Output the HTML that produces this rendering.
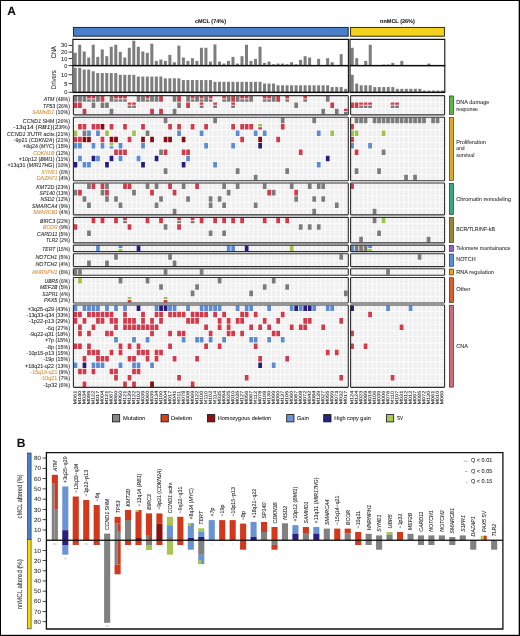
<!DOCTYPE html>
<html><head><meta charset="utf-8"><style>
html,body{margin:0;padding:0;background:#fff;width:520px;height:636px;overflow:hidden}
svg{display:block;font-family:"Liberation Sans", sans-serif;will-change:transform;text-rendering:geometricPrecision}
text{stroke:#2a2a2a;stroke-width:0.07px}
.o{fill:#d98a35;stroke:#d98a35}
</style></head><body>
<svg width="520" height="636" viewBox="0 0 520 636" shape-rendering="auto">
<rect width="520" height="636" fill="#fff"/>
<rect x="0.00" y="0.00" width="520.00" height="1.00" fill="#000" />
<rect x="0.00" y="0.00" width="1.00" height="636.00" fill="#000" />
<rect x="518.70" y="0.00" width="1.30" height="636.00" fill="#000" />
<rect x="0.00" y="634.80" width="520.00" height="1.20" fill="#000" />
<text x="7.2" y="15.3" font-size="12" font-weight="bold" fill="#111">A</text>
<text x="16.7" y="447" font-size="12" font-weight="bold" fill="#111">B</text>
<text x="195" y="23.2" font-size="5.5" font-weight="bold" fill="#111" textLength="31" lengthAdjust="spacingAndGlyphs">cMCL (74%)</text>
<text x="380.1" y="23.2" font-size="5.5" font-weight="bold" fill="#111" textLength="34.7" lengthAdjust="spacingAndGlyphs">nnMCL (26%)</text>
<rect x="73.4" y="27.4" width="274.8" height="8.8" fill="#4a7fc9" stroke="#101828" stroke-width="0.9"/>
<rect x="350.6" y="27.4" width="93.8" height="8.8" fill="#f4d11c" stroke="#201a00" stroke-width="0.9"/>
<rect x="73.70" y="52.81" width="3.00" height="12.79" fill="#7d7d7d" />
<rect x="73.70" y="67.80" width="3.00" height="24.50" fill="#7d7d7d" />
<rect x="78.21" y="44.74" width="3.00" height="20.86" fill="#7d7d7d" />
<rect x="78.21" y="67.80" width="3.00" height="24.50" fill="#7d7d7d" />
<rect x="82.72" y="51.47" width="3.00" height="14.13" fill="#7d7d7d" />
<rect x="82.72" y="69.55" width="3.00" height="22.75" fill="#7d7d7d" />
<rect x="87.22" y="57.52" width="3.00" height="8.08" fill="#7d7d7d" />
<rect x="87.22" y="69.55" width="3.00" height="22.75" fill="#7d7d7d" />
<rect x="91.73" y="44.74" width="3.00" height="20.86" fill="#7d7d7d" />
<rect x="91.73" y="71.30" width="3.00" height="21.00" fill="#7d7d7d" />
<rect x="96.24" y="56.85" width="3.00" height="8.75" fill="#7d7d7d" />
<rect x="96.24" y="73.05" width="3.00" height="19.25" fill="#7d7d7d" />
<rect x="100.75" y="49.45" width="3.00" height="16.15" fill="#7d7d7d" />
<rect x="100.75" y="73.05" width="3.00" height="19.25" fill="#7d7d7d" />
<rect x="105.26" y="56.18" width="3.00" height="9.42" fill="#7d7d7d" />
<rect x="105.26" y="73.05" width="3.00" height="19.25" fill="#7d7d7d" />
<rect x="109.76" y="46.76" width="3.00" height="18.84" fill="#7d7d7d" />
<rect x="109.76" y="73.05" width="3.00" height="19.25" fill="#7d7d7d" />
<rect x="114.27" y="44.74" width="3.00" height="20.86" fill="#7d7d7d" />
<rect x="114.27" y="73.05" width="3.00" height="19.25" fill="#7d7d7d" />
<rect x="118.78" y="51.80" width="3.00" height="13.80" fill="#7d7d7d" />
<rect x="118.78" y="74.80" width="3.00" height="17.50" fill="#7d7d7d" />
<rect x="123.29" y="57.52" width="3.00" height="8.08" fill="#7d7d7d" />
<rect x="123.29" y="74.80" width="3.00" height="17.50" fill="#7d7d7d" />
<rect x="127.80" y="47.77" width="3.00" height="17.83" fill="#7d7d7d" />
<rect x="127.80" y="74.80" width="3.00" height="17.50" fill="#7d7d7d" />
<rect x="132.30" y="40.70" width="3.00" height="24.90" fill="#7d7d7d" />
<rect x="132.30" y="74.80" width="3.00" height="17.50" fill="#7d7d7d" />
<rect x="136.81" y="46.76" width="3.00" height="18.84" fill="#7d7d7d" />
<rect x="136.81" y="76.55" width="3.00" height="15.75" fill="#7d7d7d" />
<rect x="141.32" y="51.47" width="3.00" height="14.13" fill="#7d7d7d" />
<rect x="141.32" y="76.55" width="3.00" height="15.75" fill="#7d7d7d" />
<rect x="145.83" y="52.81" width="3.00" height="12.79" fill="#7d7d7d" />
<rect x="145.83" y="76.55" width="3.00" height="15.75" fill="#7d7d7d" />
<rect x="150.34" y="43.66" width="3.00" height="21.94" fill="#7d7d7d" />
<rect x="150.34" y="76.55" width="3.00" height="15.75" fill="#7d7d7d" />
<rect x="154.84" y="60.89" width="3.00" height="4.71" fill="#7d7d7d" />
<rect x="154.84" y="76.55" width="3.00" height="15.75" fill="#7d7d7d" />
<rect x="159.35" y="59.54" width="3.00" height="6.06" fill="#7d7d7d" />
<rect x="159.35" y="76.55" width="3.00" height="15.75" fill="#7d7d7d" />
<rect x="163.86" y="60.89" width="3.00" height="4.71" fill="#7d7d7d" />
<rect x="163.86" y="78.30" width="3.00" height="14.00" fill="#7d7d7d" />
<rect x="168.37" y="54.83" width="3.00" height="10.77" fill="#7d7d7d" />
<rect x="168.37" y="78.30" width="3.00" height="14.00" fill="#7d7d7d" />
<rect x="172.88" y="62.23" width="3.00" height="3.37" fill="#7d7d7d" />
<rect x="172.88" y="78.30" width="3.00" height="14.00" fill="#7d7d7d" />
<rect x="177.38" y="45.68" width="3.00" height="19.92" fill="#7d7d7d" />
<rect x="177.38" y="78.30" width="3.00" height="14.00" fill="#7d7d7d" />
<rect x="181.89" y="57.52" width="3.00" height="8.08" fill="#7d7d7d" />
<rect x="181.89" y="80.05" width="3.00" height="12.25" fill="#7d7d7d" />
<rect x="186.40" y="60.89" width="3.00" height="4.71" fill="#7d7d7d" />
<rect x="186.40" y="80.05" width="3.00" height="12.25" fill="#7d7d7d" />
<rect x="190.91" y="58.20" width="3.00" height="7.40" fill="#7d7d7d" />
<rect x="190.91" y="80.05" width="3.00" height="12.25" fill="#7d7d7d" />
<rect x="195.42" y="60.89" width="3.00" height="4.71" fill="#7d7d7d" />
<rect x="195.42" y="80.05" width="3.00" height="12.25" fill="#7d7d7d" />
<rect x="199.92" y="47.77" width="3.00" height="17.83" fill="#7d7d7d" />
<rect x="199.92" y="80.05" width="3.00" height="12.25" fill="#7d7d7d" />
<rect x="204.43" y="47.77" width="3.00" height="17.83" fill="#7d7d7d" />
<rect x="204.43" y="80.05" width="3.00" height="12.25" fill="#7d7d7d" />
<rect x="208.94" y="61.56" width="3.00" height="4.04" fill="#7d7d7d" />
<rect x="208.94" y="80.05" width="3.00" height="12.25" fill="#7d7d7d" />
<rect x="213.45" y="44.47" width="3.00" height="21.13" fill="#7d7d7d" />
<rect x="213.45" y="81.80" width="3.00" height="10.50" fill="#7d7d7d" />
<rect x="217.96" y="61.56" width="3.00" height="4.04" fill="#7d7d7d" />
<rect x="217.96" y="81.80" width="3.00" height="10.50" fill="#7d7d7d" />
<rect x="222.46" y="63.58" width="3.00" height="2.02" fill="#7d7d7d" />
<rect x="222.46" y="81.80" width="3.00" height="10.50" fill="#7d7d7d" />
<rect x="226.97" y="60.89" width="3.00" height="4.71" fill="#7d7d7d" />
<rect x="226.97" y="81.80" width="3.00" height="10.50" fill="#7d7d7d" />
<rect x="231.48" y="56.85" width="3.00" height="8.75" fill="#7d7d7d" />
<rect x="231.48" y="81.80" width="3.00" height="10.50" fill="#7d7d7d" />
<rect x="235.99" y="63.58" width="3.00" height="2.02" fill="#7d7d7d" />
<rect x="235.99" y="81.80" width="3.00" height="10.50" fill="#7d7d7d" />
<rect x="240.50" y="56.18" width="3.00" height="9.42" fill="#7d7d7d" />
<rect x="240.50" y="81.80" width="3.00" height="10.50" fill="#7d7d7d" />
<rect x="245.00" y="44.74" width="3.00" height="20.86" fill="#7d7d7d" />
<rect x="245.00" y="81.80" width="3.00" height="10.50" fill="#7d7d7d" />
<rect x="249.51" y="60.89" width="3.00" height="4.71" fill="#7d7d7d" />
<rect x="249.51" y="81.80" width="3.00" height="10.50" fill="#7d7d7d" />
<rect x="254.02" y="58.87" width="3.00" height="6.73" fill="#7d7d7d" />
<rect x="254.02" y="81.80" width="3.00" height="10.50" fill="#7d7d7d" />
<rect x="258.53" y="46.76" width="3.00" height="18.84" fill="#7d7d7d" />
<rect x="258.53" y="81.80" width="3.00" height="10.50" fill="#7d7d7d" />
<rect x="263.04" y="62.91" width="3.00" height="2.69" fill="#7d7d7d" />
<rect x="263.04" y="83.55" width="3.00" height="8.75" fill="#7d7d7d" />
<rect x="267.54" y="61.56" width="3.00" height="4.04" fill="#7d7d7d" />
<rect x="267.54" y="83.55" width="3.00" height="8.75" fill="#7d7d7d" />
<rect x="272.05" y="64.25" width="3.00" height="1.35" fill="#7d7d7d" />
<rect x="272.05" y="83.55" width="3.00" height="8.75" fill="#7d7d7d" />
<rect x="276.56" y="63.58" width="3.00" height="2.02" fill="#7d7d7d" />
<rect x="276.56" y="85.30" width="3.00" height="7.00" fill="#7d7d7d" />
<rect x="281.07" y="63.58" width="3.00" height="2.02" fill="#7d7d7d" />
<rect x="281.07" y="85.30" width="3.00" height="7.00" fill="#7d7d7d" />
<rect x="285.58" y="64.25" width="3.00" height="1.35" fill="#7d7d7d" />
<rect x="285.58" y="85.30" width="3.00" height="7.00" fill="#7d7d7d" />
<rect x="290.08" y="62.23" width="3.00" height="3.37" fill="#7d7d7d" />
<rect x="290.08" y="85.30" width="3.00" height="7.00" fill="#7d7d7d" />
<rect x="294.59" y="64.25" width="3.00" height="1.35" fill="#7d7d7d" />
<rect x="294.59" y="85.30" width="3.00" height="7.00" fill="#7d7d7d" />
<rect x="299.10" y="59.81" width="3.00" height="5.79" fill="#7d7d7d" />
<rect x="299.10" y="85.30" width="3.00" height="7.00" fill="#7d7d7d" />
<rect x="303.61" y="56.18" width="3.00" height="9.42" fill="#7d7d7d" />
<rect x="303.61" y="85.30" width="3.00" height="7.00" fill="#7d7d7d" />
<rect x="308.12" y="57.52" width="3.00" height="8.08" fill="#7d7d7d" />
<rect x="308.12" y="85.30" width="3.00" height="7.00" fill="#7d7d7d" />
<rect x="312.62" y="85.30" width="3.00" height="7.00" fill="#7d7d7d" />
<rect x="317.13" y="58.87" width="3.00" height="6.73" fill="#7d7d7d" />
<rect x="317.13" y="85.30" width="3.00" height="7.00" fill="#7d7d7d" />
<rect x="321.64" y="85.30" width="3.00" height="7.00" fill="#7d7d7d" />
<rect x="326.15" y="58.20" width="3.00" height="7.40" fill="#7d7d7d" />
<rect x="326.15" y="85.30" width="3.00" height="7.00" fill="#7d7d7d" />
<rect x="330.66" y="62.23" width="3.00" height="3.37" fill="#7d7d7d" />
<rect x="330.66" y="87.05" width="3.00" height="5.25" fill="#7d7d7d" />
<rect x="335.16" y="87.05" width="3.00" height="5.25" fill="#7d7d7d" />
<rect x="339.67" y="54.16" width="3.00" height="11.44" fill="#7d7d7d" />
<rect x="339.67" y="87.05" width="3.00" height="5.25" fill="#7d7d7d" />
<rect x="344.18" y="88.80" width="3.00" height="3.50" fill="#7d7d7d" />
<rect x="350.70" y="47.77" width="3.00" height="17.83" fill="#7d7d7d" />
<rect x="350.70" y="74.80" width="3.00" height="17.50" fill="#7d7d7d" />
<rect x="355.21" y="58.20" width="3.00" height="7.40" fill="#7d7d7d" />
<rect x="355.21" y="83.55" width="3.00" height="8.75" fill="#7d7d7d" />
<rect x="359.72" y="85.30" width="3.00" height="7.00" fill="#7d7d7d" />
<rect x="364.23" y="60.89" width="3.00" height="4.71" fill="#7d7d7d" />
<rect x="364.23" y="85.30" width="3.00" height="7.00" fill="#7d7d7d" />
<rect x="368.74" y="44.74" width="3.00" height="20.86" fill="#7d7d7d" />
<rect x="368.74" y="85.30" width="3.00" height="7.00" fill="#7d7d7d" />
<rect x="373.25" y="87.05" width="3.00" height="5.25" fill="#7d7d7d" />
<rect x="377.76" y="87.05" width="3.00" height="5.25" fill="#7d7d7d" />
<rect x="382.27" y="64.59" width="3.00" height="1.01" fill="#7d7d7d" />
<rect x="382.27" y="87.05" width="3.00" height="5.25" fill="#7d7d7d" />
<rect x="386.78" y="64.59" width="3.00" height="1.01" fill="#7d7d7d" />
<rect x="386.78" y="87.05" width="3.00" height="5.25" fill="#7d7d7d" />
<rect x="391.29" y="62.91" width="3.00" height="2.69" fill="#7d7d7d" />
<rect x="391.29" y="87.05" width="3.00" height="5.25" fill="#7d7d7d" />
<rect x="395.80" y="88.80" width="3.00" height="3.50" fill="#7d7d7d" />
<rect x="400.31" y="60.89" width="3.00" height="4.71" fill="#7d7d7d" />
<rect x="400.31" y="88.80" width="3.00" height="3.50" fill="#7d7d7d" />
<rect x="404.82" y="88.80" width="3.00" height="3.50" fill="#7d7d7d" />
<rect x="409.33" y="65.20" width="3.00" height="0.40" fill="#7d7d7d" />
<rect x="409.33" y="88.80" width="3.00" height="3.50" fill="#7d7d7d" />
<rect x="413.84" y="88.80" width="3.00" height="3.50" fill="#7d7d7d" />
<rect x="418.35" y="88.80" width="3.00" height="3.50" fill="#7d7d7d" />
<rect x="422.86" y="90.55" width="3.00" height="1.75" fill="#7d7d7d" />
<rect x="427.37" y="63.58" width="3.00" height="2.02" fill="#7d7d7d" />
<rect x="427.37" y="90.55" width="3.00" height="1.75" fill="#7d7d7d" />
<rect x="431.88" y="65.20" width="3.00" height="0.40" fill="#7d7d7d" />
<rect x="431.88" y="90.55" width="3.00" height="1.75" fill="#7d7d7d" />
<rect x="436.39" y="90.55" width="3.00" height="1.75" fill="#7d7d7d" />
<rect x="440.90" y="90.55" width="3.00" height="1.75" fill="#7d7d7d" />
<path d="M72.9 92.3 V39.4 H348.4 V92.3" fill="none" stroke="#111" stroke-width="1.1"/>
<rect x="72.40" y="64.90" width="276.50" height="1.50" fill="#0a0a0a" />
<rect x="72.40" y="91.60" width="276.50" height="1.50" fill="#0a0a0a" />
<path d="M350.0 92.3 V39.4 H444.8 V92.3" fill="none" stroke="#111" stroke-width="1.1"/>
<rect x="349.50" y="64.90" width="95.80" height="1.50" fill="#0a0a0a" />
<rect x="349.50" y="91.60" width="95.80" height="1.50" fill="#0a0a0a" />
<rect x="68.60" y="44.95" width="3.60" height="0.90" fill="#222" />
<text x="67.3" y="47.40" font-size="5.7" fill="#222" text-anchor="end">30</text>
<rect x="68.60" y="51.65" width="3.60" height="0.90" fill="#222" />
<text x="67.3" y="54.10" font-size="5.7" fill="#222" text-anchor="end">20</text>
<rect x="68.60" y="58.15" width="3.60" height="0.90" fill="#222" />
<text x="67.3" y="60.60" font-size="5.7" fill="#222" text-anchor="end">10</text>
<rect x="68.60" y="65.15" width="3.60" height="0.90" fill="#222" />
<text x="67.3" y="67.60" font-size="5.7" fill="#222" text-anchor="end">0</text>
<rect x="68.60" y="74.35" width="3.60" height="0.90" fill="#222" />
<text x="67.3" y="76.80" font-size="5.7" fill="#222" text-anchor="end">10</text>
<rect x="68.60" y="83.25" width="3.60" height="0.90" fill="#222" />
<text x="67.3" y="85.70" font-size="5.7" fill="#222" text-anchor="end">5</text>
<rect x="68.60" y="91.85" width="3.60" height="0.90" fill="#222" />
<text x="67.3" y="94.30" font-size="5.7" fill="#222" text-anchor="end">0</text>
<text x="0" y="0" font-size="6.9" fill="#222" transform="translate(56.0 52.2) rotate(-90)" text-anchor="middle" textLength="12" lengthAdjust="spacingAndGlyphs">CNA</text>
<text x="0" y="0" font-size="6.9" fill="#222" transform="translate(55.6 79.7) rotate(-90)" text-anchor="middle" textLength="19" lengthAdjust="spacingAndGlyphs">Drivers</text>
<rect x="449.3" y="95.94" width="4.2" height="18.59" fill="#5db64b" stroke="#222" stroke-width="0.6"/>
<text x="456.2" y="104.10" font-size="5.7" fill="#333" textLength="33.20" lengthAdjust="spacingAndGlyphs">DNA damage</text>
<text x="456.2" y="110.50" font-size="5.7" fill="#333" textLength="21.80" lengthAdjust="spacingAndGlyphs">response</text>
<rect x="449.3" y="117.53" width="4.2" height="62.90" fill="#d9a92c" stroke="#222" stroke-width="0.6"/>
<text x="456.2" y="143.80" font-size="5.7" fill="#333" textLength="29.80" lengthAdjust="spacingAndGlyphs">Proliferation</text>
<text x="456.2" y="150.30" font-size="5.7" fill="#333" textLength="8.40" lengthAdjust="spacingAndGlyphs">and</text>
<text x="456.2" y="156.80" font-size="5.7" fill="#333" textLength="18.20" lengthAdjust="spacingAndGlyphs">survival</text>
<rect x="449.3" y="183.34" width="4.2" height="31.25" fill="#39a97c" stroke="#222" stroke-width="0.6"/>
<text x="456.2" y="200.60" font-size="5.7" fill="#333" textLength="54.80" lengthAdjust="spacingAndGlyphs">Chromatin remodeling</text>
<rect x="449.3" y="217.63" width="4.2" height="24.92" fill="#968838" stroke="#222" stroke-width="0.6"/>
<text x="456.2" y="231.30" font-size="5.7" fill="#333" textLength="38.80" lengthAdjust="spacingAndGlyphs">BCR/TLR/NF-kB</text>
<rect x="449.3" y="245.44" width="4.2" height="5.93" fill="#9467bf" stroke="#222" stroke-width="0.6"/>
<text x="456.2" y="249.50" font-size="5.7" fill="#333" textLength="54.40" lengthAdjust="spacingAndGlyphs">Telomere mantainance</text>
<rect x="449.3" y="254.03" width="4.2" height="12.26" fill="#5a8fd8" stroke="#222" stroke-width="0.6"/>
<text x="456.2" y="261.30" font-size="5.7" fill="#333" textLength="19.40" lengthAdjust="spacingAndGlyphs">NOTCH</text>
<rect x="449.3" y="269.03" width="4.2" height="5.93" fill="#f0a020" stroke="#222" stroke-width="0.6"/>
<text x="456.2" y="273.60" font-size="5.7" fill="#333" textLength="37.80" lengthAdjust="spacingAndGlyphs">RNA regulation</text>
<rect x="449.3" y="277.73" width="4.2" height="24.92" fill="#da5e2e" stroke="#222" stroke-width="0.6"/>
<text x="456.2" y="291.30" font-size="5.7" fill="#333" textLength="14.10" lengthAdjust="spacingAndGlyphs">Other</text>
<rect x="449.3" y="305.23" width="4.2" height="81.89" fill="#cc6e76" stroke="#222" stroke-width="0.6"/>
<text x="456.2" y="347.70" font-size="5.7" fill="#333" textLength="11.80" lengthAdjust="spacingAndGlyphs">CNA</text>
<path fill="#7b7b7b" d="M73.58 96.12h3.75v5.55h-3.75zM78.08 96.12h3.75v5.55h-3.75zM82.59 96.12h3.75v5.55h-3.75zM87.09 99.25h3.75v2.42h-3.75zM91.60 99.25h3.75v2.42h-3.75zM96.10 96.12h3.75v5.55h-3.75zM109.62 96.12h3.75v5.55h-3.75zM114.12 99.25h3.75v2.42h-3.75zM118.63 99.25h3.75v2.42h-3.75zM123.13 99.25h3.75v2.42h-3.75zM136.65 96.12h3.75v5.55h-3.75zM141.15 96.12h3.75v5.55h-3.75zM145.66 99.25h3.75v2.42h-3.75zM150.16 96.12h3.75v5.55h-3.75zM154.67 96.12h3.75v5.55h-3.75zM172.69 96.12h3.75v5.55h-3.75zM186.20 96.12h3.75v5.55h-3.75zM190.71 99.25h3.75v2.42h-3.75zM195.21 96.12h3.75v5.55h-3.75zM199.72 99.25h3.75v2.42h-3.75zM204.22 96.12h3.75v5.55h-3.75zM208.73 99.25h3.75v2.42h-3.75zM222.24 99.25h3.75v2.42h-3.75zM226.75 96.12h3.75v5.55h-3.75zM235.76 96.12h3.75v5.55h-3.75zM240.26 99.25h3.75v2.42h-3.75zM244.77 99.25h3.75v2.42h-3.75zM249.27 96.12h3.75v5.55h-3.75zM262.79 99.25h3.75v2.42h-3.75zM267.29 99.25h3.75v2.42h-3.75zM271.80 96.12h3.75v5.55h-3.75zM285.31 99.25h3.75v2.42h-3.75zM303.33 99.25h3.75v2.42h-3.75zM325.86 96.12h3.75v5.55h-3.75zM91.60 102.45h3.75v5.55h-3.75zM100.61 102.45h3.75v5.55h-3.75zM105.11 102.45h3.75v5.55h-3.75zM127.64 105.58h3.75v2.42h-3.75zM132.14 105.58h3.75v2.42h-3.75zM177.19 102.45h3.75v5.55h-3.75zM199.72 105.58h3.75v2.42h-3.75zM213.23 105.58h3.75v2.42h-3.75zM231.25 105.58h3.75v2.42h-3.75zM294.32 102.45h3.75v5.55h-3.75zM359.18 105.58h3.75v2.42h-3.75zM363.68 105.58h3.75v2.42h-3.75zM368.18 105.58h3.75v2.42h-3.75zM390.68 105.58h3.75v2.42h-3.75zM395.18 105.58h3.75v2.42h-3.75zM109.62 108.78h3.75v5.55h-3.75zM172.69 108.78h3.75v5.55h-3.75zM321.35 108.78h3.75v5.55h-3.75zM334.87 108.78h3.75v5.55h-3.75zM343.88 111.91h3.75v2.42h-3.75zM163.68 117.72h3.75v5.55h-3.75zM213.23 117.72h3.75v5.55h-3.75zM280.81 117.72h3.75v5.55h-3.75zM312.34 117.72h3.75v5.55h-3.75zM354.68 117.72h3.75v5.55h-3.75zM359.18 117.72h3.75v5.55h-3.75zM363.68 117.72h3.75v5.55h-3.75zM372.68 117.72h3.75v5.55h-3.75zM377.18 117.72h3.75v5.55h-3.75zM381.68 117.72h3.75v5.55h-3.75zM386.18 117.72h3.75v5.55h-3.75zM390.68 117.72h3.75v5.55h-3.75zM395.18 117.72h3.75v5.55h-3.75zM399.68 117.72h3.75v5.55h-3.75zM404.18 117.72h3.75v5.55h-3.75zM408.68 117.72h3.75v5.55h-3.75zM413.18 117.72h3.75v5.55h-3.75zM417.68 117.72h3.75v5.55h-3.75zM422.18 117.72h3.75v5.55h-3.75zM431.18 117.72h3.75v5.55h-3.75zM435.68 117.72h3.75v5.55h-3.75zM82.59 130.38h3.75v5.55h-3.75zM145.66 130.38h3.75v5.55h-3.75zM159.17 149.38h3.75v5.55h-3.75zM381.68 149.38h3.75v5.55h-3.75zM163.68 168.36h3.75v5.55h-3.75zM235.76 168.36h3.75v5.55h-3.75zM285.31 168.36h3.75v5.55h-3.75zM354.68 168.36h3.75v5.55h-3.75zM377.18 168.36h3.75v5.55h-3.75zM253.78 174.69h3.75v5.55h-3.75zM404.18 174.69h3.75v5.55h-3.75zM413.18 174.69h3.75v5.55h-3.75zM87.09 183.53h3.75v5.55h-3.75zM105.11 183.53h3.75v5.55h-3.75zM145.66 183.53h3.75v5.55h-3.75zM154.67 183.53h3.75v5.55h-3.75zM181.70 183.53h3.75v5.55h-3.75zM222.24 183.53h3.75v5.55h-3.75zM235.76 183.53h3.75v5.55h-3.75zM262.79 183.53h3.75v5.55h-3.75zM289.82 183.53h3.75v5.55h-3.75zM307.84 183.53h3.75v5.55h-3.75zM316.85 183.53h3.75v5.55h-3.75zM321.35 183.53h3.75v5.55h-3.75zM73.58 189.86h3.75v5.55h-3.75zM100.61 189.86h3.75v5.55h-3.75zM132.14 189.86h3.75v5.55h-3.75zM226.75 189.86h3.75v5.55h-3.75zM271.80 189.86h3.75v5.55h-3.75zM82.59 196.19h3.75v5.55h-3.75zM105.11 196.19h3.75v5.55h-3.75zM114.12 196.19h3.75v5.55h-3.75zM159.17 196.19h3.75v5.55h-3.75zM186.20 196.19h3.75v5.55h-3.75zM208.73 196.19h3.75v5.55h-3.75zM217.74 196.19h3.75v5.55h-3.75zM294.32 196.19h3.75v5.55h-3.75zM312.34 196.19h3.75v5.55h-3.75zM321.35 196.19h3.75v5.55h-3.75zM87.09 202.52h3.75v5.55h-3.75zM118.63 202.52h3.75v5.55h-3.75zM154.67 202.52h3.75v5.55h-3.75zM208.73 202.52h3.75v5.55h-3.75zM222.24 202.52h3.75v5.55h-3.75zM253.78 202.52h3.75v5.55h-3.75zM334.87 202.52h3.75v5.55h-3.75zM172.69 208.84h3.75v5.55h-3.75zM312.34 208.84h3.75v5.55h-3.75zM372.68 208.84h3.75v5.55h-3.75zM123.13 220.95h3.75v2.42h-3.75zM177.19 220.95h3.75v2.42h-3.75zM190.71 220.95h3.75v2.42h-3.75zM372.68 217.82h3.75v5.55h-3.75zM163.68 224.16h3.75v5.55h-3.75zM298.83 224.16h3.75v5.55h-3.75zM307.84 224.16h3.75v5.55h-3.75zM316.85 224.16h3.75v5.55h-3.75zM87.09 230.48h3.75v5.55h-3.75zM208.73 230.48h3.75v5.55h-3.75zM222.24 230.48h3.75v5.55h-3.75zM377.18 230.48h3.75v5.55h-3.75zM359.18 236.81h3.75v5.55h-3.75zM426.68 236.81h3.75v5.55h-3.75zM354.68 245.62h3.75v5.55h-3.75zM359.18 245.62h3.75v5.55h-3.75zM363.68 245.62h3.75v5.55h-3.75zM114.12 254.22h3.75v5.55h-3.75zM168.18 254.22h3.75v5.55h-3.75zM339.37 254.22h3.75v5.55h-3.75zM417.68 254.22h3.75v5.55h-3.75zM87.09 260.56h3.75v5.55h-3.75zM105.11 260.56h3.75v5.55h-3.75zM172.69 260.56h3.75v5.55h-3.75zM73.58 269.23h3.75v5.55h-3.75zM78.08 269.23h3.75v5.55h-3.75zM163.68 269.23h3.75v5.55h-3.75zM199.72 269.23h3.75v5.55h-3.75zM386.18 269.23h3.75v5.55h-3.75zM118.63 277.93h3.75v5.55h-3.75zM145.66 277.93h3.75v5.55h-3.75zM217.74 277.93h3.75v5.55h-3.75zM271.80 277.93h3.75v5.55h-3.75zM159.17 284.25h3.75v5.55h-3.75zM195.21 284.25h3.75v5.55h-3.75zM262.79 284.25h3.75v5.55h-3.75zM285.31 284.25h3.75v5.55h-3.75zM190.71 290.59h3.75v5.55h-3.75zM249.27 290.59h3.75v5.55h-3.75zM343.88 290.59h3.75v5.55h-3.75z"/>
<path fill="#d03a4a" d="M87.09 96.12h3.75v2.42h-3.75zM91.60 96.12h3.75v2.42h-3.75zM100.61 96.12h3.75v5.55h-3.75zM114.12 96.12h3.75v2.42h-3.75zM118.63 96.12h3.75v2.42h-3.75zM123.13 96.12h3.75v2.42h-3.75zM145.66 96.12h3.75v2.42h-3.75zM159.17 96.12h3.75v5.55h-3.75zM177.19 96.12h3.75v5.55h-3.75zM190.71 96.12h3.75v2.42h-3.75zM199.72 96.12h3.75v2.42h-3.75zM208.73 96.12h3.75v2.42h-3.75zM222.24 96.12h3.75v2.42h-3.75zM231.25 96.12h3.75v5.55h-3.75zM240.26 96.12h3.75v2.42h-3.75zM244.77 96.12h3.75v2.42h-3.75zM262.79 96.12h3.75v2.42h-3.75zM267.29 96.12h3.75v2.42h-3.75zM276.30 96.12h3.75v5.55h-3.75zM285.31 96.12h3.75v2.42h-3.75zM303.33 96.12h3.75v2.42h-3.75zM73.58 102.45h3.75v5.55h-3.75zM78.08 102.45h3.75v5.55h-3.75zM127.64 102.45h3.75v2.42h-3.75zM132.14 102.45h3.75v2.42h-3.75zM186.20 102.45h3.75v5.55h-3.75zM199.72 102.45h3.75v2.42h-3.75zM213.23 102.45h3.75v2.42h-3.75zM231.25 102.45h3.75v2.42h-3.75zM330.36 102.45h3.75v5.55h-3.75zM350.18 102.45h3.75v5.55h-3.75zM354.68 102.45h3.75v5.55h-3.75zM359.18 102.45h3.75v2.42h-3.75zM363.68 102.45h3.75v2.42h-3.75zM368.18 102.45h3.75v2.42h-3.75zM390.68 102.45h3.75v2.42h-3.75zM395.18 102.45h3.75v2.42h-3.75zM82.59 108.78h3.75v5.55h-3.75zM150.16 108.78h3.75v5.55h-3.75zM159.17 108.78h3.75v5.55h-3.75zM343.88 108.78h3.75v2.42h-3.75zM78.08 124.05h3.75v5.55h-3.75zM82.59 124.05h3.75v5.55h-3.75zM91.60 124.05h3.75v5.55h-3.75zM96.10 124.05h3.75v5.55h-3.75zM109.62 124.05h3.75v5.55h-3.75zM123.13 124.05h3.75v5.55h-3.75zM141.15 124.05h3.75v5.55h-3.75zM168.18 124.05h3.75v5.55h-3.75zM177.19 124.05h3.75v5.55h-3.75zM190.71 124.05h3.75v5.55h-3.75zM204.22 124.05h3.75v5.55h-3.75zM231.25 124.05h3.75v5.55h-3.75zM240.26 124.05h3.75v5.55h-3.75zM244.77 124.05h3.75v5.55h-3.75zM249.27 124.05h3.75v5.55h-3.75zM258.28 127.18h3.75v2.42h-3.75zM280.81 124.05h3.75v5.55h-3.75zM350.18 124.05h3.75v5.55h-3.75zM73.58 136.72h3.75v5.55h-3.75zM78.08 136.72h3.75v5.55h-3.75zM100.61 136.72h3.75v5.55h-3.75zM127.64 136.72h3.75v5.55h-3.75zM240.26 136.72h3.75v5.55h-3.75zM276.30 136.72h3.75v5.55h-3.75zM350.18 136.72h3.75v5.55h-3.75zM114.12 149.38h3.75v5.55h-3.75zM118.63 149.38h3.75v5.55h-3.75zM123.13 149.38h3.75v5.55h-3.75zM163.68 149.38h3.75v5.55h-3.75zM181.70 149.38h3.75v5.55h-3.75zM186.20 149.38h3.75v5.55h-3.75zM298.83 149.38h3.75v5.55h-3.75zM354.68 149.38h3.75v5.55h-3.75zM91.60 183.53h3.75v5.55h-3.75zM100.61 183.53h3.75v5.55h-3.75zM123.13 183.53h3.75v5.55h-3.75zM127.64 183.53h3.75v5.55h-3.75zM168.18 183.53h3.75v5.55h-3.75zM195.21 183.53h3.75v5.55h-3.75zM350.18 183.53h3.75v5.55h-3.75zM78.08 189.86h3.75v5.55h-3.75zM105.11 189.86h3.75v5.55h-3.75zM150.16 189.86h3.75v5.55h-3.75zM172.69 189.86h3.75v5.55h-3.75zM267.29 189.86h3.75v5.55h-3.75zM294.32 189.86h3.75v5.55h-3.75zM91.60 217.82h3.75v5.55h-3.75zM100.61 217.82h3.75v5.55h-3.75zM114.12 217.82h3.75v5.55h-3.75zM123.13 217.82h3.75v2.42h-3.75zM145.66 217.82h3.75v5.55h-3.75zM159.17 217.82h3.75v5.55h-3.75zM177.19 217.82h3.75v2.42h-3.75zM190.71 217.82h3.75v2.42h-3.75zM199.72 217.82h3.75v5.55h-3.75zM213.23 217.82h3.75v5.55h-3.75zM222.24 217.82h3.75v5.55h-3.75zM231.25 217.82h3.75v5.55h-3.75zM240.26 217.82h3.75v5.55h-3.75zM262.79 217.82h3.75v5.55h-3.75zM276.30 217.82h3.75v5.55h-3.75zM285.31 217.82h3.75v5.55h-3.75zM73.58 224.16h3.75v5.55h-3.75zM127.64 224.16h3.75v5.55h-3.75zM177.19 224.16h3.75v5.55h-3.75zM127.64 300.04h3.75v2.42h-3.75zM163.68 300.04h3.75v2.42h-3.75zM73.58 311.75h3.75v5.55h-3.75zM78.08 311.75h3.75v5.55h-3.75zM87.09 311.75h3.75v5.55h-3.75zM91.60 311.75h3.75v5.55h-3.75zM96.10 311.75h3.75v5.55h-3.75zM100.61 311.75h3.75v5.55h-3.75zM105.11 311.75h3.75v5.55h-3.75zM109.62 311.75h3.75v5.55h-3.75zM123.13 311.75h3.75v5.55h-3.75zM141.15 311.75h3.75v5.55h-3.75zM154.67 311.75h3.75v5.55h-3.75zM159.17 311.75h3.75v5.55h-3.75zM168.18 311.75h3.75v5.55h-3.75zM172.69 311.75h3.75v5.55h-3.75zM177.19 311.75h3.75v5.55h-3.75zM181.70 311.75h3.75v5.55h-3.75zM190.71 311.75h3.75v5.55h-3.75zM195.21 311.75h3.75v5.55h-3.75zM199.72 311.75h3.75v5.55h-3.75zM204.22 311.75h3.75v5.55h-3.75zM213.23 311.75h3.75v5.55h-3.75zM222.24 311.75h3.75v5.55h-3.75zM240.26 311.75h3.75v5.55h-3.75zM244.77 311.75h3.75v5.55h-3.75zM253.78 311.75h3.75v5.55h-3.75zM280.81 311.75h3.75v5.55h-3.75zM368.18 311.75h3.75v5.55h-3.75zM73.58 318.09h3.75v5.55h-3.75zM82.59 318.09h3.75v5.55h-3.75zM96.10 318.09h3.75v5.55h-3.75zM100.61 318.09h3.75v5.55h-3.75zM109.62 318.09h3.75v5.55h-3.75zM114.12 318.09h3.75v5.55h-3.75zM123.13 318.09h3.75v5.55h-3.75zM127.64 318.09h3.75v5.55h-3.75zM132.14 318.09h3.75v5.55h-3.75zM141.15 318.09h3.75v5.55h-3.75zM150.16 318.09h3.75v5.55h-3.75zM159.17 318.09h3.75v5.55h-3.75zM186.20 318.09h3.75v5.55h-3.75zM190.71 318.09h3.75v5.55h-3.75zM195.21 318.09h3.75v5.55h-3.75zM217.74 318.09h3.75v5.55h-3.75zM226.75 318.09h3.75v5.55h-3.75zM235.76 318.09h3.75v5.55h-3.75zM240.26 318.09h3.75v5.55h-3.75zM262.79 318.09h3.75v5.55h-3.75zM276.30 318.09h3.75v5.55h-3.75zM303.33 318.09h3.75v5.55h-3.75zM307.84 318.09h3.75v5.55h-3.75zM339.37 318.09h3.75v5.55h-3.75zM78.08 324.42h3.75v5.55h-3.75zM91.60 324.42h3.75v5.55h-3.75zM114.12 324.42h3.75v5.55h-3.75zM123.13 324.42h3.75v5.55h-3.75zM127.64 324.42h3.75v5.55h-3.75zM132.14 324.42h3.75v5.55h-3.75zM136.65 324.42h3.75v5.55h-3.75zM141.15 324.42h3.75v5.55h-3.75zM145.66 324.42h3.75v5.55h-3.75zM150.16 324.42h3.75v5.55h-3.75zM154.67 324.42h3.75v5.55h-3.75zM204.22 324.42h3.75v5.55h-3.75zM217.74 324.42h3.75v5.55h-3.75zM226.75 324.42h3.75v5.55h-3.75zM249.27 324.42h3.75v5.55h-3.75zM258.28 324.42h3.75v5.55h-3.75zM267.29 324.42h3.75v5.55h-3.75zM289.82 324.42h3.75v5.55h-3.75zM298.83 324.42h3.75v5.55h-3.75zM303.33 324.42h3.75v5.55h-3.75zM321.35 324.42h3.75v5.55h-3.75zM399.68 324.42h3.75v5.55h-3.75zM78.08 330.75h3.75v5.55h-3.75zM87.09 330.75h3.75v5.55h-3.75zM105.11 330.75h3.75v5.55h-3.75zM109.62 330.75h3.75v5.55h-3.75zM150.16 330.75h3.75v5.55h-3.75zM168.18 330.75h3.75v5.55h-3.75zM177.19 330.75h3.75v5.55h-3.75zM181.70 330.75h3.75v5.55h-3.75zM208.73 330.75h3.75v5.55h-3.75zM226.75 330.75h3.75v5.55h-3.75zM231.25 330.75h3.75v5.55h-3.75zM240.26 330.75h3.75v5.55h-3.75zM271.80 330.75h3.75v5.55h-3.75zM276.30 330.75h3.75v5.55h-3.75zM350.18 330.75h3.75v5.55h-3.75zM73.58 343.41h3.75v5.55h-3.75zM78.08 343.41h3.75v5.55h-3.75zM87.09 343.41h3.75v5.55h-3.75zM118.63 343.41h3.75v5.55h-3.75zM127.64 343.41h3.75v5.55h-3.75zM136.65 343.41h3.75v5.55h-3.75zM168.18 343.41h3.75v5.55h-3.75zM204.22 343.41h3.75v5.55h-3.75zM217.74 343.41h3.75v5.55h-3.75zM253.78 343.41h3.75v5.55h-3.75zM350.18 343.41h3.75v5.55h-3.75zM363.68 343.41h3.75v5.55h-3.75zM87.09 349.74h3.75v5.55h-3.75zM91.60 349.74h3.75v5.55h-3.75zM96.10 349.74h3.75v5.55h-3.75zM109.62 349.74h3.75v5.55h-3.75zM118.63 349.74h3.75v5.55h-3.75zM136.65 349.74h3.75v5.55h-3.75zM141.15 349.74h3.75v5.55h-3.75zM145.66 349.74h3.75v5.55h-3.75zM154.67 349.74h3.75v5.55h-3.75zM159.17 349.74h3.75v5.55h-3.75zM325.86 349.74h3.75v5.55h-3.75zM334.87 349.74h3.75v5.55h-3.75zM82.59 356.06h3.75v5.55h-3.75zM96.10 356.06h3.75v5.55h-3.75zM100.61 356.06h3.75v5.55h-3.75zM105.11 356.06h3.75v5.55h-3.75zM127.64 356.06h3.75v5.55h-3.75zM132.14 356.06h3.75v5.55h-3.75zM145.66 356.06h3.75v5.55h-3.75zM154.67 356.06h3.75v5.55h-3.75zM172.69 356.06h3.75v5.55h-3.75zM195.21 356.06h3.75v5.55h-3.75zM258.28 356.06h3.75v5.55h-3.75zM285.31 356.06h3.75v5.55h-3.75zM78.08 368.73h3.75v5.55h-3.75zM82.59 368.73h3.75v5.55h-3.75zM91.60 368.73h3.75v5.55h-3.75zM109.62 368.73h3.75v5.55h-3.75zM114.12 368.73h3.75v5.55h-3.75zM132.14 368.73h3.75v5.55h-3.75zM136.65 368.73h3.75v5.55h-3.75zM114.12 375.06h3.75v5.55h-3.75zM127.64 375.06h3.75v5.55h-3.75zM177.19 375.06h3.75v5.55h-3.75zM244.77 375.06h3.75v5.55h-3.75zM339.37 375.06h3.75v5.55h-3.75zM390.68 375.06h3.75v5.55h-3.75zM82.59 381.38h3.75v5.55h-3.75zM123.13 381.38h3.75v5.55h-3.75zM132.14 381.38h3.75v5.55h-3.75zM190.71 381.38h3.75v5.55h-3.75z"/>
<path fill="#f0f0f0" d="M105.11 96.12h3.75v5.55h-3.75zM127.64 96.12h3.75v5.55h-3.75zM132.14 96.12h3.75v5.55h-3.75zM163.68 96.12h3.75v5.55h-3.75zM168.18 96.12h3.75v5.55h-3.75zM181.70 96.12h3.75v5.55h-3.75zM213.23 96.12h3.75v5.55h-3.75zM217.74 96.12h3.75v5.55h-3.75zM253.78 96.12h3.75v5.55h-3.75zM258.28 96.12h3.75v5.55h-3.75zM280.81 96.12h3.75v5.55h-3.75zM289.82 96.12h3.75v5.55h-3.75zM294.32 96.12h3.75v5.55h-3.75zM298.83 96.12h3.75v5.55h-3.75zM307.84 96.12h3.75v5.55h-3.75zM312.34 96.12h3.75v5.55h-3.75zM316.85 96.12h3.75v5.55h-3.75zM321.35 96.12h3.75v5.55h-3.75zM330.36 96.12h3.75v5.55h-3.75zM334.87 96.12h3.75v5.55h-3.75zM339.37 96.12h3.75v5.55h-3.75zM343.88 96.12h3.75v5.55h-3.75zM350.18 96.12h3.75v5.55h-3.75zM354.68 96.12h3.75v5.55h-3.75zM359.18 96.12h3.75v5.55h-3.75zM363.68 96.12h3.75v5.55h-3.75zM368.18 96.12h3.75v5.55h-3.75zM372.68 96.12h3.75v5.55h-3.75zM377.18 96.12h3.75v5.55h-3.75zM381.68 96.12h3.75v5.55h-3.75zM386.18 96.12h3.75v5.55h-3.75zM390.68 96.12h3.75v5.55h-3.75zM395.18 96.12h3.75v5.55h-3.75zM399.68 96.12h3.75v5.55h-3.75zM404.18 96.12h3.75v5.55h-3.75zM408.68 96.12h3.75v5.55h-3.75zM413.18 96.12h3.75v5.55h-3.75zM417.68 96.12h3.75v5.55h-3.75zM422.18 96.12h3.75v5.55h-3.75zM426.68 96.12h3.75v5.55h-3.75zM431.18 96.12h3.75v5.55h-3.75zM435.68 96.12h3.75v5.55h-3.75zM440.18 96.12h3.75v5.55h-3.75zM82.59 102.45h3.75v5.55h-3.75zM87.09 102.45h3.75v5.55h-3.75zM96.10 102.45h3.75v5.55h-3.75zM109.62 102.45h3.75v5.55h-3.75zM114.12 102.45h3.75v5.55h-3.75zM118.63 102.45h3.75v5.55h-3.75zM123.13 102.45h3.75v5.55h-3.75zM136.65 102.45h3.75v5.55h-3.75zM141.15 102.45h3.75v5.55h-3.75zM145.66 102.45h3.75v5.55h-3.75zM150.16 102.45h3.75v5.55h-3.75zM154.67 102.45h3.75v5.55h-3.75zM159.17 102.45h3.75v5.55h-3.75zM163.68 102.45h3.75v5.55h-3.75zM168.18 102.45h3.75v5.55h-3.75zM172.69 102.45h3.75v5.55h-3.75zM181.70 102.45h3.75v5.55h-3.75zM190.71 102.45h3.75v5.55h-3.75zM195.21 102.45h3.75v5.55h-3.75zM204.22 102.45h3.75v5.55h-3.75zM208.73 102.45h3.75v5.55h-3.75zM217.74 102.45h3.75v5.55h-3.75zM222.24 102.45h3.75v5.55h-3.75zM226.75 102.45h3.75v5.55h-3.75zM235.76 102.45h3.75v5.55h-3.75zM240.26 102.45h3.75v5.55h-3.75zM244.77 102.45h3.75v5.55h-3.75zM249.27 102.45h3.75v5.55h-3.75zM253.78 102.45h3.75v5.55h-3.75zM258.28 102.45h3.75v5.55h-3.75zM262.79 102.45h3.75v5.55h-3.75zM267.29 102.45h3.75v5.55h-3.75zM271.80 102.45h3.75v5.55h-3.75zM276.30 102.45h3.75v5.55h-3.75zM280.81 102.45h3.75v5.55h-3.75zM285.31 102.45h3.75v5.55h-3.75zM289.82 102.45h3.75v5.55h-3.75zM298.83 102.45h3.75v5.55h-3.75zM303.33 102.45h3.75v5.55h-3.75zM307.84 102.45h3.75v5.55h-3.75zM312.34 102.45h3.75v5.55h-3.75zM316.85 102.45h3.75v5.55h-3.75zM321.35 102.45h3.75v5.55h-3.75zM325.86 102.45h3.75v5.55h-3.75zM334.87 102.45h3.75v5.55h-3.75zM339.37 102.45h3.75v5.55h-3.75zM343.88 102.45h3.75v5.55h-3.75zM372.68 102.45h3.75v5.55h-3.75zM377.18 102.45h3.75v5.55h-3.75zM381.68 102.45h3.75v5.55h-3.75zM386.18 102.45h3.75v5.55h-3.75zM399.68 102.45h3.75v5.55h-3.75zM404.18 102.45h3.75v5.55h-3.75zM408.68 102.45h3.75v5.55h-3.75zM413.18 102.45h3.75v5.55h-3.75zM417.68 102.45h3.75v5.55h-3.75zM422.18 102.45h3.75v5.55h-3.75zM426.68 102.45h3.75v5.55h-3.75zM431.18 102.45h3.75v5.55h-3.75zM435.68 102.45h3.75v5.55h-3.75zM440.18 102.45h3.75v5.55h-3.75zM73.58 108.78h3.75v5.55h-3.75zM78.08 108.78h3.75v5.55h-3.75zM87.09 108.78h3.75v5.55h-3.75zM91.60 108.78h3.75v5.55h-3.75zM96.10 108.78h3.75v5.55h-3.75zM100.61 108.78h3.75v5.55h-3.75zM105.11 108.78h3.75v5.55h-3.75zM114.12 108.78h3.75v5.55h-3.75zM118.63 108.78h3.75v5.55h-3.75zM123.13 108.78h3.75v5.55h-3.75zM127.64 108.78h3.75v5.55h-3.75zM132.14 108.78h3.75v5.55h-3.75zM136.65 108.78h3.75v5.55h-3.75zM141.15 108.78h3.75v5.55h-3.75zM145.66 108.78h3.75v5.55h-3.75zM154.67 108.78h3.75v5.55h-3.75zM163.68 108.78h3.75v5.55h-3.75zM168.18 108.78h3.75v5.55h-3.75zM177.19 108.78h3.75v5.55h-3.75zM181.70 108.78h3.75v5.55h-3.75zM186.20 108.78h3.75v5.55h-3.75zM190.71 108.78h3.75v5.55h-3.75zM195.21 108.78h3.75v5.55h-3.75zM199.72 108.78h3.75v5.55h-3.75zM204.22 108.78h3.75v5.55h-3.75zM208.73 108.78h3.75v5.55h-3.75zM213.23 108.78h3.75v5.55h-3.75zM217.74 108.78h3.75v5.55h-3.75zM222.24 108.78h3.75v5.55h-3.75zM226.75 108.78h3.75v5.55h-3.75zM231.25 108.78h3.75v5.55h-3.75zM235.76 108.78h3.75v5.55h-3.75zM240.26 108.78h3.75v5.55h-3.75zM244.77 108.78h3.75v5.55h-3.75zM249.27 108.78h3.75v5.55h-3.75zM253.78 108.78h3.75v5.55h-3.75zM258.28 108.78h3.75v5.55h-3.75zM262.79 108.78h3.75v5.55h-3.75zM267.29 108.78h3.75v5.55h-3.75zM271.80 108.78h3.75v5.55h-3.75zM276.30 108.78h3.75v5.55h-3.75zM280.81 108.78h3.75v5.55h-3.75zM285.31 108.78h3.75v5.55h-3.75zM289.82 108.78h3.75v5.55h-3.75zM294.32 108.78h3.75v5.55h-3.75zM298.83 108.78h3.75v5.55h-3.75zM303.33 108.78h3.75v5.55h-3.75zM307.84 108.78h3.75v5.55h-3.75zM312.34 108.78h3.75v5.55h-3.75zM316.85 108.78h3.75v5.55h-3.75zM325.86 108.78h3.75v5.55h-3.75zM330.36 108.78h3.75v5.55h-3.75zM339.37 108.78h3.75v5.55h-3.75zM350.18 108.78h3.75v5.55h-3.75zM354.68 108.78h3.75v5.55h-3.75zM359.18 108.78h3.75v5.55h-3.75zM363.68 108.78h3.75v5.55h-3.75zM368.18 108.78h3.75v5.55h-3.75zM372.68 108.78h3.75v5.55h-3.75zM377.18 108.78h3.75v5.55h-3.75zM381.68 108.78h3.75v5.55h-3.75zM386.18 108.78h3.75v5.55h-3.75zM390.68 108.78h3.75v5.55h-3.75zM395.18 108.78h3.75v5.55h-3.75zM399.68 108.78h3.75v5.55h-3.75zM404.18 108.78h3.75v5.55h-3.75zM408.68 108.78h3.75v5.55h-3.75zM413.18 108.78h3.75v5.55h-3.75zM417.68 108.78h3.75v5.55h-3.75zM422.18 108.78h3.75v5.55h-3.75zM426.68 108.78h3.75v5.55h-3.75zM431.18 108.78h3.75v5.55h-3.75zM435.68 108.78h3.75v5.55h-3.75zM440.18 108.78h3.75v5.55h-3.75zM73.58 117.72h3.75v5.55h-3.75zM78.08 117.72h3.75v5.55h-3.75zM82.59 117.72h3.75v5.55h-3.75zM87.09 117.72h3.75v5.55h-3.75zM91.60 117.72h3.75v5.55h-3.75zM96.10 117.72h3.75v5.55h-3.75zM100.61 117.72h3.75v5.55h-3.75zM105.11 117.72h3.75v5.55h-3.75zM109.62 117.72h3.75v5.55h-3.75zM114.12 117.72h3.75v5.55h-3.75zM118.63 117.72h3.75v5.55h-3.75zM123.13 117.72h3.75v5.55h-3.75zM127.64 117.72h3.75v5.55h-3.75zM132.14 117.72h3.75v5.55h-3.75zM136.65 117.72h3.75v5.55h-3.75zM141.15 117.72h3.75v5.55h-3.75zM145.66 117.72h3.75v5.55h-3.75zM150.16 117.72h3.75v5.55h-3.75zM154.67 117.72h3.75v5.55h-3.75zM159.17 117.72h3.75v5.55h-3.75zM168.18 117.72h3.75v5.55h-3.75zM172.69 117.72h3.75v5.55h-3.75zM177.19 117.72h3.75v5.55h-3.75zM181.70 117.72h3.75v5.55h-3.75zM186.20 117.72h3.75v5.55h-3.75zM190.71 117.72h3.75v5.55h-3.75zM195.21 117.72h3.75v5.55h-3.75zM199.72 117.72h3.75v5.55h-3.75zM204.22 117.72h3.75v5.55h-3.75zM208.73 117.72h3.75v5.55h-3.75zM217.74 117.72h3.75v5.55h-3.75zM222.24 117.72h3.75v5.55h-3.75zM226.75 117.72h3.75v5.55h-3.75zM231.25 117.72h3.75v5.55h-3.75zM235.76 117.72h3.75v5.55h-3.75zM240.26 117.72h3.75v5.55h-3.75zM244.77 117.72h3.75v5.55h-3.75zM249.27 117.72h3.75v5.55h-3.75zM253.78 117.72h3.75v5.55h-3.75zM258.28 117.72h3.75v5.55h-3.75zM262.79 117.72h3.75v5.55h-3.75zM267.29 117.72h3.75v5.55h-3.75zM271.80 117.72h3.75v5.55h-3.75zM276.30 117.72h3.75v5.55h-3.75zM285.31 117.72h3.75v5.55h-3.75zM289.82 117.72h3.75v5.55h-3.75zM294.32 117.72h3.75v5.55h-3.75zM298.83 117.72h3.75v5.55h-3.75zM303.33 117.72h3.75v5.55h-3.75zM307.84 117.72h3.75v5.55h-3.75zM316.85 117.72h3.75v5.55h-3.75zM321.35 117.72h3.75v5.55h-3.75zM325.86 117.72h3.75v5.55h-3.75zM330.36 117.72h3.75v5.55h-3.75zM334.87 117.72h3.75v5.55h-3.75zM339.37 117.72h3.75v5.55h-3.75zM343.88 117.72h3.75v5.55h-3.75zM350.18 117.72h3.75v5.55h-3.75zM368.18 117.72h3.75v5.55h-3.75zM426.68 117.72h3.75v5.55h-3.75zM440.18 117.72h3.75v5.55h-3.75zM73.58 124.05h3.75v5.55h-3.75zM87.09 124.05h3.75v5.55h-3.75zM105.11 124.05h3.75v5.55h-3.75zM114.12 124.05h3.75v5.55h-3.75zM118.63 124.05h3.75v5.55h-3.75zM127.64 124.05h3.75v5.55h-3.75zM132.14 124.05h3.75v5.55h-3.75zM136.65 124.05h3.75v5.55h-3.75zM145.66 124.05h3.75v5.55h-3.75zM150.16 124.05h3.75v5.55h-3.75zM154.67 124.05h3.75v5.55h-3.75zM159.17 124.05h3.75v5.55h-3.75zM163.68 124.05h3.75v5.55h-3.75zM172.69 124.05h3.75v5.55h-3.75zM181.70 124.05h3.75v5.55h-3.75zM186.20 124.05h3.75v5.55h-3.75zM195.21 124.05h3.75v5.55h-3.75zM199.72 124.05h3.75v5.55h-3.75zM208.73 124.05h3.75v5.55h-3.75zM213.23 124.05h3.75v5.55h-3.75zM217.74 124.05h3.75v5.55h-3.75zM222.24 124.05h3.75v5.55h-3.75zM226.75 124.05h3.75v5.55h-3.75zM235.76 124.05h3.75v5.55h-3.75zM253.78 124.05h3.75v5.55h-3.75zM262.79 124.05h3.75v5.55h-3.75zM267.29 124.05h3.75v5.55h-3.75zM271.80 124.05h3.75v5.55h-3.75zM276.30 124.05h3.75v5.55h-3.75zM285.31 124.05h3.75v5.55h-3.75zM289.82 124.05h3.75v5.55h-3.75zM294.32 124.05h3.75v5.55h-3.75zM298.83 124.05h3.75v5.55h-3.75zM303.33 124.05h3.75v5.55h-3.75zM307.84 124.05h3.75v5.55h-3.75zM312.34 124.05h3.75v5.55h-3.75zM316.85 124.05h3.75v5.55h-3.75zM321.35 124.05h3.75v5.55h-3.75zM325.86 124.05h3.75v5.55h-3.75zM330.36 124.05h3.75v5.55h-3.75zM334.87 124.05h3.75v5.55h-3.75zM339.37 124.05h3.75v5.55h-3.75zM343.88 124.05h3.75v5.55h-3.75zM354.68 124.05h3.75v5.55h-3.75zM359.18 124.05h3.75v5.55h-3.75zM363.68 124.05h3.75v5.55h-3.75zM368.18 124.05h3.75v5.55h-3.75zM372.68 124.05h3.75v5.55h-3.75zM377.18 124.05h3.75v5.55h-3.75zM381.68 124.05h3.75v5.55h-3.75zM386.18 124.05h3.75v5.55h-3.75zM390.68 124.05h3.75v5.55h-3.75zM395.18 124.05h3.75v5.55h-3.75zM399.68 124.05h3.75v5.55h-3.75zM404.18 124.05h3.75v5.55h-3.75zM408.68 124.05h3.75v5.55h-3.75zM413.18 124.05h3.75v5.55h-3.75zM417.68 124.05h3.75v5.55h-3.75zM422.18 124.05h3.75v5.55h-3.75zM426.68 124.05h3.75v5.55h-3.75zM431.18 124.05h3.75v5.55h-3.75zM435.68 124.05h3.75v5.55h-3.75zM440.18 124.05h3.75v5.55h-3.75zM78.08 130.38h3.75v5.55h-3.75zM91.60 130.38h3.75v5.55h-3.75zM100.61 130.38h3.75v5.55h-3.75zM109.62 130.38h3.75v5.55h-3.75zM114.12 130.38h3.75v5.55h-3.75zM118.63 130.38h3.75v5.55h-3.75zM123.13 130.38h3.75v5.55h-3.75zM127.64 130.38h3.75v5.55h-3.75zM136.65 130.38h3.75v5.55h-3.75zM141.15 130.38h3.75v5.55h-3.75zM150.16 130.38h3.75v5.55h-3.75zM154.67 130.38h3.75v5.55h-3.75zM159.17 130.38h3.75v5.55h-3.75zM163.68 130.38h3.75v5.55h-3.75zM168.18 130.38h3.75v5.55h-3.75zM172.69 130.38h3.75v5.55h-3.75zM181.70 130.38h3.75v5.55h-3.75zM186.20 130.38h3.75v5.55h-3.75zM190.71 130.38h3.75v5.55h-3.75zM195.21 130.38h3.75v5.55h-3.75zM204.22 130.38h3.75v5.55h-3.75zM208.73 130.38h3.75v5.55h-3.75zM213.23 130.38h3.75v5.55h-3.75zM217.74 130.38h3.75v5.55h-3.75zM222.24 130.38h3.75v5.55h-3.75zM226.75 130.38h3.75v5.55h-3.75zM231.25 130.38h3.75v5.55h-3.75zM240.26 130.38h3.75v5.55h-3.75zM244.77 130.38h3.75v5.55h-3.75zM249.27 130.38h3.75v5.55h-3.75zM258.28 130.38h3.75v5.55h-3.75zM267.29 130.38h3.75v5.55h-3.75zM271.80 130.38h3.75v5.55h-3.75zM276.30 130.38h3.75v5.55h-3.75zM280.81 130.38h3.75v5.55h-3.75zM285.31 130.38h3.75v5.55h-3.75zM289.82 130.38h3.75v5.55h-3.75zM294.32 130.38h3.75v5.55h-3.75zM298.83 130.38h3.75v5.55h-3.75zM303.33 130.38h3.75v5.55h-3.75zM307.84 130.38h3.75v5.55h-3.75zM312.34 130.38h3.75v5.55h-3.75zM321.35 130.38h3.75v5.55h-3.75zM325.86 130.38h3.75v5.55h-3.75zM334.87 130.38h3.75v5.55h-3.75zM339.37 130.38h3.75v5.55h-3.75zM343.88 130.38h3.75v5.55h-3.75zM359.18 130.38h3.75v5.55h-3.75zM363.68 130.38h3.75v5.55h-3.75zM368.18 130.38h3.75v5.55h-3.75zM372.68 130.38h3.75v5.55h-3.75zM377.18 130.38h3.75v5.55h-3.75zM386.18 130.38h3.75v5.55h-3.75zM390.68 130.38h3.75v5.55h-3.75zM395.18 130.38h3.75v5.55h-3.75zM399.68 130.38h3.75v5.55h-3.75zM404.18 130.38h3.75v5.55h-3.75zM408.68 130.38h3.75v5.55h-3.75zM413.18 130.38h3.75v5.55h-3.75zM417.68 130.38h3.75v5.55h-3.75zM422.18 130.38h3.75v5.55h-3.75zM426.68 130.38h3.75v5.55h-3.75zM431.18 130.38h3.75v5.55h-3.75zM435.68 130.38h3.75v5.55h-3.75zM440.18 130.38h3.75v5.55h-3.75zM91.60 136.72h3.75v5.55h-3.75zM96.10 136.72h3.75v5.55h-3.75zM105.11 136.72h3.75v5.55h-3.75zM118.63 136.72h3.75v5.55h-3.75zM123.13 136.72h3.75v5.55h-3.75zM132.14 136.72h3.75v5.55h-3.75zM136.65 136.72h3.75v5.55h-3.75zM145.66 136.72h3.75v5.55h-3.75zM154.67 136.72h3.75v5.55h-3.75zM159.17 136.72h3.75v5.55h-3.75zM172.69 136.72h3.75v5.55h-3.75zM177.19 136.72h3.75v5.55h-3.75zM186.20 136.72h3.75v5.55h-3.75zM190.71 136.72h3.75v5.55h-3.75zM195.21 136.72h3.75v5.55h-3.75zM199.72 136.72h3.75v5.55h-3.75zM204.22 136.72h3.75v5.55h-3.75zM208.73 136.72h3.75v5.55h-3.75zM213.23 136.72h3.75v5.55h-3.75zM217.74 136.72h3.75v5.55h-3.75zM222.24 136.72h3.75v5.55h-3.75zM226.75 136.72h3.75v5.55h-3.75zM231.25 136.72h3.75v5.55h-3.75zM235.76 136.72h3.75v5.55h-3.75zM244.77 136.72h3.75v5.55h-3.75zM249.27 136.72h3.75v5.55h-3.75zM253.78 136.72h3.75v5.55h-3.75zM262.79 136.72h3.75v5.55h-3.75zM267.29 136.72h3.75v5.55h-3.75zM271.80 136.72h3.75v5.55h-3.75zM280.81 136.72h3.75v5.55h-3.75zM285.31 136.72h3.75v5.55h-3.75zM289.82 136.72h3.75v5.55h-3.75zM294.32 136.72h3.75v5.55h-3.75zM298.83 136.72h3.75v5.55h-3.75zM303.33 136.72h3.75v5.55h-3.75zM307.84 136.72h3.75v5.55h-3.75zM312.34 136.72h3.75v5.55h-3.75zM316.85 136.72h3.75v5.55h-3.75zM321.35 136.72h3.75v5.55h-3.75zM325.86 136.72h3.75v5.55h-3.75zM330.36 136.72h3.75v5.55h-3.75zM334.87 136.72h3.75v5.55h-3.75zM339.37 136.72h3.75v5.55h-3.75zM343.88 136.72h3.75v5.55h-3.75zM354.68 136.72h3.75v5.55h-3.75zM359.18 136.72h3.75v5.55h-3.75zM363.68 136.72h3.75v5.55h-3.75zM368.18 136.72h3.75v5.55h-3.75zM372.68 136.72h3.75v5.55h-3.75zM377.18 136.72h3.75v5.55h-3.75zM381.68 136.72h3.75v5.55h-3.75zM386.18 136.72h3.75v5.55h-3.75zM390.68 136.72h3.75v5.55h-3.75zM395.18 136.72h3.75v5.55h-3.75zM399.68 136.72h3.75v5.55h-3.75zM404.18 136.72h3.75v5.55h-3.75zM408.68 136.72h3.75v5.55h-3.75zM413.18 136.72h3.75v5.55h-3.75zM417.68 136.72h3.75v5.55h-3.75zM422.18 136.72h3.75v5.55h-3.75zM426.68 136.72h3.75v5.55h-3.75zM431.18 136.72h3.75v5.55h-3.75zM435.68 136.72h3.75v5.55h-3.75zM440.18 136.72h3.75v5.55h-3.75zM82.59 143.04h3.75v5.55h-3.75zM87.09 143.04h3.75v5.55h-3.75zM96.10 143.04h3.75v5.55h-3.75zM105.11 143.04h3.75v5.55h-3.75zM114.12 143.04h3.75v5.55h-3.75zM123.13 143.04h3.75v5.55h-3.75zM127.64 143.04h3.75v5.55h-3.75zM132.14 143.04h3.75v5.55h-3.75zM136.65 143.04h3.75v5.55h-3.75zM145.66 143.04h3.75v5.55h-3.75zM150.16 143.04h3.75v5.55h-3.75zM154.67 143.04h3.75v5.55h-3.75zM159.17 143.04h3.75v5.55h-3.75zM163.68 143.04h3.75v5.55h-3.75zM168.18 143.04h3.75v5.55h-3.75zM172.69 143.04h3.75v5.55h-3.75zM177.19 143.04h3.75v5.55h-3.75zM181.70 143.04h3.75v5.55h-3.75zM186.20 143.04h3.75v5.55h-3.75zM190.71 143.04h3.75v5.55h-3.75zM195.21 143.04h3.75v5.55h-3.75zM199.72 143.04h3.75v5.55h-3.75zM208.73 143.04h3.75v5.55h-3.75zM213.23 143.04h3.75v5.55h-3.75zM217.74 143.04h3.75v5.55h-3.75zM222.24 143.04h3.75v5.55h-3.75zM226.75 143.04h3.75v5.55h-3.75zM235.76 143.04h3.75v5.55h-3.75zM240.26 143.04h3.75v5.55h-3.75zM244.77 143.04h3.75v5.55h-3.75zM249.27 143.04h3.75v5.55h-3.75zM253.78 143.04h3.75v5.55h-3.75zM262.79 143.04h3.75v5.55h-3.75zM267.29 143.04h3.75v5.55h-3.75zM271.80 143.04h3.75v5.55h-3.75zM276.30 143.04h3.75v5.55h-3.75zM280.81 143.04h3.75v5.55h-3.75zM285.31 143.04h3.75v5.55h-3.75zM289.82 143.04h3.75v5.55h-3.75zM294.32 143.04h3.75v5.55h-3.75zM298.83 143.04h3.75v5.55h-3.75zM303.33 143.04h3.75v5.55h-3.75zM307.84 143.04h3.75v5.55h-3.75zM312.34 143.04h3.75v5.55h-3.75zM316.85 143.04h3.75v5.55h-3.75zM321.35 143.04h3.75v5.55h-3.75zM325.86 143.04h3.75v5.55h-3.75zM330.36 143.04h3.75v5.55h-3.75zM334.87 143.04h3.75v5.55h-3.75zM339.37 143.04h3.75v5.55h-3.75zM343.88 143.04h3.75v5.55h-3.75zM354.68 143.04h3.75v5.55h-3.75zM359.18 143.04h3.75v5.55h-3.75zM363.68 143.04h3.75v5.55h-3.75zM372.68 143.04h3.75v5.55h-3.75zM377.18 143.04h3.75v5.55h-3.75zM381.68 143.04h3.75v5.55h-3.75zM386.18 143.04h3.75v5.55h-3.75zM390.68 143.04h3.75v5.55h-3.75zM395.18 143.04h3.75v5.55h-3.75zM399.68 143.04h3.75v5.55h-3.75zM404.18 143.04h3.75v5.55h-3.75zM408.68 143.04h3.75v5.55h-3.75zM413.18 143.04h3.75v5.55h-3.75zM417.68 143.04h3.75v5.55h-3.75zM422.18 143.04h3.75v5.55h-3.75zM426.68 143.04h3.75v5.55h-3.75zM431.18 143.04h3.75v5.55h-3.75zM435.68 143.04h3.75v5.55h-3.75zM440.18 143.04h3.75v5.55h-3.75zM73.58 149.38h3.75v5.55h-3.75zM78.08 149.38h3.75v5.55h-3.75zM82.59 149.38h3.75v5.55h-3.75zM87.09 149.38h3.75v5.55h-3.75zM91.60 149.38h3.75v5.55h-3.75zM96.10 149.38h3.75v5.55h-3.75zM100.61 149.38h3.75v5.55h-3.75zM105.11 149.38h3.75v5.55h-3.75zM109.62 149.38h3.75v5.55h-3.75zM127.64 149.38h3.75v5.55h-3.75zM132.14 149.38h3.75v5.55h-3.75zM136.65 149.38h3.75v5.55h-3.75zM141.15 149.38h3.75v5.55h-3.75zM145.66 149.38h3.75v5.55h-3.75zM150.16 149.38h3.75v5.55h-3.75zM154.67 149.38h3.75v5.55h-3.75zM168.18 149.38h3.75v5.55h-3.75zM172.69 149.38h3.75v5.55h-3.75zM177.19 149.38h3.75v5.55h-3.75zM190.71 149.38h3.75v5.55h-3.75zM195.21 149.38h3.75v5.55h-3.75zM199.72 149.38h3.75v5.55h-3.75zM204.22 149.38h3.75v5.55h-3.75zM208.73 149.38h3.75v5.55h-3.75zM213.23 149.38h3.75v5.55h-3.75zM217.74 149.38h3.75v5.55h-3.75zM222.24 149.38h3.75v5.55h-3.75zM226.75 149.38h3.75v5.55h-3.75zM231.25 149.38h3.75v5.55h-3.75zM235.76 149.38h3.75v5.55h-3.75zM240.26 149.38h3.75v5.55h-3.75zM244.77 149.38h3.75v5.55h-3.75zM249.27 149.38h3.75v5.55h-3.75zM253.78 149.38h3.75v5.55h-3.75zM258.28 149.38h3.75v5.55h-3.75zM262.79 149.38h3.75v5.55h-3.75zM267.29 149.38h3.75v5.55h-3.75zM271.80 149.38h3.75v5.55h-3.75zM276.30 149.38h3.75v5.55h-3.75zM280.81 149.38h3.75v5.55h-3.75zM285.31 149.38h3.75v5.55h-3.75zM289.82 149.38h3.75v5.55h-3.75zM294.32 149.38h3.75v5.55h-3.75zM303.33 149.38h3.75v5.55h-3.75zM307.84 149.38h3.75v5.55h-3.75zM312.34 149.38h3.75v5.55h-3.75zM316.85 149.38h3.75v5.55h-3.75zM321.35 149.38h3.75v5.55h-3.75zM325.86 149.38h3.75v5.55h-3.75zM330.36 149.38h3.75v5.55h-3.75zM334.87 149.38h3.75v5.55h-3.75zM339.37 149.38h3.75v5.55h-3.75zM343.88 149.38h3.75v5.55h-3.75zM350.18 149.38h3.75v5.55h-3.75zM359.18 149.38h3.75v5.55h-3.75zM363.68 149.38h3.75v5.55h-3.75zM368.18 149.38h3.75v5.55h-3.75zM372.68 149.38h3.75v5.55h-3.75zM377.18 149.38h3.75v5.55h-3.75zM386.18 149.38h3.75v5.55h-3.75zM390.68 149.38h3.75v5.55h-3.75zM395.18 149.38h3.75v5.55h-3.75zM399.68 149.38h3.75v5.55h-3.75zM404.18 149.38h3.75v5.55h-3.75zM408.68 149.38h3.75v5.55h-3.75zM413.18 149.38h3.75v5.55h-3.75zM417.68 149.38h3.75v5.55h-3.75zM422.18 149.38h3.75v5.55h-3.75zM426.68 149.38h3.75v5.55h-3.75zM431.18 149.38h3.75v5.55h-3.75zM435.68 149.38h3.75v5.55h-3.75zM440.18 149.38h3.75v5.55h-3.75zM73.58 155.71h3.75v5.55h-3.75zM82.59 155.71h3.75v5.55h-3.75zM87.09 155.71h3.75v5.55h-3.75zM100.61 155.71h3.75v5.55h-3.75zM105.11 155.71h3.75v5.55h-3.75zM114.12 155.71h3.75v5.55h-3.75zM123.13 155.71h3.75v5.55h-3.75zM127.64 155.71h3.75v5.55h-3.75zM132.14 155.71h3.75v5.55h-3.75zM141.15 155.71h3.75v5.55h-3.75zM145.66 155.71h3.75v5.55h-3.75zM150.16 155.71h3.75v5.55h-3.75zM159.17 155.71h3.75v5.55h-3.75zM163.68 155.71h3.75v5.55h-3.75zM168.18 155.71h3.75v5.55h-3.75zM172.69 155.71h3.75v5.55h-3.75zM177.19 155.71h3.75v5.55h-3.75zM181.70 155.71h3.75v5.55h-3.75zM190.71 155.71h3.75v5.55h-3.75zM195.21 155.71h3.75v5.55h-3.75zM199.72 155.71h3.75v5.55h-3.75zM204.22 155.71h3.75v5.55h-3.75zM208.73 155.71h3.75v5.55h-3.75zM213.23 155.71h3.75v5.55h-3.75zM217.74 155.71h3.75v5.55h-3.75zM222.24 155.71h3.75v5.55h-3.75zM226.75 155.71h3.75v5.55h-3.75zM231.25 155.71h3.75v5.55h-3.75zM235.76 155.71h3.75v5.55h-3.75zM240.26 155.71h3.75v5.55h-3.75zM244.77 155.71h3.75v5.55h-3.75zM249.27 155.71h3.75v5.55h-3.75zM253.78 155.71h3.75v5.55h-3.75zM258.28 155.71h3.75v5.55h-3.75zM262.79 155.71h3.75v5.55h-3.75zM267.29 155.71h3.75v5.55h-3.75zM271.80 155.71h3.75v5.55h-3.75zM276.30 155.71h3.75v5.55h-3.75zM280.81 155.71h3.75v5.55h-3.75zM285.31 155.71h3.75v5.55h-3.75zM289.82 155.71h3.75v5.55h-3.75zM294.32 155.71h3.75v5.55h-3.75zM298.83 155.71h3.75v5.55h-3.75zM303.33 155.71h3.75v5.55h-3.75zM307.84 155.71h3.75v5.55h-3.75zM312.34 155.71h3.75v5.55h-3.75zM316.85 155.71h3.75v5.55h-3.75zM321.35 155.71h3.75v5.55h-3.75zM330.36 155.71h3.75v5.55h-3.75zM334.87 155.71h3.75v5.55h-3.75zM339.37 155.71h3.75v5.55h-3.75zM343.88 155.71h3.75v5.55h-3.75zM350.18 155.71h3.75v5.55h-3.75zM354.68 155.71h3.75v5.55h-3.75zM359.18 155.71h3.75v5.55h-3.75zM363.68 155.71h3.75v5.55h-3.75zM368.18 155.71h3.75v5.55h-3.75zM372.68 155.71h3.75v5.55h-3.75zM377.18 155.71h3.75v5.55h-3.75zM381.68 155.71h3.75v5.55h-3.75zM386.18 155.71h3.75v5.55h-3.75zM390.68 155.71h3.75v5.55h-3.75zM395.18 155.71h3.75v5.55h-3.75zM399.68 155.71h3.75v5.55h-3.75zM404.18 155.71h3.75v5.55h-3.75zM408.68 155.71h3.75v5.55h-3.75zM413.18 155.71h3.75v5.55h-3.75zM417.68 155.71h3.75v5.55h-3.75zM422.18 155.71h3.75v5.55h-3.75zM426.68 155.71h3.75v5.55h-3.75zM431.18 155.71h3.75v5.55h-3.75zM435.68 155.71h3.75v5.55h-3.75zM440.18 155.71h3.75v5.55h-3.75zM78.08 162.03h3.75v5.55h-3.75zM91.60 162.03h3.75v5.55h-3.75zM96.10 162.03h3.75v5.55h-3.75zM100.61 162.03h3.75v5.55h-3.75zM109.62 162.03h3.75v5.55h-3.75zM114.12 162.03h3.75v5.55h-3.75zM118.63 162.03h3.75v5.55h-3.75zM123.13 162.03h3.75v5.55h-3.75zM127.64 162.03h3.75v5.55h-3.75zM132.14 162.03h3.75v5.55h-3.75zM136.65 162.03h3.75v5.55h-3.75zM145.66 162.03h3.75v5.55h-3.75zM150.16 162.03h3.75v5.55h-3.75zM154.67 162.03h3.75v5.55h-3.75zM159.17 162.03h3.75v5.55h-3.75zM163.68 162.03h3.75v5.55h-3.75zM168.18 162.03h3.75v5.55h-3.75zM172.69 162.03h3.75v5.55h-3.75zM177.19 162.03h3.75v5.55h-3.75zM186.20 162.03h3.75v5.55h-3.75zM190.71 162.03h3.75v5.55h-3.75zM195.21 162.03h3.75v5.55h-3.75zM199.72 162.03h3.75v5.55h-3.75zM204.22 162.03h3.75v5.55h-3.75zM208.73 162.03h3.75v5.55h-3.75zM217.74 162.03h3.75v5.55h-3.75zM222.24 162.03h3.75v5.55h-3.75zM226.75 162.03h3.75v5.55h-3.75zM231.25 162.03h3.75v5.55h-3.75zM235.76 162.03h3.75v5.55h-3.75zM240.26 162.03h3.75v5.55h-3.75zM244.77 162.03h3.75v5.55h-3.75zM249.27 162.03h3.75v5.55h-3.75zM253.78 162.03h3.75v5.55h-3.75zM258.28 162.03h3.75v5.55h-3.75zM262.79 162.03h3.75v5.55h-3.75zM267.29 162.03h3.75v5.55h-3.75zM271.80 162.03h3.75v5.55h-3.75zM276.30 162.03h3.75v5.55h-3.75zM280.81 162.03h3.75v5.55h-3.75zM285.31 162.03h3.75v5.55h-3.75zM289.82 162.03h3.75v5.55h-3.75zM294.32 162.03h3.75v5.55h-3.75zM298.83 162.03h3.75v5.55h-3.75zM303.33 162.03h3.75v5.55h-3.75zM307.84 162.03h3.75v5.55h-3.75zM312.34 162.03h3.75v5.55h-3.75zM321.35 162.03h3.75v5.55h-3.75zM325.86 162.03h3.75v5.55h-3.75zM330.36 162.03h3.75v5.55h-3.75zM334.87 162.03h3.75v5.55h-3.75zM339.37 162.03h3.75v5.55h-3.75zM343.88 162.03h3.75v5.55h-3.75zM350.18 162.03h3.75v5.55h-3.75zM354.68 162.03h3.75v5.55h-3.75zM359.18 162.03h3.75v5.55h-3.75zM363.68 162.03h3.75v5.55h-3.75zM368.18 162.03h3.75v5.55h-3.75zM372.68 162.03h3.75v5.55h-3.75zM377.18 162.03h3.75v5.55h-3.75zM381.68 162.03h3.75v5.55h-3.75zM386.18 162.03h3.75v5.55h-3.75zM390.68 162.03h3.75v5.55h-3.75zM395.18 162.03h3.75v5.55h-3.75zM399.68 162.03h3.75v5.55h-3.75zM404.18 162.03h3.75v5.55h-3.75zM408.68 162.03h3.75v5.55h-3.75zM413.18 162.03h3.75v5.55h-3.75zM417.68 162.03h3.75v5.55h-3.75zM422.18 162.03h3.75v5.55h-3.75zM426.68 162.03h3.75v5.55h-3.75zM431.18 162.03h3.75v5.55h-3.75zM435.68 162.03h3.75v5.55h-3.75zM440.18 162.03h3.75v5.55h-3.75zM73.58 168.36h3.75v5.55h-3.75zM78.08 168.36h3.75v5.55h-3.75zM82.59 168.36h3.75v5.55h-3.75zM87.09 168.36h3.75v5.55h-3.75zM91.60 168.36h3.75v5.55h-3.75zM96.10 168.36h3.75v5.55h-3.75zM100.61 168.36h3.75v5.55h-3.75zM105.11 168.36h3.75v5.55h-3.75zM109.62 168.36h3.75v5.55h-3.75zM114.12 168.36h3.75v5.55h-3.75zM118.63 168.36h3.75v5.55h-3.75zM123.13 168.36h3.75v5.55h-3.75zM127.64 168.36h3.75v5.55h-3.75zM132.14 168.36h3.75v5.55h-3.75zM136.65 168.36h3.75v5.55h-3.75zM141.15 168.36h3.75v5.55h-3.75zM145.66 168.36h3.75v5.55h-3.75zM150.16 168.36h3.75v5.55h-3.75zM154.67 168.36h3.75v5.55h-3.75zM159.17 168.36h3.75v5.55h-3.75zM168.18 168.36h3.75v5.55h-3.75zM172.69 168.36h3.75v5.55h-3.75zM177.19 168.36h3.75v5.55h-3.75zM181.70 168.36h3.75v5.55h-3.75zM186.20 168.36h3.75v5.55h-3.75zM190.71 168.36h3.75v5.55h-3.75zM195.21 168.36h3.75v5.55h-3.75zM199.72 168.36h3.75v5.55h-3.75zM204.22 168.36h3.75v5.55h-3.75zM208.73 168.36h3.75v5.55h-3.75zM213.23 168.36h3.75v5.55h-3.75zM217.74 168.36h3.75v5.55h-3.75zM222.24 168.36h3.75v5.55h-3.75zM226.75 168.36h3.75v5.55h-3.75zM231.25 168.36h3.75v5.55h-3.75zM240.26 168.36h3.75v5.55h-3.75zM244.77 168.36h3.75v5.55h-3.75zM249.27 168.36h3.75v5.55h-3.75zM253.78 168.36h3.75v5.55h-3.75zM258.28 168.36h3.75v5.55h-3.75zM262.79 168.36h3.75v5.55h-3.75zM267.29 168.36h3.75v5.55h-3.75zM271.80 168.36h3.75v5.55h-3.75zM276.30 168.36h3.75v5.55h-3.75zM280.81 168.36h3.75v5.55h-3.75zM289.82 168.36h3.75v5.55h-3.75zM294.32 168.36h3.75v5.55h-3.75zM298.83 168.36h3.75v5.55h-3.75zM303.33 168.36h3.75v5.55h-3.75zM307.84 168.36h3.75v5.55h-3.75zM312.34 168.36h3.75v5.55h-3.75zM316.85 168.36h3.75v5.55h-3.75zM321.35 168.36h3.75v5.55h-3.75zM325.86 168.36h3.75v5.55h-3.75zM330.36 168.36h3.75v5.55h-3.75zM334.87 168.36h3.75v5.55h-3.75zM339.37 168.36h3.75v5.55h-3.75zM343.88 168.36h3.75v5.55h-3.75zM350.18 168.36h3.75v5.55h-3.75zM359.18 168.36h3.75v5.55h-3.75zM363.68 168.36h3.75v5.55h-3.75zM368.18 168.36h3.75v5.55h-3.75zM372.68 168.36h3.75v5.55h-3.75zM381.68 168.36h3.75v5.55h-3.75zM386.18 168.36h3.75v5.55h-3.75zM390.68 168.36h3.75v5.55h-3.75zM395.18 168.36h3.75v5.55h-3.75zM399.68 168.36h3.75v5.55h-3.75zM404.18 168.36h3.75v5.55h-3.75zM408.68 168.36h3.75v5.55h-3.75zM413.18 168.36h3.75v5.55h-3.75zM417.68 168.36h3.75v5.55h-3.75zM422.18 168.36h3.75v5.55h-3.75zM426.68 168.36h3.75v5.55h-3.75zM431.18 168.36h3.75v5.55h-3.75zM435.68 168.36h3.75v5.55h-3.75zM440.18 168.36h3.75v5.55h-3.75zM73.58 174.69h3.75v5.55h-3.75zM78.08 174.69h3.75v5.55h-3.75zM82.59 174.69h3.75v5.55h-3.75zM87.09 174.69h3.75v5.55h-3.75zM91.60 174.69h3.75v5.55h-3.75zM96.10 174.69h3.75v5.55h-3.75zM100.61 174.69h3.75v5.55h-3.75zM105.11 174.69h3.75v5.55h-3.75zM109.62 174.69h3.75v5.55h-3.75zM114.12 174.69h3.75v5.55h-3.75zM118.63 174.69h3.75v5.55h-3.75zM123.13 174.69h3.75v5.55h-3.75zM127.64 174.69h3.75v5.55h-3.75zM132.14 174.69h3.75v5.55h-3.75zM136.65 174.69h3.75v5.55h-3.75zM141.15 174.69h3.75v5.55h-3.75zM145.66 174.69h3.75v5.55h-3.75zM150.16 174.69h3.75v5.55h-3.75zM154.67 174.69h3.75v5.55h-3.75zM159.17 174.69h3.75v5.55h-3.75zM163.68 174.69h3.75v5.55h-3.75zM168.18 174.69h3.75v5.55h-3.75zM172.69 174.69h3.75v5.55h-3.75zM177.19 174.69h3.75v5.55h-3.75zM181.70 174.69h3.75v5.55h-3.75zM186.20 174.69h3.75v5.55h-3.75zM190.71 174.69h3.75v5.55h-3.75zM195.21 174.69h3.75v5.55h-3.75zM199.72 174.69h3.75v5.55h-3.75zM204.22 174.69h3.75v5.55h-3.75zM208.73 174.69h3.75v5.55h-3.75zM213.23 174.69h3.75v5.55h-3.75zM217.74 174.69h3.75v5.55h-3.75zM222.24 174.69h3.75v5.55h-3.75zM226.75 174.69h3.75v5.55h-3.75zM231.25 174.69h3.75v5.55h-3.75zM235.76 174.69h3.75v5.55h-3.75zM240.26 174.69h3.75v5.55h-3.75zM244.77 174.69h3.75v5.55h-3.75zM249.27 174.69h3.75v5.55h-3.75zM258.28 174.69h3.75v5.55h-3.75zM262.79 174.69h3.75v5.55h-3.75zM267.29 174.69h3.75v5.55h-3.75zM271.80 174.69h3.75v5.55h-3.75zM276.30 174.69h3.75v5.55h-3.75zM280.81 174.69h3.75v5.55h-3.75zM285.31 174.69h3.75v5.55h-3.75zM289.82 174.69h3.75v5.55h-3.75zM294.32 174.69h3.75v5.55h-3.75zM298.83 174.69h3.75v5.55h-3.75zM303.33 174.69h3.75v5.55h-3.75zM307.84 174.69h3.75v5.55h-3.75zM312.34 174.69h3.75v5.55h-3.75zM316.85 174.69h3.75v5.55h-3.75zM321.35 174.69h3.75v5.55h-3.75zM325.86 174.69h3.75v5.55h-3.75zM330.36 174.69h3.75v5.55h-3.75zM334.87 174.69h3.75v5.55h-3.75zM339.37 174.69h3.75v5.55h-3.75zM343.88 174.69h3.75v5.55h-3.75zM350.18 174.69h3.75v5.55h-3.75zM354.68 174.69h3.75v5.55h-3.75zM359.18 174.69h3.75v5.55h-3.75zM363.68 174.69h3.75v5.55h-3.75zM368.18 174.69h3.75v5.55h-3.75zM372.68 174.69h3.75v5.55h-3.75zM377.18 174.69h3.75v5.55h-3.75zM381.68 174.69h3.75v5.55h-3.75zM386.18 174.69h3.75v5.55h-3.75zM390.68 174.69h3.75v5.55h-3.75zM395.18 174.69h3.75v5.55h-3.75zM399.68 174.69h3.75v5.55h-3.75zM408.68 174.69h3.75v5.55h-3.75zM417.68 174.69h3.75v5.55h-3.75zM422.18 174.69h3.75v5.55h-3.75zM426.68 174.69h3.75v5.55h-3.75zM431.18 174.69h3.75v5.55h-3.75zM435.68 174.69h3.75v5.55h-3.75zM440.18 174.69h3.75v5.55h-3.75zM73.58 183.53h3.75v5.55h-3.75zM78.08 183.53h3.75v5.55h-3.75zM82.59 183.53h3.75v5.55h-3.75zM96.10 183.53h3.75v5.55h-3.75zM109.62 183.53h3.75v5.55h-3.75zM114.12 183.53h3.75v5.55h-3.75zM118.63 183.53h3.75v5.55h-3.75zM132.14 183.53h3.75v5.55h-3.75zM136.65 183.53h3.75v5.55h-3.75zM141.15 183.53h3.75v5.55h-3.75zM150.16 183.53h3.75v5.55h-3.75zM159.17 183.53h3.75v5.55h-3.75zM163.68 183.53h3.75v5.55h-3.75zM172.69 183.53h3.75v5.55h-3.75zM177.19 183.53h3.75v5.55h-3.75zM186.20 183.53h3.75v5.55h-3.75zM190.71 183.53h3.75v5.55h-3.75zM199.72 183.53h3.75v5.55h-3.75zM204.22 183.53h3.75v5.55h-3.75zM208.73 183.53h3.75v5.55h-3.75zM213.23 183.53h3.75v5.55h-3.75zM217.74 183.53h3.75v5.55h-3.75zM226.75 183.53h3.75v5.55h-3.75zM231.25 183.53h3.75v5.55h-3.75zM240.26 183.53h3.75v5.55h-3.75zM244.77 183.53h3.75v5.55h-3.75zM249.27 183.53h3.75v5.55h-3.75zM253.78 183.53h3.75v5.55h-3.75zM258.28 183.53h3.75v5.55h-3.75zM267.29 183.53h3.75v5.55h-3.75zM271.80 183.53h3.75v5.55h-3.75zM276.30 183.53h3.75v5.55h-3.75zM280.81 183.53h3.75v5.55h-3.75zM285.31 183.53h3.75v5.55h-3.75zM294.32 183.53h3.75v5.55h-3.75zM298.83 183.53h3.75v5.55h-3.75zM303.33 183.53h3.75v5.55h-3.75zM312.34 183.53h3.75v5.55h-3.75zM325.86 183.53h3.75v5.55h-3.75zM330.36 183.53h3.75v5.55h-3.75zM334.87 183.53h3.75v5.55h-3.75zM339.37 183.53h3.75v5.55h-3.75zM343.88 183.53h3.75v5.55h-3.75zM354.68 183.53h3.75v5.55h-3.75zM359.18 183.53h3.75v5.55h-3.75zM363.68 183.53h3.75v5.55h-3.75zM368.18 183.53h3.75v5.55h-3.75zM372.68 183.53h3.75v5.55h-3.75zM377.18 183.53h3.75v5.55h-3.75zM381.68 183.53h3.75v5.55h-3.75zM386.18 183.53h3.75v5.55h-3.75zM390.68 183.53h3.75v5.55h-3.75zM395.18 183.53h3.75v5.55h-3.75zM399.68 183.53h3.75v5.55h-3.75zM404.18 183.53h3.75v5.55h-3.75zM408.68 183.53h3.75v5.55h-3.75zM413.18 183.53h3.75v5.55h-3.75zM417.68 183.53h3.75v5.55h-3.75zM422.18 183.53h3.75v5.55h-3.75zM426.68 183.53h3.75v5.55h-3.75zM431.18 183.53h3.75v5.55h-3.75zM435.68 183.53h3.75v5.55h-3.75zM440.18 183.53h3.75v5.55h-3.75zM82.59 189.86h3.75v5.55h-3.75zM87.09 189.86h3.75v5.55h-3.75zM91.60 189.86h3.75v5.55h-3.75zM96.10 189.86h3.75v5.55h-3.75zM109.62 189.86h3.75v5.55h-3.75zM114.12 189.86h3.75v5.55h-3.75zM118.63 189.86h3.75v5.55h-3.75zM123.13 189.86h3.75v5.55h-3.75zM127.64 189.86h3.75v5.55h-3.75zM136.65 189.86h3.75v5.55h-3.75zM141.15 189.86h3.75v5.55h-3.75zM145.66 189.86h3.75v5.55h-3.75zM154.67 189.86h3.75v5.55h-3.75zM159.17 189.86h3.75v5.55h-3.75zM163.68 189.86h3.75v5.55h-3.75zM168.18 189.86h3.75v5.55h-3.75zM177.19 189.86h3.75v5.55h-3.75zM181.70 189.86h3.75v5.55h-3.75zM186.20 189.86h3.75v5.55h-3.75zM190.71 189.86h3.75v5.55h-3.75zM195.21 189.86h3.75v5.55h-3.75zM199.72 189.86h3.75v5.55h-3.75zM204.22 189.86h3.75v5.55h-3.75zM208.73 189.86h3.75v5.55h-3.75zM213.23 189.86h3.75v5.55h-3.75zM217.74 189.86h3.75v5.55h-3.75zM222.24 189.86h3.75v5.55h-3.75zM231.25 189.86h3.75v5.55h-3.75zM235.76 189.86h3.75v5.55h-3.75zM240.26 189.86h3.75v5.55h-3.75zM244.77 189.86h3.75v5.55h-3.75zM249.27 189.86h3.75v5.55h-3.75zM253.78 189.86h3.75v5.55h-3.75zM258.28 189.86h3.75v5.55h-3.75zM262.79 189.86h3.75v5.55h-3.75zM276.30 189.86h3.75v5.55h-3.75zM280.81 189.86h3.75v5.55h-3.75zM285.31 189.86h3.75v5.55h-3.75zM289.82 189.86h3.75v5.55h-3.75zM298.83 189.86h3.75v5.55h-3.75zM303.33 189.86h3.75v5.55h-3.75zM307.84 189.86h3.75v5.55h-3.75zM312.34 189.86h3.75v5.55h-3.75zM316.85 189.86h3.75v5.55h-3.75zM321.35 189.86h3.75v5.55h-3.75zM325.86 189.86h3.75v5.55h-3.75zM330.36 189.86h3.75v5.55h-3.75zM334.87 189.86h3.75v5.55h-3.75zM339.37 189.86h3.75v5.55h-3.75zM343.88 189.86h3.75v5.55h-3.75zM350.18 189.86h3.75v5.55h-3.75zM354.68 189.86h3.75v5.55h-3.75zM359.18 189.86h3.75v5.55h-3.75zM363.68 189.86h3.75v5.55h-3.75zM368.18 189.86h3.75v5.55h-3.75zM372.68 189.86h3.75v5.55h-3.75zM377.18 189.86h3.75v5.55h-3.75zM381.68 189.86h3.75v5.55h-3.75zM386.18 189.86h3.75v5.55h-3.75zM390.68 189.86h3.75v5.55h-3.75zM395.18 189.86h3.75v5.55h-3.75zM399.68 189.86h3.75v5.55h-3.75zM404.18 189.86h3.75v5.55h-3.75zM408.68 189.86h3.75v5.55h-3.75zM413.18 189.86h3.75v5.55h-3.75zM417.68 189.86h3.75v5.55h-3.75zM422.18 189.86h3.75v5.55h-3.75zM426.68 189.86h3.75v5.55h-3.75zM431.18 189.86h3.75v5.55h-3.75zM435.68 189.86h3.75v5.55h-3.75zM440.18 189.86h3.75v5.55h-3.75zM73.58 196.19h3.75v5.55h-3.75zM78.08 196.19h3.75v5.55h-3.75zM87.09 196.19h3.75v5.55h-3.75zM91.60 196.19h3.75v5.55h-3.75zM96.10 196.19h3.75v5.55h-3.75zM100.61 196.19h3.75v5.55h-3.75zM109.62 196.19h3.75v5.55h-3.75zM118.63 196.19h3.75v5.55h-3.75zM123.13 196.19h3.75v5.55h-3.75zM127.64 196.19h3.75v5.55h-3.75zM132.14 196.19h3.75v5.55h-3.75zM136.65 196.19h3.75v5.55h-3.75zM141.15 196.19h3.75v5.55h-3.75zM145.66 196.19h3.75v5.55h-3.75zM150.16 196.19h3.75v5.55h-3.75zM154.67 196.19h3.75v5.55h-3.75zM163.68 196.19h3.75v5.55h-3.75zM168.18 196.19h3.75v5.55h-3.75zM172.69 196.19h3.75v5.55h-3.75zM177.19 196.19h3.75v5.55h-3.75zM181.70 196.19h3.75v5.55h-3.75zM190.71 196.19h3.75v5.55h-3.75zM195.21 196.19h3.75v5.55h-3.75zM199.72 196.19h3.75v5.55h-3.75zM204.22 196.19h3.75v5.55h-3.75zM213.23 196.19h3.75v5.55h-3.75zM222.24 196.19h3.75v5.55h-3.75zM226.75 196.19h3.75v5.55h-3.75zM231.25 196.19h3.75v5.55h-3.75zM235.76 196.19h3.75v5.55h-3.75zM240.26 196.19h3.75v5.55h-3.75zM244.77 196.19h3.75v5.55h-3.75zM249.27 196.19h3.75v5.55h-3.75zM253.78 196.19h3.75v5.55h-3.75zM258.28 196.19h3.75v5.55h-3.75zM262.79 196.19h3.75v5.55h-3.75zM267.29 196.19h3.75v5.55h-3.75zM271.80 196.19h3.75v5.55h-3.75zM276.30 196.19h3.75v5.55h-3.75zM280.81 196.19h3.75v5.55h-3.75zM285.31 196.19h3.75v5.55h-3.75zM289.82 196.19h3.75v5.55h-3.75zM298.83 196.19h3.75v5.55h-3.75zM303.33 196.19h3.75v5.55h-3.75zM307.84 196.19h3.75v5.55h-3.75zM316.85 196.19h3.75v5.55h-3.75zM325.86 196.19h3.75v5.55h-3.75zM330.36 196.19h3.75v5.55h-3.75zM334.87 196.19h3.75v5.55h-3.75zM339.37 196.19h3.75v5.55h-3.75zM343.88 196.19h3.75v5.55h-3.75zM350.18 196.19h3.75v5.55h-3.75zM354.68 196.19h3.75v5.55h-3.75zM359.18 196.19h3.75v5.55h-3.75zM363.68 196.19h3.75v5.55h-3.75zM368.18 196.19h3.75v5.55h-3.75zM372.68 196.19h3.75v5.55h-3.75zM377.18 196.19h3.75v5.55h-3.75zM381.68 196.19h3.75v5.55h-3.75zM386.18 196.19h3.75v5.55h-3.75zM390.68 196.19h3.75v5.55h-3.75zM395.18 196.19h3.75v5.55h-3.75zM399.68 196.19h3.75v5.55h-3.75zM404.18 196.19h3.75v5.55h-3.75zM408.68 196.19h3.75v5.55h-3.75zM413.18 196.19h3.75v5.55h-3.75zM417.68 196.19h3.75v5.55h-3.75zM422.18 196.19h3.75v5.55h-3.75zM426.68 196.19h3.75v5.55h-3.75zM431.18 196.19h3.75v5.55h-3.75zM435.68 196.19h3.75v5.55h-3.75zM440.18 196.19h3.75v5.55h-3.75zM73.58 202.52h3.75v5.55h-3.75zM78.08 202.52h3.75v5.55h-3.75zM82.59 202.52h3.75v5.55h-3.75zM91.60 202.52h3.75v5.55h-3.75zM96.10 202.52h3.75v5.55h-3.75zM100.61 202.52h3.75v5.55h-3.75zM105.11 202.52h3.75v5.55h-3.75zM109.62 202.52h3.75v5.55h-3.75zM114.12 202.52h3.75v5.55h-3.75zM123.13 202.52h3.75v5.55h-3.75zM127.64 202.52h3.75v5.55h-3.75zM132.14 202.52h3.75v5.55h-3.75zM136.65 202.52h3.75v5.55h-3.75zM141.15 202.52h3.75v5.55h-3.75zM145.66 202.52h3.75v5.55h-3.75zM150.16 202.52h3.75v5.55h-3.75zM159.17 202.52h3.75v5.55h-3.75zM163.68 202.52h3.75v5.55h-3.75zM168.18 202.52h3.75v5.55h-3.75zM172.69 202.52h3.75v5.55h-3.75zM177.19 202.52h3.75v5.55h-3.75zM181.70 202.52h3.75v5.55h-3.75zM186.20 202.52h3.75v5.55h-3.75zM190.71 202.52h3.75v5.55h-3.75zM195.21 202.52h3.75v5.55h-3.75zM199.72 202.52h3.75v5.55h-3.75zM204.22 202.52h3.75v5.55h-3.75zM213.23 202.52h3.75v5.55h-3.75zM217.74 202.52h3.75v5.55h-3.75zM226.75 202.52h3.75v5.55h-3.75zM231.25 202.52h3.75v5.55h-3.75zM235.76 202.52h3.75v5.55h-3.75zM240.26 202.52h3.75v5.55h-3.75zM244.77 202.52h3.75v5.55h-3.75zM249.27 202.52h3.75v5.55h-3.75zM258.28 202.52h3.75v5.55h-3.75zM262.79 202.52h3.75v5.55h-3.75zM267.29 202.52h3.75v5.55h-3.75zM271.80 202.52h3.75v5.55h-3.75zM276.30 202.52h3.75v5.55h-3.75zM280.81 202.52h3.75v5.55h-3.75zM285.31 202.52h3.75v5.55h-3.75zM289.82 202.52h3.75v5.55h-3.75zM294.32 202.52h3.75v5.55h-3.75zM298.83 202.52h3.75v5.55h-3.75zM303.33 202.52h3.75v5.55h-3.75zM307.84 202.52h3.75v5.55h-3.75zM312.34 202.52h3.75v5.55h-3.75zM316.85 202.52h3.75v5.55h-3.75zM321.35 202.52h3.75v5.55h-3.75zM325.86 202.52h3.75v5.55h-3.75zM330.36 202.52h3.75v5.55h-3.75zM339.37 202.52h3.75v5.55h-3.75zM343.88 202.52h3.75v5.55h-3.75zM350.18 202.52h3.75v5.55h-3.75zM354.68 202.52h3.75v5.55h-3.75zM359.18 202.52h3.75v5.55h-3.75zM363.68 202.52h3.75v5.55h-3.75zM368.18 202.52h3.75v5.55h-3.75zM372.68 202.52h3.75v5.55h-3.75zM377.18 202.52h3.75v5.55h-3.75zM381.68 202.52h3.75v5.55h-3.75zM386.18 202.52h3.75v5.55h-3.75zM390.68 202.52h3.75v5.55h-3.75zM395.18 202.52h3.75v5.55h-3.75zM399.68 202.52h3.75v5.55h-3.75zM404.18 202.52h3.75v5.55h-3.75zM408.68 202.52h3.75v5.55h-3.75zM413.18 202.52h3.75v5.55h-3.75zM417.68 202.52h3.75v5.55h-3.75zM422.18 202.52h3.75v5.55h-3.75zM426.68 202.52h3.75v5.55h-3.75zM431.18 202.52h3.75v5.55h-3.75zM435.68 202.52h3.75v5.55h-3.75zM440.18 202.52h3.75v5.55h-3.75zM73.58 208.84h3.75v5.55h-3.75zM78.08 208.84h3.75v5.55h-3.75zM82.59 208.84h3.75v5.55h-3.75zM87.09 208.84h3.75v5.55h-3.75zM91.60 208.84h3.75v5.55h-3.75zM96.10 208.84h3.75v5.55h-3.75zM100.61 208.84h3.75v5.55h-3.75zM105.11 208.84h3.75v5.55h-3.75zM109.62 208.84h3.75v5.55h-3.75zM114.12 208.84h3.75v5.55h-3.75zM118.63 208.84h3.75v5.55h-3.75zM123.13 208.84h3.75v5.55h-3.75zM127.64 208.84h3.75v5.55h-3.75zM132.14 208.84h3.75v5.55h-3.75zM136.65 208.84h3.75v5.55h-3.75zM141.15 208.84h3.75v5.55h-3.75zM145.66 208.84h3.75v5.55h-3.75zM150.16 208.84h3.75v5.55h-3.75zM154.67 208.84h3.75v5.55h-3.75zM159.17 208.84h3.75v5.55h-3.75zM163.68 208.84h3.75v5.55h-3.75zM168.18 208.84h3.75v5.55h-3.75zM177.19 208.84h3.75v5.55h-3.75zM181.70 208.84h3.75v5.55h-3.75zM186.20 208.84h3.75v5.55h-3.75zM190.71 208.84h3.75v5.55h-3.75zM195.21 208.84h3.75v5.55h-3.75zM199.72 208.84h3.75v5.55h-3.75zM204.22 208.84h3.75v5.55h-3.75zM208.73 208.84h3.75v5.55h-3.75zM213.23 208.84h3.75v5.55h-3.75zM217.74 208.84h3.75v5.55h-3.75zM222.24 208.84h3.75v5.55h-3.75zM226.75 208.84h3.75v5.55h-3.75zM231.25 208.84h3.75v5.55h-3.75zM235.76 208.84h3.75v5.55h-3.75zM240.26 208.84h3.75v5.55h-3.75zM244.77 208.84h3.75v5.55h-3.75zM249.27 208.84h3.75v5.55h-3.75zM253.78 208.84h3.75v5.55h-3.75zM258.28 208.84h3.75v5.55h-3.75zM262.79 208.84h3.75v5.55h-3.75zM267.29 208.84h3.75v5.55h-3.75zM271.80 208.84h3.75v5.55h-3.75zM276.30 208.84h3.75v5.55h-3.75zM280.81 208.84h3.75v5.55h-3.75zM285.31 208.84h3.75v5.55h-3.75zM289.82 208.84h3.75v5.55h-3.75zM294.32 208.84h3.75v5.55h-3.75zM298.83 208.84h3.75v5.55h-3.75zM303.33 208.84h3.75v5.55h-3.75zM307.84 208.84h3.75v5.55h-3.75zM316.85 208.84h3.75v5.55h-3.75zM321.35 208.84h3.75v5.55h-3.75zM325.86 208.84h3.75v5.55h-3.75zM330.36 208.84h3.75v5.55h-3.75zM334.87 208.84h3.75v5.55h-3.75zM339.37 208.84h3.75v5.55h-3.75zM343.88 208.84h3.75v5.55h-3.75zM350.18 208.84h3.75v5.55h-3.75zM354.68 208.84h3.75v5.55h-3.75zM359.18 208.84h3.75v5.55h-3.75zM363.68 208.84h3.75v5.55h-3.75zM368.18 208.84h3.75v5.55h-3.75zM377.18 208.84h3.75v5.55h-3.75zM381.68 208.84h3.75v5.55h-3.75zM386.18 208.84h3.75v5.55h-3.75zM390.68 208.84h3.75v5.55h-3.75zM395.18 208.84h3.75v5.55h-3.75zM399.68 208.84h3.75v5.55h-3.75zM404.18 208.84h3.75v5.55h-3.75zM408.68 208.84h3.75v5.55h-3.75zM413.18 208.84h3.75v5.55h-3.75zM417.68 208.84h3.75v5.55h-3.75zM422.18 208.84h3.75v5.55h-3.75zM426.68 208.84h3.75v5.55h-3.75zM431.18 208.84h3.75v5.55h-3.75zM435.68 208.84h3.75v5.55h-3.75zM440.18 208.84h3.75v5.55h-3.75zM73.58 217.82h3.75v5.55h-3.75zM78.08 217.82h3.75v5.55h-3.75zM82.59 217.82h3.75v5.55h-3.75zM87.09 217.82h3.75v5.55h-3.75zM96.10 217.82h3.75v5.55h-3.75zM105.11 217.82h3.75v5.55h-3.75zM109.62 217.82h3.75v5.55h-3.75zM118.63 217.82h3.75v5.55h-3.75zM127.64 217.82h3.75v5.55h-3.75zM132.14 217.82h3.75v5.55h-3.75zM136.65 217.82h3.75v5.55h-3.75zM141.15 217.82h3.75v5.55h-3.75zM150.16 217.82h3.75v5.55h-3.75zM154.67 217.82h3.75v5.55h-3.75zM163.68 217.82h3.75v5.55h-3.75zM168.18 217.82h3.75v5.55h-3.75zM172.69 217.82h3.75v5.55h-3.75zM181.70 217.82h3.75v5.55h-3.75zM186.20 217.82h3.75v5.55h-3.75zM195.21 217.82h3.75v5.55h-3.75zM204.22 217.82h3.75v5.55h-3.75zM208.73 217.82h3.75v5.55h-3.75zM217.74 217.82h3.75v5.55h-3.75zM226.75 217.82h3.75v5.55h-3.75zM235.76 217.82h3.75v5.55h-3.75zM244.77 217.82h3.75v5.55h-3.75zM249.27 217.82h3.75v5.55h-3.75zM253.78 217.82h3.75v5.55h-3.75zM258.28 217.82h3.75v5.55h-3.75zM267.29 217.82h3.75v5.55h-3.75zM271.80 217.82h3.75v5.55h-3.75zM280.81 217.82h3.75v5.55h-3.75zM289.82 217.82h3.75v5.55h-3.75zM294.32 217.82h3.75v5.55h-3.75zM298.83 217.82h3.75v5.55h-3.75zM303.33 217.82h3.75v5.55h-3.75zM307.84 217.82h3.75v5.55h-3.75zM312.34 217.82h3.75v5.55h-3.75zM316.85 217.82h3.75v5.55h-3.75zM321.35 217.82h3.75v5.55h-3.75zM325.86 217.82h3.75v5.55h-3.75zM330.36 217.82h3.75v5.55h-3.75zM334.87 217.82h3.75v5.55h-3.75zM339.37 217.82h3.75v5.55h-3.75zM343.88 217.82h3.75v5.55h-3.75zM350.18 217.82h3.75v5.55h-3.75zM354.68 217.82h3.75v5.55h-3.75zM359.18 217.82h3.75v5.55h-3.75zM363.68 217.82h3.75v5.55h-3.75zM368.18 217.82h3.75v5.55h-3.75zM377.18 217.82h3.75v5.55h-3.75zM386.18 217.82h3.75v5.55h-3.75zM390.68 217.82h3.75v5.55h-3.75zM395.18 217.82h3.75v5.55h-3.75zM399.68 217.82h3.75v5.55h-3.75zM404.18 217.82h3.75v5.55h-3.75zM408.68 217.82h3.75v5.55h-3.75zM413.18 217.82h3.75v5.55h-3.75zM417.68 217.82h3.75v5.55h-3.75zM422.18 217.82h3.75v5.55h-3.75zM426.68 217.82h3.75v5.55h-3.75zM431.18 217.82h3.75v5.55h-3.75zM435.68 217.82h3.75v5.55h-3.75zM440.18 217.82h3.75v5.55h-3.75zM78.08 224.16h3.75v5.55h-3.75zM82.59 224.16h3.75v5.55h-3.75zM87.09 224.16h3.75v5.55h-3.75zM91.60 224.16h3.75v5.55h-3.75zM96.10 224.16h3.75v5.55h-3.75zM100.61 224.16h3.75v5.55h-3.75zM105.11 224.16h3.75v5.55h-3.75zM109.62 224.16h3.75v5.55h-3.75zM114.12 224.16h3.75v5.55h-3.75zM118.63 224.16h3.75v5.55h-3.75zM123.13 224.16h3.75v5.55h-3.75zM132.14 224.16h3.75v5.55h-3.75zM136.65 224.16h3.75v5.55h-3.75zM141.15 224.16h3.75v5.55h-3.75zM145.66 224.16h3.75v5.55h-3.75zM150.16 224.16h3.75v5.55h-3.75zM154.67 224.16h3.75v5.55h-3.75zM159.17 224.16h3.75v5.55h-3.75zM168.18 224.16h3.75v5.55h-3.75zM172.69 224.16h3.75v5.55h-3.75zM181.70 224.16h3.75v5.55h-3.75zM186.20 224.16h3.75v5.55h-3.75zM190.71 224.16h3.75v5.55h-3.75zM195.21 224.16h3.75v5.55h-3.75zM199.72 224.16h3.75v5.55h-3.75zM204.22 224.16h3.75v5.55h-3.75zM208.73 224.16h3.75v5.55h-3.75zM213.23 224.16h3.75v5.55h-3.75zM217.74 224.16h3.75v5.55h-3.75zM222.24 224.16h3.75v5.55h-3.75zM226.75 224.16h3.75v5.55h-3.75zM231.25 224.16h3.75v5.55h-3.75zM235.76 224.16h3.75v5.55h-3.75zM240.26 224.16h3.75v5.55h-3.75zM244.77 224.16h3.75v5.55h-3.75zM249.27 224.16h3.75v5.55h-3.75zM253.78 224.16h3.75v5.55h-3.75zM258.28 224.16h3.75v5.55h-3.75zM262.79 224.16h3.75v5.55h-3.75zM267.29 224.16h3.75v5.55h-3.75zM271.80 224.16h3.75v5.55h-3.75zM276.30 224.16h3.75v5.55h-3.75zM280.81 224.16h3.75v5.55h-3.75zM285.31 224.16h3.75v5.55h-3.75zM289.82 224.16h3.75v5.55h-3.75zM294.32 224.16h3.75v5.55h-3.75zM303.33 224.16h3.75v5.55h-3.75zM312.34 224.16h3.75v5.55h-3.75zM321.35 224.16h3.75v5.55h-3.75zM325.86 224.16h3.75v5.55h-3.75zM330.36 224.16h3.75v5.55h-3.75zM334.87 224.16h3.75v5.55h-3.75zM339.37 224.16h3.75v5.55h-3.75zM343.88 224.16h3.75v5.55h-3.75zM350.18 224.16h3.75v5.55h-3.75zM354.68 224.16h3.75v5.55h-3.75zM359.18 224.16h3.75v5.55h-3.75zM363.68 224.16h3.75v5.55h-3.75zM368.18 224.16h3.75v5.55h-3.75zM372.68 224.16h3.75v5.55h-3.75zM377.18 224.16h3.75v5.55h-3.75zM381.68 224.16h3.75v5.55h-3.75zM386.18 224.16h3.75v5.55h-3.75zM390.68 224.16h3.75v5.55h-3.75zM395.18 224.16h3.75v5.55h-3.75zM399.68 224.16h3.75v5.55h-3.75zM404.18 224.16h3.75v5.55h-3.75zM408.68 224.16h3.75v5.55h-3.75zM413.18 224.16h3.75v5.55h-3.75zM417.68 224.16h3.75v5.55h-3.75zM422.18 224.16h3.75v5.55h-3.75zM426.68 224.16h3.75v5.55h-3.75zM431.18 224.16h3.75v5.55h-3.75zM435.68 224.16h3.75v5.55h-3.75zM440.18 224.16h3.75v5.55h-3.75zM73.58 230.48h3.75v5.55h-3.75zM78.08 230.48h3.75v5.55h-3.75zM82.59 230.48h3.75v5.55h-3.75zM91.60 230.48h3.75v5.55h-3.75zM96.10 230.48h3.75v5.55h-3.75zM100.61 230.48h3.75v5.55h-3.75zM105.11 230.48h3.75v5.55h-3.75zM109.62 230.48h3.75v5.55h-3.75zM114.12 230.48h3.75v5.55h-3.75zM118.63 230.48h3.75v5.55h-3.75zM123.13 230.48h3.75v5.55h-3.75zM127.64 230.48h3.75v5.55h-3.75zM132.14 230.48h3.75v5.55h-3.75zM136.65 230.48h3.75v5.55h-3.75zM141.15 230.48h3.75v5.55h-3.75zM145.66 230.48h3.75v5.55h-3.75zM150.16 230.48h3.75v5.55h-3.75zM154.67 230.48h3.75v5.55h-3.75zM159.17 230.48h3.75v5.55h-3.75zM163.68 230.48h3.75v5.55h-3.75zM168.18 230.48h3.75v5.55h-3.75zM172.69 230.48h3.75v5.55h-3.75zM177.19 230.48h3.75v5.55h-3.75zM181.70 230.48h3.75v5.55h-3.75zM186.20 230.48h3.75v5.55h-3.75zM190.71 230.48h3.75v5.55h-3.75zM195.21 230.48h3.75v5.55h-3.75zM199.72 230.48h3.75v5.55h-3.75zM204.22 230.48h3.75v5.55h-3.75zM213.23 230.48h3.75v5.55h-3.75zM217.74 230.48h3.75v5.55h-3.75zM226.75 230.48h3.75v5.55h-3.75zM231.25 230.48h3.75v5.55h-3.75zM235.76 230.48h3.75v5.55h-3.75zM240.26 230.48h3.75v5.55h-3.75zM244.77 230.48h3.75v5.55h-3.75zM249.27 230.48h3.75v5.55h-3.75zM253.78 230.48h3.75v5.55h-3.75zM258.28 230.48h3.75v5.55h-3.75zM262.79 230.48h3.75v5.55h-3.75zM267.29 230.48h3.75v5.55h-3.75zM271.80 230.48h3.75v5.55h-3.75zM276.30 230.48h3.75v5.55h-3.75zM280.81 230.48h3.75v5.55h-3.75zM285.31 230.48h3.75v5.55h-3.75zM289.82 230.48h3.75v5.55h-3.75zM294.32 230.48h3.75v5.55h-3.75zM298.83 230.48h3.75v5.55h-3.75zM303.33 230.48h3.75v5.55h-3.75zM307.84 230.48h3.75v5.55h-3.75zM312.34 230.48h3.75v5.55h-3.75zM316.85 230.48h3.75v5.55h-3.75zM321.35 230.48h3.75v5.55h-3.75zM325.86 230.48h3.75v5.55h-3.75zM330.36 230.48h3.75v5.55h-3.75zM334.87 230.48h3.75v5.55h-3.75zM339.37 230.48h3.75v5.55h-3.75zM343.88 230.48h3.75v5.55h-3.75zM350.18 230.48h3.75v5.55h-3.75zM354.68 230.48h3.75v5.55h-3.75zM359.18 230.48h3.75v5.55h-3.75zM363.68 230.48h3.75v5.55h-3.75zM368.18 230.48h3.75v5.55h-3.75zM372.68 230.48h3.75v5.55h-3.75zM381.68 230.48h3.75v5.55h-3.75zM386.18 230.48h3.75v5.55h-3.75zM390.68 230.48h3.75v5.55h-3.75zM395.18 230.48h3.75v5.55h-3.75zM399.68 230.48h3.75v5.55h-3.75zM404.18 230.48h3.75v5.55h-3.75zM408.68 230.48h3.75v5.55h-3.75zM413.18 230.48h3.75v5.55h-3.75zM417.68 230.48h3.75v5.55h-3.75zM422.18 230.48h3.75v5.55h-3.75zM426.68 230.48h3.75v5.55h-3.75zM431.18 230.48h3.75v5.55h-3.75zM435.68 230.48h3.75v5.55h-3.75zM440.18 230.48h3.75v5.55h-3.75zM73.58 236.81h3.75v5.55h-3.75zM78.08 236.81h3.75v5.55h-3.75zM82.59 236.81h3.75v5.55h-3.75zM87.09 236.81h3.75v5.55h-3.75zM91.60 236.81h3.75v5.55h-3.75zM96.10 236.81h3.75v5.55h-3.75zM100.61 236.81h3.75v5.55h-3.75zM105.11 236.81h3.75v5.55h-3.75zM109.62 236.81h3.75v5.55h-3.75zM114.12 236.81h3.75v5.55h-3.75zM118.63 236.81h3.75v5.55h-3.75zM123.13 236.81h3.75v5.55h-3.75zM127.64 236.81h3.75v5.55h-3.75zM132.14 236.81h3.75v5.55h-3.75zM136.65 236.81h3.75v5.55h-3.75zM141.15 236.81h3.75v5.55h-3.75zM145.66 236.81h3.75v5.55h-3.75zM150.16 236.81h3.75v5.55h-3.75zM154.67 236.81h3.75v5.55h-3.75zM159.17 236.81h3.75v5.55h-3.75zM163.68 236.81h3.75v5.55h-3.75zM168.18 236.81h3.75v5.55h-3.75zM172.69 236.81h3.75v5.55h-3.75zM177.19 236.81h3.75v5.55h-3.75zM181.70 236.81h3.75v5.55h-3.75zM186.20 236.81h3.75v5.55h-3.75zM190.71 236.81h3.75v5.55h-3.75zM195.21 236.81h3.75v5.55h-3.75zM199.72 236.81h3.75v5.55h-3.75zM204.22 236.81h3.75v5.55h-3.75zM208.73 236.81h3.75v5.55h-3.75zM213.23 236.81h3.75v5.55h-3.75zM217.74 236.81h3.75v5.55h-3.75zM222.24 236.81h3.75v5.55h-3.75zM226.75 236.81h3.75v5.55h-3.75zM231.25 236.81h3.75v5.55h-3.75zM235.76 236.81h3.75v5.55h-3.75zM240.26 236.81h3.75v5.55h-3.75zM244.77 236.81h3.75v5.55h-3.75zM249.27 236.81h3.75v5.55h-3.75zM253.78 236.81h3.75v5.55h-3.75zM258.28 236.81h3.75v5.55h-3.75zM262.79 236.81h3.75v5.55h-3.75zM267.29 236.81h3.75v5.55h-3.75zM271.80 236.81h3.75v5.55h-3.75zM276.30 236.81h3.75v5.55h-3.75zM280.81 236.81h3.75v5.55h-3.75zM285.31 236.81h3.75v5.55h-3.75zM289.82 236.81h3.75v5.55h-3.75zM294.32 236.81h3.75v5.55h-3.75zM298.83 236.81h3.75v5.55h-3.75zM303.33 236.81h3.75v5.55h-3.75zM307.84 236.81h3.75v5.55h-3.75zM312.34 236.81h3.75v5.55h-3.75zM316.85 236.81h3.75v5.55h-3.75zM321.35 236.81h3.75v5.55h-3.75zM325.86 236.81h3.75v5.55h-3.75zM330.36 236.81h3.75v5.55h-3.75zM334.87 236.81h3.75v5.55h-3.75zM339.37 236.81h3.75v5.55h-3.75zM343.88 236.81h3.75v5.55h-3.75zM350.18 236.81h3.75v5.55h-3.75zM354.68 236.81h3.75v5.55h-3.75zM363.68 236.81h3.75v5.55h-3.75zM368.18 236.81h3.75v5.55h-3.75zM372.68 236.81h3.75v5.55h-3.75zM377.18 236.81h3.75v5.55h-3.75zM381.68 236.81h3.75v5.55h-3.75zM386.18 236.81h3.75v5.55h-3.75zM390.68 236.81h3.75v5.55h-3.75zM395.18 236.81h3.75v5.55h-3.75zM399.68 236.81h3.75v5.55h-3.75zM404.18 236.81h3.75v5.55h-3.75zM408.68 236.81h3.75v5.55h-3.75zM413.18 236.81h3.75v5.55h-3.75zM417.68 236.81h3.75v5.55h-3.75zM422.18 236.81h3.75v5.55h-3.75zM431.18 236.81h3.75v5.55h-3.75zM435.68 236.81h3.75v5.55h-3.75zM440.18 236.81h3.75v5.55h-3.75zM73.58 245.62h3.75v5.55h-3.75zM78.08 245.62h3.75v5.55h-3.75zM82.59 245.62h3.75v5.55h-3.75zM87.09 245.62h3.75v5.55h-3.75zM91.60 245.62h3.75v5.55h-3.75zM100.61 245.62h3.75v5.55h-3.75zM105.11 245.62h3.75v5.55h-3.75zM109.62 245.62h3.75v5.55h-3.75zM114.12 245.62h3.75v5.55h-3.75zM123.13 245.62h3.75v5.55h-3.75zM127.64 245.62h3.75v5.55h-3.75zM132.14 245.62h3.75v5.55h-3.75zM141.15 245.62h3.75v5.55h-3.75zM145.66 245.62h3.75v5.55h-3.75zM150.16 245.62h3.75v5.55h-3.75zM154.67 245.62h3.75v5.55h-3.75zM159.17 245.62h3.75v5.55h-3.75zM163.68 245.62h3.75v5.55h-3.75zM168.18 245.62h3.75v5.55h-3.75zM172.69 245.62h3.75v5.55h-3.75zM177.19 245.62h3.75v5.55h-3.75zM181.70 245.62h3.75v5.55h-3.75zM186.20 245.62h3.75v5.55h-3.75zM190.71 245.62h3.75v5.55h-3.75zM195.21 245.62h3.75v5.55h-3.75zM199.72 245.62h3.75v5.55h-3.75zM204.22 245.62h3.75v5.55h-3.75zM208.73 245.62h3.75v5.55h-3.75zM213.23 245.62h3.75v5.55h-3.75zM217.74 245.62h3.75v5.55h-3.75zM222.24 245.62h3.75v5.55h-3.75zM235.76 245.62h3.75v5.55h-3.75zM240.26 245.62h3.75v5.55h-3.75zM249.27 245.62h3.75v5.55h-3.75zM253.78 245.62h3.75v5.55h-3.75zM258.28 245.62h3.75v5.55h-3.75zM262.79 245.62h3.75v5.55h-3.75zM267.29 245.62h3.75v5.55h-3.75zM271.80 245.62h3.75v5.55h-3.75zM276.30 245.62h3.75v5.55h-3.75zM280.81 245.62h3.75v5.55h-3.75zM285.31 245.62h3.75v5.55h-3.75zM294.32 245.62h3.75v5.55h-3.75zM298.83 245.62h3.75v5.55h-3.75zM303.33 245.62h3.75v5.55h-3.75zM307.84 245.62h3.75v5.55h-3.75zM312.34 245.62h3.75v5.55h-3.75zM316.85 245.62h3.75v5.55h-3.75zM321.35 245.62h3.75v5.55h-3.75zM325.86 245.62h3.75v5.55h-3.75zM330.36 245.62h3.75v5.55h-3.75zM334.87 245.62h3.75v5.55h-3.75zM339.37 245.62h3.75v5.55h-3.75zM343.88 245.62h3.75v5.55h-3.75zM372.68 245.62h3.75v5.55h-3.75zM377.18 245.62h3.75v5.55h-3.75zM381.68 245.62h3.75v5.55h-3.75zM386.18 245.62h3.75v5.55h-3.75zM390.68 245.62h3.75v5.55h-3.75zM395.18 245.62h3.75v5.55h-3.75zM399.68 245.62h3.75v5.55h-3.75zM404.18 245.62h3.75v5.55h-3.75zM408.68 245.62h3.75v5.55h-3.75zM413.18 245.62h3.75v5.55h-3.75zM417.68 245.62h3.75v5.55h-3.75zM422.18 245.62h3.75v5.55h-3.75zM426.68 245.62h3.75v5.55h-3.75zM431.18 245.62h3.75v5.55h-3.75zM435.68 245.62h3.75v5.55h-3.75zM440.18 245.62h3.75v5.55h-3.75zM73.58 254.22h3.75v5.55h-3.75zM78.08 254.22h3.75v5.55h-3.75zM82.59 254.22h3.75v5.55h-3.75zM87.09 254.22h3.75v5.55h-3.75zM91.60 254.22h3.75v5.55h-3.75zM96.10 254.22h3.75v5.55h-3.75zM100.61 254.22h3.75v5.55h-3.75zM105.11 254.22h3.75v5.55h-3.75zM109.62 254.22h3.75v5.55h-3.75zM118.63 254.22h3.75v5.55h-3.75zM123.13 254.22h3.75v5.55h-3.75zM127.64 254.22h3.75v5.55h-3.75zM132.14 254.22h3.75v5.55h-3.75zM136.65 254.22h3.75v5.55h-3.75zM141.15 254.22h3.75v5.55h-3.75zM145.66 254.22h3.75v5.55h-3.75zM150.16 254.22h3.75v5.55h-3.75zM154.67 254.22h3.75v5.55h-3.75zM159.17 254.22h3.75v5.55h-3.75zM163.68 254.22h3.75v5.55h-3.75zM172.69 254.22h3.75v5.55h-3.75zM177.19 254.22h3.75v5.55h-3.75zM181.70 254.22h3.75v5.55h-3.75zM186.20 254.22h3.75v5.55h-3.75zM190.71 254.22h3.75v5.55h-3.75zM195.21 254.22h3.75v5.55h-3.75zM199.72 254.22h3.75v5.55h-3.75zM204.22 254.22h3.75v5.55h-3.75zM208.73 254.22h3.75v5.55h-3.75zM213.23 254.22h3.75v5.55h-3.75zM217.74 254.22h3.75v5.55h-3.75zM222.24 254.22h3.75v5.55h-3.75zM226.75 254.22h3.75v5.55h-3.75zM231.25 254.22h3.75v5.55h-3.75zM235.76 254.22h3.75v5.55h-3.75zM240.26 254.22h3.75v5.55h-3.75zM244.77 254.22h3.75v5.55h-3.75zM249.27 254.22h3.75v5.55h-3.75zM253.78 254.22h3.75v5.55h-3.75zM258.28 254.22h3.75v5.55h-3.75zM262.79 254.22h3.75v5.55h-3.75zM267.29 254.22h3.75v5.55h-3.75zM271.80 254.22h3.75v5.55h-3.75zM276.30 254.22h3.75v5.55h-3.75zM280.81 254.22h3.75v5.55h-3.75zM285.31 254.22h3.75v5.55h-3.75zM289.82 254.22h3.75v5.55h-3.75zM294.32 254.22h3.75v5.55h-3.75zM298.83 254.22h3.75v5.55h-3.75zM303.33 254.22h3.75v5.55h-3.75zM307.84 254.22h3.75v5.55h-3.75zM312.34 254.22h3.75v5.55h-3.75zM316.85 254.22h3.75v5.55h-3.75zM321.35 254.22h3.75v5.55h-3.75zM325.86 254.22h3.75v5.55h-3.75zM330.36 254.22h3.75v5.55h-3.75zM334.87 254.22h3.75v5.55h-3.75zM343.88 254.22h3.75v5.55h-3.75zM350.18 254.22h3.75v5.55h-3.75zM354.68 254.22h3.75v5.55h-3.75zM359.18 254.22h3.75v5.55h-3.75zM363.68 254.22h3.75v5.55h-3.75zM368.18 254.22h3.75v5.55h-3.75zM372.68 254.22h3.75v5.55h-3.75zM377.18 254.22h3.75v5.55h-3.75zM381.68 254.22h3.75v5.55h-3.75zM386.18 254.22h3.75v5.55h-3.75zM390.68 254.22h3.75v5.55h-3.75zM395.18 254.22h3.75v5.55h-3.75zM399.68 254.22h3.75v5.55h-3.75zM404.18 254.22h3.75v5.55h-3.75zM408.68 254.22h3.75v5.55h-3.75zM413.18 254.22h3.75v5.55h-3.75zM422.18 254.22h3.75v5.55h-3.75zM426.68 254.22h3.75v5.55h-3.75zM431.18 254.22h3.75v5.55h-3.75zM435.68 254.22h3.75v5.55h-3.75zM440.18 254.22h3.75v5.55h-3.75zM73.58 260.56h3.75v5.55h-3.75zM78.08 260.56h3.75v5.55h-3.75zM82.59 260.56h3.75v5.55h-3.75zM91.60 260.56h3.75v5.55h-3.75zM96.10 260.56h3.75v5.55h-3.75zM100.61 260.56h3.75v5.55h-3.75zM109.62 260.56h3.75v5.55h-3.75zM114.12 260.56h3.75v5.55h-3.75zM118.63 260.56h3.75v5.55h-3.75zM123.13 260.56h3.75v5.55h-3.75zM127.64 260.56h3.75v5.55h-3.75zM132.14 260.56h3.75v5.55h-3.75zM136.65 260.56h3.75v5.55h-3.75zM141.15 260.56h3.75v5.55h-3.75zM145.66 260.56h3.75v5.55h-3.75zM150.16 260.56h3.75v5.55h-3.75zM154.67 260.56h3.75v5.55h-3.75zM159.17 260.56h3.75v5.55h-3.75zM163.68 260.56h3.75v5.55h-3.75zM168.18 260.56h3.75v5.55h-3.75zM177.19 260.56h3.75v5.55h-3.75zM181.70 260.56h3.75v5.55h-3.75zM186.20 260.56h3.75v5.55h-3.75zM190.71 260.56h3.75v5.55h-3.75zM195.21 260.56h3.75v5.55h-3.75zM199.72 260.56h3.75v5.55h-3.75zM204.22 260.56h3.75v5.55h-3.75zM208.73 260.56h3.75v5.55h-3.75zM213.23 260.56h3.75v5.55h-3.75zM217.74 260.56h3.75v5.55h-3.75zM222.24 260.56h3.75v5.55h-3.75zM226.75 260.56h3.75v5.55h-3.75zM231.25 260.56h3.75v5.55h-3.75zM235.76 260.56h3.75v5.55h-3.75zM240.26 260.56h3.75v5.55h-3.75zM244.77 260.56h3.75v5.55h-3.75zM249.27 260.56h3.75v5.55h-3.75zM253.78 260.56h3.75v5.55h-3.75zM258.28 260.56h3.75v5.55h-3.75zM262.79 260.56h3.75v5.55h-3.75zM267.29 260.56h3.75v5.55h-3.75zM271.80 260.56h3.75v5.55h-3.75zM276.30 260.56h3.75v5.55h-3.75zM280.81 260.56h3.75v5.55h-3.75zM285.31 260.56h3.75v5.55h-3.75zM289.82 260.56h3.75v5.55h-3.75zM294.32 260.56h3.75v5.55h-3.75zM298.83 260.56h3.75v5.55h-3.75zM303.33 260.56h3.75v5.55h-3.75zM307.84 260.56h3.75v5.55h-3.75zM312.34 260.56h3.75v5.55h-3.75zM316.85 260.56h3.75v5.55h-3.75zM321.35 260.56h3.75v5.55h-3.75zM325.86 260.56h3.75v5.55h-3.75zM330.36 260.56h3.75v5.55h-3.75zM334.87 260.56h3.75v5.55h-3.75zM339.37 260.56h3.75v5.55h-3.75zM343.88 260.56h3.75v5.55h-3.75zM350.18 260.56h3.75v5.55h-3.75zM354.68 260.56h3.75v5.55h-3.75zM359.18 260.56h3.75v5.55h-3.75zM363.68 260.56h3.75v5.55h-3.75zM368.18 260.56h3.75v5.55h-3.75zM372.68 260.56h3.75v5.55h-3.75zM377.18 260.56h3.75v5.55h-3.75zM381.68 260.56h3.75v5.55h-3.75zM386.18 260.56h3.75v5.55h-3.75zM390.68 260.56h3.75v5.55h-3.75zM395.18 260.56h3.75v5.55h-3.75zM399.68 260.56h3.75v5.55h-3.75zM404.18 260.56h3.75v5.55h-3.75zM408.68 260.56h3.75v5.55h-3.75zM413.18 260.56h3.75v5.55h-3.75zM417.68 260.56h3.75v5.55h-3.75zM422.18 260.56h3.75v5.55h-3.75zM426.68 260.56h3.75v5.55h-3.75zM431.18 260.56h3.75v5.55h-3.75zM435.68 260.56h3.75v5.55h-3.75zM440.18 260.56h3.75v5.55h-3.75zM82.59 269.23h3.75v5.55h-3.75zM87.09 269.23h3.75v5.55h-3.75zM91.60 269.23h3.75v5.55h-3.75zM96.10 269.23h3.75v5.55h-3.75zM100.61 269.23h3.75v5.55h-3.75zM105.11 269.23h3.75v5.55h-3.75zM109.62 269.23h3.75v5.55h-3.75zM114.12 269.23h3.75v5.55h-3.75zM118.63 269.23h3.75v5.55h-3.75zM123.13 269.23h3.75v5.55h-3.75zM127.64 269.23h3.75v5.55h-3.75zM132.14 269.23h3.75v5.55h-3.75zM136.65 269.23h3.75v5.55h-3.75zM141.15 269.23h3.75v5.55h-3.75zM145.66 269.23h3.75v5.55h-3.75zM150.16 269.23h3.75v5.55h-3.75zM154.67 269.23h3.75v5.55h-3.75zM159.17 269.23h3.75v5.55h-3.75zM168.18 269.23h3.75v5.55h-3.75zM172.69 269.23h3.75v5.55h-3.75zM177.19 269.23h3.75v5.55h-3.75zM181.70 269.23h3.75v5.55h-3.75zM186.20 269.23h3.75v5.55h-3.75zM190.71 269.23h3.75v5.55h-3.75zM195.21 269.23h3.75v5.55h-3.75zM204.22 269.23h3.75v5.55h-3.75zM208.73 269.23h3.75v5.55h-3.75zM213.23 269.23h3.75v5.55h-3.75zM217.74 269.23h3.75v5.55h-3.75zM222.24 269.23h3.75v5.55h-3.75zM226.75 269.23h3.75v5.55h-3.75zM231.25 269.23h3.75v5.55h-3.75zM235.76 269.23h3.75v5.55h-3.75zM240.26 269.23h3.75v5.55h-3.75zM244.77 269.23h3.75v5.55h-3.75zM249.27 269.23h3.75v5.55h-3.75zM253.78 269.23h3.75v5.55h-3.75zM258.28 269.23h3.75v5.55h-3.75zM262.79 269.23h3.75v5.55h-3.75zM267.29 269.23h3.75v5.55h-3.75zM271.80 269.23h3.75v5.55h-3.75zM276.30 269.23h3.75v5.55h-3.75zM280.81 269.23h3.75v5.55h-3.75zM285.31 269.23h3.75v5.55h-3.75zM289.82 269.23h3.75v5.55h-3.75zM294.32 269.23h3.75v5.55h-3.75zM298.83 269.23h3.75v5.55h-3.75zM303.33 269.23h3.75v5.55h-3.75zM307.84 269.23h3.75v5.55h-3.75zM312.34 269.23h3.75v5.55h-3.75zM316.85 269.23h3.75v5.55h-3.75zM321.35 269.23h3.75v5.55h-3.75zM325.86 269.23h3.75v5.55h-3.75zM330.36 269.23h3.75v5.55h-3.75zM334.87 269.23h3.75v5.55h-3.75zM339.37 269.23h3.75v5.55h-3.75zM343.88 269.23h3.75v5.55h-3.75zM350.18 269.23h3.75v5.55h-3.75zM354.68 269.23h3.75v5.55h-3.75zM359.18 269.23h3.75v5.55h-3.75zM363.68 269.23h3.75v5.55h-3.75zM368.18 269.23h3.75v5.55h-3.75zM372.68 269.23h3.75v5.55h-3.75zM377.18 269.23h3.75v5.55h-3.75zM381.68 269.23h3.75v5.55h-3.75zM390.68 269.23h3.75v5.55h-3.75zM395.18 269.23h3.75v5.55h-3.75zM399.68 269.23h3.75v5.55h-3.75zM404.18 269.23h3.75v5.55h-3.75zM408.68 269.23h3.75v5.55h-3.75zM413.18 269.23h3.75v5.55h-3.75zM417.68 269.23h3.75v5.55h-3.75zM422.18 269.23h3.75v5.55h-3.75zM426.68 269.23h3.75v5.55h-3.75zM431.18 269.23h3.75v5.55h-3.75zM435.68 269.23h3.75v5.55h-3.75zM440.18 269.23h3.75v5.55h-3.75zM73.58 277.93h3.75v5.55h-3.75zM82.59 277.93h3.75v5.55h-3.75zM87.09 277.93h3.75v5.55h-3.75zM91.60 277.93h3.75v5.55h-3.75zM96.10 277.93h3.75v5.55h-3.75zM100.61 277.93h3.75v5.55h-3.75zM105.11 277.93h3.75v5.55h-3.75zM109.62 277.93h3.75v5.55h-3.75zM114.12 277.93h3.75v5.55h-3.75zM123.13 277.93h3.75v5.55h-3.75zM127.64 277.93h3.75v5.55h-3.75zM132.14 277.93h3.75v5.55h-3.75zM136.65 277.93h3.75v5.55h-3.75zM141.15 277.93h3.75v5.55h-3.75zM150.16 277.93h3.75v5.55h-3.75zM154.67 277.93h3.75v5.55h-3.75zM159.17 277.93h3.75v5.55h-3.75zM163.68 277.93h3.75v5.55h-3.75zM168.18 277.93h3.75v5.55h-3.75zM172.69 277.93h3.75v5.55h-3.75zM177.19 277.93h3.75v5.55h-3.75zM181.70 277.93h3.75v5.55h-3.75zM186.20 277.93h3.75v5.55h-3.75zM190.71 277.93h3.75v5.55h-3.75zM195.21 277.93h3.75v5.55h-3.75zM199.72 277.93h3.75v5.55h-3.75zM204.22 277.93h3.75v5.55h-3.75zM208.73 277.93h3.75v5.55h-3.75zM213.23 277.93h3.75v5.55h-3.75zM222.24 277.93h3.75v5.55h-3.75zM226.75 277.93h3.75v5.55h-3.75zM231.25 277.93h3.75v5.55h-3.75zM235.76 277.93h3.75v5.55h-3.75zM240.26 277.93h3.75v5.55h-3.75zM244.77 277.93h3.75v5.55h-3.75zM249.27 277.93h3.75v5.55h-3.75zM253.78 277.93h3.75v5.55h-3.75zM258.28 277.93h3.75v5.55h-3.75zM262.79 277.93h3.75v5.55h-3.75zM267.29 277.93h3.75v5.55h-3.75zM276.30 277.93h3.75v5.55h-3.75zM280.81 277.93h3.75v5.55h-3.75zM285.31 277.93h3.75v5.55h-3.75zM289.82 277.93h3.75v5.55h-3.75zM294.32 277.93h3.75v5.55h-3.75zM298.83 277.93h3.75v5.55h-3.75zM303.33 277.93h3.75v5.55h-3.75zM307.84 277.93h3.75v5.55h-3.75zM312.34 277.93h3.75v5.55h-3.75zM316.85 277.93h3.75v5.55h-3.75zM321.35 277.93h3.75v5.55h-3.75zM325.86 277.93h3.75v5.55h-3.75zM330.36 277.93h3.75v5.55h-3.75zM334.87 277.93h3.75v5.55h-3.75zM339.37 277.93h3.75v5.55h-3.75zM343.88 277.93h3.75v5.55h-3.75zM350.18 277.93h3.75v5.55h-3.75zM354.68 277.93h3.75v5.55h-3.75zM359.18 277.93h3.75v5.55h-3.75zM363.68 277.93h3.75v5.55h-3.75zM368.18 277.93h3.75v5.55h-3.75zM372.68 277.93h3.75v5.55h-3.75zM377.18 277.93h3.75v5.55h-3.75zM381.68 277.93h3.75v5.55h-3.75zM386.18 277.93h3.75v5.55h-3.75zM390.68 277.93h3.75v5.55h-3.75zM395.18 277.93h3.75v5.55h-3.75zM399.68 277.93h3.75v5.55h-3.75zM404.18 277.93h3.75v5.55h-3.75zM408.68 277.93h3.75v5.55h-3.75zM413.18 277.93h3.75v5.55h-3.75zM417.68 277.93h3.75v5.55h-3.75zM422.18 277.93h3.75v5.55h-3.75zM426.68 277.93h3.75v5.55h-3.75zM431.18 277.93h3.75v5.55h-3.75zM435.68 277.93h3.75v5.55h-3.75zM440.18 277.93h3.75v5.55h-3.75zM73.58 284.25h3.75v5.55h-3.75zM78.08 284.25h3.75v5.55h-3.75zM82.59 284.25h3.75v5.55h-3.75zM87.09 284.25h3.75v5.55h-3.75zM91.60 284.25h3.75v5.55h-3.75zM96.10 284.25h3.75v5.55h-3.75zM100.61 284.25h3.75v5.55h-3.75zM105.11 284.25h3.75v5.55h-3.75zM109.62 284.25h3.75v5.55h-3.75zM114.12 284.25h3.75v5.55h-3.75zM118.63 284.25h3.75v5.55h-3.75zM123.13 284.25h3.75v5.55h-3.75zM127.64 284.25h3.75v5.55h-3.75zM132.14 284.25h3.75v5.55h-3.75zM136.65 284.25h3.75v5.55h-3.75zM141.15 284.25h3.75v5.55h-3.75zM145.66 284.25h3.75v5.55h-3.75zM150.16 284.25h3.75v5.55h-3.75zM154.67 284.25h3.75v5.55h-3.75zM163.68 284.25h3.75v5.55h-3.75zM168.18 284.25h3.75v5.55h-3.75zM172.69 284.25h3.75v5.55h-3.75zM177.19 284.25h3.75v5.55h-3.75zM181.70 284.25h3.75v5.55h-3.75zM186.20 284.25h3.75v5.55h-3.75zM190.71 284.25h3.75v5.55h-3.75zM199.72 284.25h3.75v5.55h-3.75zM204.22 284.25h3.75v5.55h-3.75zM208.73 284.25h3.75v5.55h-3.75zM213.23 284.25h3.75v5.55h-3.75zM217.74 284.25h3.75v5.55h-3.75zM222.24 284.25h3.75v5.55h-3.75zM226.75 284.25h3.75v5.55h-3.75zM231.25 284.25h3.75v5.55h-3.75zM235.76 284.25h3.75v5.55h-3.75zM240.26 284.25h3.75v5.55h-3.75zM244.77 284.25h3.75v5.55h-3.75zM249.27 284.25h3.75v5.55h-3.75zM253.78 284.25h3.75v5.55h-3.75zM258.28 284.25h3.75v5.55h-3.75zM267.29 284.25h3.75v5.55h-3.75zM271.80 284.25h3.75v5.55h-3.75zM276.30 284.25h3.75v5.55h-3.75zM280.81 284.25h3.75v5.55h-3.75zM289.82 284.25h3.75v5.55h-3.75zM294.32 284.25h3.75v5.55h-3.75zM298.83 284.25h3.75v5.55h-3.75zM303.33 284.25h3.75v5.55h-3.75zM307.84 284.25h3.75v5.55h-3.75zM312.34 284.25h3.75v5.55h-3.75zM316.85 284.25h3.75v5.55h-3.75zM321.35 284.25h3.75v5.55h-3.75zM325.86 284.25h3.75v5.55h-3.75zM330.36 284.25h3.75v5.55h-3.75zM334.87 284.25h3.75v5.55h-3.75zM339.37 284.25h3.75v5.55h-3.75zM343.88 284.25h3.75v5.55h-3.75zM350.18 284.25h3.75v5.55h-3.75zM354.68 284.25h3.75v5.55h-3.75zM359.18 284.25h3.75v5.55h-3.75zM363.68 284.25h3.75v5.55h-3.75zM368.18 284.25h3.75v5.55h-3.75zM372.68 284.25h3.75v5.55h-3.75zM377.18 284.25h3.75v5.55h-3.75zM381.68 284.25h3.75v5.55h-3.75zM386.18 284.25h3.75v5.55h-3.75zM390.68 284.25h3.75v5.55h-3.75zM395.18 284.25h3.75v5.55h-3.75zM399.68 284.25h3.75v5.55h-3.75zM404.18 284.25h3.75v5.55h-3.75zM408.68 284.25h3.75v5.55h-3.75zM413.18 284.25h3.75v5.55h-3.75zM417.68 284.25h3.75v5.55h-3.75zM422.18 284.25h3.75v5.55h-3.75zM426.68 284.25h3.75v5.55h-3.75zM431.18 284.25h3.75v5.55h-3.75zM435.68 284.25h3.75v5.55h-3.75zM440.18 284.25h3.75v5.55h-3.75zM73.58 290.59h3.75v5.55h-3.75zM78.08 290.59h3.75v5.55h-3.75zM82.59 290.59h3.75v5.55h-3.75zM87.09 290.59h3.75v5.55h-3.75zM91.60 290.59h3.75v5.55h-3.75zM96.10 290.59h3.75v5.55h-3.75zM100.61 290.59h3.75v5.55h-3.75zM105.11 290.59h3.75v5.55h-3.75zM109.62 290.59h3.75v5.55h-3.75zM114.12 290.59h3.75v5.55h-3.75zM118.63 290.59h3.75v5.55h-3.75zM123.13 290.59h3.75v5.55h-3.75zM127.64 290.59h3.75v5.55h-3.75zM132.14 290.59h3.75v5.55h-3.75zM136.65 290.59h3.75v5.55h-3.75zM141.15 290.59h3.75v5.55h-3.75zM145.66 290.59h3.75v5.55h-3.75zM150.16 290.59h3.75v5.55h-3.75zM154.67 290.59h3.75v5.55h-3.75zM159.17 290.59h3.75v5.55h-3.75zM163.68 290.59h3.75v5.55h-3.75zM168.18 290.59h3.75v5.55h-3.75zM172.69 290.59h3.75v5.55h-3.75zM177.19 290.59h3.75v5.55h-3.75zM181.70 290.59h3.75v5.55h-3.75zM186.20 290.59h3.75v5.55h-3.75zM195.21 290.59h3.75v5.55h-3.75zM199.72 290.59h3.75v5.55h-3.75zM204.22 290.59h3.75v5.55h-3.75zM208.73 290.59h3.75v5.55h-3.75zM213.23 290.59h3.75v5.55h-3.75zM217.74 290.59h3.75v5.55h-3.75zM222.24 290.59h3.75v5.55h-3.75zM226.75 290.59h3.75v5.55h-3.75zM231.25 290.59h3.75v5.55h-3.75zM235.76 290.59h3.75v5.55h-3.75zM240.26 290.59h3.75v5.55h-3.75zM244.77 290.59h3.75v5.55h-3.75zM253.78 290.59h3.75v5.55h-3.75zM258.28 290.59h3.75v5.55h-3.75zM262.79 290.59h3.75v5.55h-3.75zM267.29 290.59h3.75v5.55h-3.75zM271.80 290.59h3.75v5.55h-3.75zM276.30 290.59h3.75v5.55h-3.75zM280.81 290.59h3.75v5.55h-3.75zM285.31 290.59h3.75v5.55h-3.75zM289.82 290.59h3.75v5.55h-3.75zM294.32 290.59h3.75v5.55h-3.75zM298.83 290.59h3.75v5.55h-3.75zM303.33 290.59h3.75v5.55h-3.75zM307.84 290.59h3.75v5.55h-3.75zM312.34 290.59h3.75v5.55h-3.75zM316.85 290.59h3.75v5.55h-3.75zM321.35 290.59h3.75v5.55h-3.75zM325.86 290.59h3.75v5.55h-3.75zM330.36 290.59h3.75v5.55h-3.75zM334.87 290.59h3.75v5.55h-3.75zM339.37 290.59h3.75v5.55h-3.75zM350.18 290.59h3.75v5.55h-3.75zM354.68 290.59h3.75v5.55h-3.75zM359.18 290.59h3.75v5.55h-3.75zM363.68 290.59h3.75v5.55h-3.75zM368.18 290.59h3.75v5.55h-3.75zM372.68 290.59h3.75v5.55h-3.75zM377.18 290.59h3.75v5.55h-3.75zM381.68 290.59h3.75v5.55h-3.75zM386.18 290.59h3.75v5.55h-3.75zM390.68 290.59h3.75v5.55h-3.75zM395.18 290.59h3.75v5.55h-3.75zM399.68 290.59h3.75v5.55h-3.75zM404.18 290.59h3.75v5.55h-3.75zM408.68 290.59h3.75v5.55h-3.75zM413.18 290.59h3.75v5.55h-3.75zM417.68 290.59h3.75v5.55h-3.75zM422.18 290.59h3.75v5.55h-3.75zM426.68 290.59h3.75v5.55h-3.75zM431.18 290.59h3.75v5.55h-3.75zM435.68 290.59h3.75v5.55h-3.75zM440.18 290.59h3.75v5.55h-3.75zM73.58 296.92h3.75v5.55h-3.75zM78.08 296.92h3.75v5.55h-3.75zM82.59 296.92h3.75v5.55h-3.75zM87.09 296.92h3.75v5.55h-3.75zM91.60 296.92h3.75v5.55h-3.75zM96.10 296.92h3.75v5.55h-3.75zM100.61 296.92h3.75v5.55h-3.75zM105.11 296.92h3.75v5.55h-3.75zM109.62 296.92h3.75v5.55h-3.75zM114.12 296.92h3.75v5.55h-3.75zM118.63 296.92h3.75v5.55h-3.75zM123.13 296.92h3.75v5.55h-3.75zM132.14 296.92h3.75v5.55h-3.75zM136.65 296.92h3.75v5.55h-3.75zM141.15 296.92h3.75v5.55h-3.75zM145.66 296.92h3.75v5.55h-3.75zM150.16 296.92h3.75v5.55h-3.75zM154.67 296.92h3.75v5.55h-3.75zM159.17 296.92h3.75v5.55h-3.75zM168.18 296.92h3.75v5.55h-3.75zM172.69 296.92h3.75v5.55h-3.75zM177.19 296.92h3.75v5.55h-3.75zM181.70 296.92h3.75v5.55h-3.75zM186.20 296.92h3.75v5.55h-3.75zM190.71 296.92h3.75v5.55h-3.75zM195.21 296.92h3.75v5.55h-3.75zM199.72 296.92h3.75v5.55h-3.75zM204.22 296.92h3.75v5.55h-3.75zM208.73 296.92h3.75v5.55h-3.75zM213.23 296.92h3.75v5.55h-3.75zM217.74 296.92h3.75v5.55h-3.75zM222.24 296.92h3.75v5.55h-3.75zM226.75 296.92h3.75v5.55h-3.75zM231.25 296.92h3.75v5.55h-3.75zM235.76 296.92h3.75v5.55h-3.75zM240.26 296.92h3.75v5.55h-3.75zM244.77 296.92h3.75v5.55h-3.75zM249.27 296.92h3.75v5.55h-3.75zM253.78 296.92h3.75v5.55h-3.75zM258.28 296.92h3.75v5.55h-3.75zM262.79 296.92h3.75v5.55h-3.75zM267.29 296.92h3.75v5.55h-3.75zM271.80 296.92h3.75v5.55h-3.75zM276.30 296.92h3.75v5.55h-3.75zM280.81 296.92h3.75v5.55h-3.75zM285.31 296.92h3.75v5.55h-3.75zM289.82 296.92h3.75v5.55h-3.75zM294.32 296.92h3.75v5.55h-3.75zM298.83 296.92h3.75v5.55h-3.75zM303.33 296.92h3.75v5.55h-3.75zM307.84 296.92h3.75v5.55h-3.75zM312.34 296.92h3.75v5.55h-3.75zM316.85 296.92h3.75v5.55h-3.75zM321.35 296.92h3.75v5.55h-3.75zM325.86 296.92h3.75v5.55h-3.75zM330.36 296.92h3.75v5.55h-3.75zM334.87 296.92h3.75v5.55h-3.75zM339.37 296.92h3.75v5.55h-3.75zM343.88 296.92h3.75v5.55h-3.75zM350.18 296.92h3.75v5.55h-3.75zM354.68 296.92h3.75v5.55h-3.75zM359.18 296.92h3.75v5.55h-3.75zM363.68 296.92h3.75v5.55h-3.75zM368.18 296.92h3.75v5.55h-3.75zM372.68 296.92h3.75v5.55h-3.75zM377.18 296.92h3.75v5.55h-3.75zM381.68 296.92h3.75v5.55h-3.75zM386.18 296.92h3.75v5.55h-3.75zM390.68 296.92h3.75v5.55h-3.75zM395.18 296.92h3.75v5.55h-3.75zM399.68 296.92h3.75v5.55h-3.75zM404.18 296.92h3.75v5.55h-3.75zM408.68 296.92h3.75v5.55h-3.75zM413.18 296.92h3.75v5.55h-3.75zM417.68 296.92h3.75v5.55h-3.75zM422.18 296.92h3.75v5.55h-3.75zM426.68 296.92h3.75v5.55h-3.75zM431.18 296.92h3.75v5.55h-3.75zM435.68 296.92h3.75v5.55h-3.75zM440.18 296.92h3.75v5.55h-3.75zM78.08 305.43h3.75v5.55h-3.75zM100.61 305.43h3.75v5.55h-3.75zM109.62 305.43h3.75v5.55h-3.75zM118.63 305.43h3.75v5.55h-3.75zM127.64 305.43h3.75v5.55h-3.75zM132.14 305.43h3.75v5.55h-3.75zM141.15 305.43h3.75v5.55h-3.75zM145.66 305.43h3.75v5.55h-3.75zM150.16 305.43h3.75v5.55h-3.75zM177.19 305.43h3.75v5.55h-3.75zM181.70 305.43h3.75v5.55h-3.75zM190.71 305.43h3.75v5.55h-3.75zM195.21 305.43h3.75v5.55h-3.75zM222.24 305.43h3.75v5.55h-3.75zM226.75 305.43h3.75v5.55h-3.75zM231.25 305.43h3.75v5.55h-3.75zM240.26 305.43h3.75v5.55h-3.75zM253.78 305.43h3.75v5.55h-3.75zM258.28 305.43h3.75v5.55h-3.75zM262.79 305.43h3.75v5.55h-3.75zM271.80 305.43h3.75v5.55h-3.75zM276.30 305.43h3.75v5.55h-3.75zM280.81 305.43h3.75v5.55h-3.75zM285.31 305.43h3.75v5.55h-3.75zM316.85 305.43h3.75v5.55h-3.75zM321.35 305.43h3.75v5.55h-3.75zM334.87 305.43h3.75v5.55h-3.75zM339.37 305.43h3.75v5.55h-3.75zM343.88 305.43h3.75v5.55h-3.75zM354.68 305.43h3.75v5.55h-3.75zM359.18 305.43h3.75v5.55h-3.75zM363.68 305.43h3.75v5.55h-3.75zM368.18 305.43h3.75v5.55h-3.75zM372.68 305.43h3.75v5.55h-3.75zM377.18 305.43h3.75v5.55h-3.75zM381.68 305.43h3.75v5.55h-3.75zM390.68 305.43h3.75v5.55h-3.75zM395.18 305.43h3.75v5.55h-3.75zM399.68 305.43h3.75v5.55h-3.75zM404.18 305.43h3.75v5.55h-3.75zM413.18 305.43h3.75v5.55h-3.75zM417.68 305.43h3.75v5.55h-3.75zM422.18 305.43h3.75v5.55h-3.75zM426.68 305.43h3.75v5.55h-3.75zM431.18 305.43h3.75v5.55h-3.75zM435.68 305.43h3.75v5.55h-3.75zM440.18 305.43h3.75v5.55h-3.75zM82.59 311.75h3.75v5.55h-3.75zM114.12 311.75h3.75v5.55h-3.75zM118.63 311.75h3.75v5.55h-3.75zM127.64 311.75h3.75v5.55h-3.75zM132.14 311.75h3.75v5.55h-3.75zM136.65 311.75h3.75v5.55h-3.75zM145.66 311.75h3.75v5.55h-3.75zM150.16 311.75h3.75v5.55h-3.75zM163.68 311.75h3.75v5.55h-3.75zM186.20 311.75h3.75v5.55h-3.75zM208.73 311.75h3.75v5.55h-3.75zM217.74 311.75h3.75v5.55h-3.75zM226.75 311.75h3.75v5.55h-3.75zM231.25 311.75h3.75v5.55h-3.75zM235.76 311.75h3.75v5.55h-3.75zM249.27 311.75h3.75v5.55h-3.75zM258.28 311.75h3.75v5.55h-3.75zM262.79 311.75h3.75v5.55h-3.75zM267.29 311.75h3.75v5.55h-3.75zM271.80 311.75h3.75v5.55h-3.75zM276.30 311.75h3.75v5.55h-3.75zM285.31 311.75h3.75v5.55h-3.75zM289.82 311.75h3.75v5.55h-3.75zM294.32 311.75h3.75v5.55h-3.75zM298.83 311.75h3.75v5.55h-3.75zM303.33 311.75h3.75v5.55h-3.75zM307.84 311.75h3.75v5.55h-3.75zM312.34 311.75h3.75v5.55h-3.75zM316.85 311.75h3.75v5.55h-3.75zM321.35 311.75h3.75v5.55h-3.75zM325.86 311.75h3.75v5.55h-3.75zM330.36 311.75h3.75v5.55h-3.75zM334.87 311.75h3.75v5.55h-3.75zM339.37 311.75h3.75v5.55h-3.75zM343.88 311.75h3.75v5.55h-3.75zM350.18 311.75h3.75v5.55h-3.75zM354.68 311.75h3.75v5.55h-3.75zM359.18 311.75h3.75v5.55h-3.75zM363.68 311.75h3.75v5.55h-3.75zM372.68 311.75h3.75v5.55h-3.75zM377.18 311.75h3.75v5.55h-3.75zM381.68 311.75h3.75v5.55h-3.75zM386.18 311.75h3.75v5.55h-3.75zM390.68 311.75h3.75v5.55h-3.75zM395.18 311.75h3.75v5.55h-3.75zM399.68 311.75h3.75v5.55h-3.75zM404.18 311.75h3.75v5.55h-3.75zM408.68 311.75h3.75v5.55h-3.75zM413.18 311.75h3.75v5.55h-3.75zM417.68 311.75h3.75v5.55h-3.75zM422.18 311.75h3.75v5.55h-3.75zM426.68 311.75h3.75v5.55h-3.75zM431.18 311.75h3.75v5.55h-3.75zM435.68 311.75h3.75v5.55h-3.75zM440.18 311.75h3.75v5.55h-3.75zM78.08 318.09h3.75v5.55h-3.75zM87.09 318.09h3.75v5.55h-3.75zM91.60 318.09h3.75v5.55h-3.75zM105.11 318.09h3.75v5.55h-3.75zM118.63 318.09h3.75v5.55h-3.75zM136.65 318.09h3.75v5.55h-3.75zM145.66 318.09h3.75v5.55h-3.75zM154.67 318.09h3.75v5.55h-3.75zM163.68 318.09h3.75v5.55h-3.75zM168.18 318.09h3.75v5.55h-3.75zM172.69 318.09h3.75v5.55h-3.75zM177.19 318.09h3.75v5.55h-3.75zM181.70 318.09h3.75v5.55h-3.75zM199.72 318.09h3.75v5.55h-3.75zM204.22 318.09h3.75v5.55h-3.75zM208.73 318.09h3.75v5.55h-3.75zM213.23 318.09h3.75v5.55h-3.75zM222.24 318.09h3.75v5.55h-3.75zM231.25 318.09h3.75v5.55h-3.75zM244.77 318.09h3.75v5.55h-3.75zM249.27 318.09h3.75v5.55h-3.75zM253.78 318.09h3.75v5.55h-3.75zM258.28 318.09h3.75v5.55h-3.75zM267.29 318.09h3.75v5.55h-3.75zM271.80 318.09h3.75v5.55h-3.75zM280.81 318.09h3.75v5.55h-3.75zM285.31 318.09h3.75v5.55h-3.75zM289.82 318.09h3.75v5.55h-3.75zM294.32 318.09h3.75v5.55h-3.75zM298.83 318.09h3.75v5.55h-3.75zM312.34 318.09h3.75v5.55h-3.75zM316.85 318.09h3.75v5.55h-3.75zM321.35 318.09h3.75v5.55h-3.75zM325.86 318.09h3.75v5.55h-3.75zM330.36 318.09h3.75v5.55h-3.75zM334.87 318.09h3.75v5.55h-3.75zM343.88 318.09h3.75v5.55h-3.75zM350.18 318.09h3.75v5.55h-3.75zM354.68 318.09h3.75v5.55h-3.75zM359.18 318.09h3.75v5.55h-3.75zM363.68 318.09h3.75v5.55h-3.75zM368.18 318.09h3.75v5.55h-3.75zM372.68 318.09h3.75v5.55h-3.75zM377.18 318.09h3.75v5.55h-3.75zM381.68 318.09h3.75v5.55h-3.75zM386.18 318.09h3.75v5.55h-3.75zM390.68 318.09h3.75v5.55h-3.75zM395.18 318.09h3.75v5.55h-3.75zM399.68 318.09h3.75v5.55h-3.75zM404.18 318.09h3.75v5.55h-3.75zM408.68 318.09h3.75v5.55h-3.75zM413.18 318.09h3.75v5.55h-3.75zM417.68 318.09h3.75v5.55h-3.75zM422.18 318.09h3.75v5.55h-3.75zM426.68 318.09h3.75v5.55h-3.75zM431.18 318.09h3.75v5.55h-3.75zM435.68 318.09h3.75v5.55h-3.75zM440.18 318.09h3.75v5.55h-3.75zM73.58 324.42h3.75v5.55h-3.75zM82.59 324.42h3.75v5.55h-3.75zM87.09 324.42h3.75v5.55h-3.75zM96.10 324.42h3.75v5.55h-3.75zM100.61 324.42h3.75v5.55h-3.75zM105.11 324.42h3.75v5.55h-3.75zM109.62 324.42h3.75v5.55h-3.75zM118.63 324.42h3.75v5.55h-3.75zM159.17 324.42h3.75v5.55h-3.75zM163.68 324.42h3.75v5.55h-3.75zM168.18 324.42h3.75v5.55h-3.75zM172.69 324.42h3.75v5.55h-3.75zM177.19 324.42h3.75v5.55h-3.75zM181.70 324.42h3.75v5.55h-3.75zM186.20 324.42h3.75v5.55h-3.75zM190.71 324.42h3.75v5.55h-3.75zM195.21 324.42h3.75v5.55h-3.75zM199.72 324.42h3.75v5.55h-3.75zM208.73 324.42h3.75v5.55h-3.75zM213.23 324.42h3.75v5.55h-3.75zM222.24 324.42h3.75v5.55h-3.75zM231.25 324.42h3.75v5.55h-3.75zM235.76 324.42h3.75v5.55h-3.75zM240.26 324.42h3.75v5.55h-3.75zM244.77 324.42h3.75v5.55h-3.75zM253.78 324.42h3.75v5.55h-3.75zM262.79 324.42h3.75v5.55h-3.75zM271.80 324.42h3.75v5.55h-3.75zM276.30 324.42h3.75v5.55h-3.75zM280.81 324.42h3.75v5.55h-3.75zM285.31 324.42h3.75v5.55h-3.75zM294.32 324.42h3.75v5.55h-3.75zM307.84 324.42h3.75v5.55h-3.75zM312.34 324.42h3.75v5.55h-3.75zM316.85 324.42h3.75v5.55h-3.75zM325.86 324.42h3.75v5.55h-3.75zM330.36 324.42h3.75v5.55h-3.75zM334.87 324.42h3.75v5.55h-3.75zM339.37 324.42h3.75v5.55h-3.75zM343.88 324.42h3.75v5.55h-3.75zM350.18 324.42h3.75v5.55h-3.75zM354.68 324.42h3.75v5.55h-3.75zM359.18 324.42h3.75v5.55h-3.75zM363.68 324.42h3.75v5.55h-3.75zM368.18 324.42h3.75v5.55h-3.75zM372.68 324.42h3.75v5.55h-3.75zM377.18 324.42h3.75v5.55h-3.75zM381.68 324.42h3.75v5.55h-3.75zM386.18 324.42h3.75v5.55h-3.75zM390.68 324.42h3.75v5.55h-3.75zM395.18 324.42h3.75v5.55h-3.75zM404.18 324.42h3.75v5.55h-3.75zM408.68 324.42h3.75v5.55h-3.75zM413.18 324.42h3.75v5.55h-3.75zM417.68 324.42h3.75v5.55h-3.75zM422.18 324.42h3.75v5.55h-3.75zM426.68 324.42h3.75v5.55h-3.75zM431.18 324.42h3.75v5.55h-3.75zM435.68 324.42h3.75v5.55h-3.75zM440.18 324.42h3.75v5.55h-3.75zM73.58 330.75h3.75v5.55h-3.75zM82.59 330.75h3.75v5.55h-3.75zM91.60 330.75h3.75v5.55h-3.75zM96.10 330.75h3.75v5.55h-3.75zM100.61 330.75h3.75v5.55h-3.75zM114.12 330.75h3.75v5.55h-3.75zM118.63 330.75h3.75v5.55h-3.75zM123.13 330.75h3.75v5.55h-3.75zM127.64 330.75h3.75v5.55h-3.75zM132.14 330.75h3.75v5.55h-3.75zM136.65 330.75h3.75v5.55h-3.75zM141.15 330.75h3.75v5.55h-3.75zM145.66 330.75h3.75v5.55h-3.75zM154.67 330.75h3.75v5.55h-3.75zM159.17 330.75h3.75v5.55h-3.75zM163.68 330.75h3.75v5.55h-3.75zM172.69 330.75h3.75v5.55h-3.75zM186.20 330.75h3.75v5.55h-3.75zM190.71 330.75h3.75v5.55h-3.75zM195.21 330.75h3.75v5.55h-3.75zM199.72 330.75h3.75v5.55h-3.75zM204.22 330.75h3.75v5.55h-3.75zM213.23 330.75h3.75v5.55h-3.75zM217.74 330.75h3.75v5.55h-3.75zM222.24 330.75h3.75v5.55h-3.75zM235.76 330.75h3.75v5.55h-3.75zM244.77 330.75h3.75v5.55h-3.75zM249.27 330.75h3.75v5.55h-3.75zM253.78 330.75h3.75v5.55h-3.75zM258.28 330.75h3.75v5.55h-3.75zM262.79 330.75h3.75v5.55h-3.75zM267.29 330.75h3.75v5.55h-3.75zM280.81 330.75h3.75v5.55h-3.75zM285.31 330.75h3.75v5.55h-3.75zM289.82 330.75h3.75v5.55h-3.75zM294.32 330.75h3.75v5.55h-3.75zM298.83 330.75h3.75v5.55h-3.75zM303.33 330.75h3.75v5.55h-3.75zM307.84 330.75h3.75v5.55h-3.75zM312.34 330.75h3.75v5.55h-3.75zM316.85 330.75h3.75v5.55h-3.75zM321.35 330.75h3.75v5.55h-3.75zM325.86 330.75h3.75v5.55h-3.75zM330.36 330.75h3.75v5.55h-3.75zM334.87 330.75h3.75v5.55h-3.75zM339.37 330.75h3.75v5.55h-3.75zM343.88 330.75h3.75v5.55h-3.75zM354.68 330.75h3.75v5.55h-3.75zM359.18 330.75h3.75v5.55h-3.75zM363.68 330.75h3.75v5.55h-3.75zM368.18 330.75h3.75v5.55h-3.75zM372.68 330.75h3.75v5.55h-3.75zM377.18 330.75h3.75v5.55h-3.75zM381.68 330.75h3.75v5.55h-3.75zM386.18 330.75h3.75v5.55h-3.75zM390.68 330.75h3.75v5.55h-3.75zM395.18 330.75h3.75v5.55h-3.75zM399.68 330.75h3.75v5.55h-3.75zM404.18 330.75h3.75v5.55h-3.75zM408.68 330.75h3.75v5.55h-3.75zM413.18 330.75h3.75v5.55h-3.75zM417.68 330.75h3.75v5.55h-3.75zM422.18 330.75h3.75v5.55h-3.75zM426.68 330.75h3.75v5.55h-3.75zM431.18 330.75h3.75v5.55h-3.75zM435.68 330.75h3.75v5.55h-3.75zM440.18 330.75h3.75v5.55h-3.75zM73.58 337.07h3.75v5.55h-3.75zM78.08 337.07h3.75v5.55h-3.75zM82.59 337.07h3.75v5.55h-3.75zM87.09 337.07h3.75v5.55h-3.75zM91.60 337.07h3.75v5.55h-3.75zM96.10 337.07h3.75v5.55h-3.75zM100.61 337.07h3.75v5.55h-3.75zM105.11 337.07h3.75v5.55h-3.75zM109.62 337.07h3.75v5.55h-3.75zM118.63 337.07h3.75v5.55h-3.75zM123.13 337.07h3.75v5.55h-3.75zM127.64 337.07h3.75v5.55h-3.75zM136.65 337.07h3.75v5.55h-3.75zM141.15 337.07h3.75v5.55h-3.75zM150.16 337.07h3.75v5.55h-3.75zM154.67 337.07h3.75v5.55h-3.75zM159.17 337.07h3.75v5.55h-3.75zM163.68 337.07h3.75v5.55h-3.75zM168.18 337.07h3.75v5.55h-3.75zM172.69 337.07h3.75v5.55h-3.75zM177.19 337.07h3.75v5.55h-3.75zM186.20 337.07h3.75v5.55h-3.75zM190.71 337.07h3.75v5.55h-3.75zM204.22 337.07h3.75v5.55h-3.75zM213.23 337.07h3.75v5.55h-3.75zM217.74 337.07h3.75v5.55h-3.75zM226.75 337.07h3.75v5.55h-3.75zM231.25 337.07h3.75v5.55h-3.75zM235.76 337.07h3.75v5.55h-3.75zM240.26 337.07h3.75v5.55h-3.75zM244.77 337.07h3.75v5.55h-3.75zM258.28 337.07h3.75v5.55h-3.75zM262.79 337.07h3.75v5.55h-3.75zM271.80 337.07h3.75v5.55h-3.75zM276.30 337.07h3.75v5.55h-3.75zM285.31 337.07h3.75v5.55h-3.75zM289.82 337.07h3.75v5.55h-3.75zM294.32 337.07h3.75v5.55h-3.75zM298.83 337.07h3.75v5.55h-3.75zM303.33 337.07h3.75v5.55h-3.75zM307.84 337.07h3.75v5.55h-3.75zM312.34 337.07h3.75v5.55h-3.75zM316.85 337.07h3.75v5.55h-3.75zM321.35 337.07h3.75v5.55h-3.75zM325.86 337.07h3.75v5.55h-3.75zM330.36 337.07h3.75v5.55h-3.75zM334.87 337.07h3.75v5.55h-3.75zM339.37 337.07h3.75v5.55h-3.75zM343.88 337.07h3.75v5.55h-3.75zM350.18 337.07h3.75v5.55h-3.75zM354.68 337.07h3.75v5.55h-3.75zM359.18 337.07h3.75v5.55h-3.75zM363.68 337.07h3.75v5.55h-3.75zM368.18 337.07h3.75v5.55h-3.75zM372.68 337.07h3.75v5.55h-3.75zM377.18 337.07h3.75v5.55h-3.75zM381.68 337.07h3.75v5.55h-3.75zM386.18 337.07h3.75v5.55h-3.75zM390.68 337.07h3.75v5.55h-3.75zM395.18 337.07h3.75v5.55h-3.75zM399.68 337.07h3.75v5.55h-3.75zM404.18 337.07h3.75v5.55h-3.75zM408.68 337.07h3.75v5.55h-3.75zM413.18 337.07h3.75v5.55h-3.75zM417.68 337.07h3.75v5.55h-3.75zM422.18 337.07h3.75v5.55h-3.75zM426.68 337.07h3.75v5.55h-3.75zM431.18 337.07h3.75v5.55h-3.75zM435.68 337.07h3.75v5.55h-3.75zM440.18 337.07h3.75v5.55h-3.75zM82.59 343.41h3.75v5.55h-3.75zM91.60 343.41h3.75v5.55h-3.75zM96.10 343.41h3.75v5.55h-3.75zM100.61 343.41h3.75v5.55h-3.75zM105.11 343.41h3.75v5.55h-3.75zM109.62 343.41h3.75v5.55h-3.75zM114.12 343.41h3.75v5.55h-3.75zM123.13 343.41h3.75v5.55h-3.75zM132.14 343.41h3.75v5.55h-3.75zM141.15 343.41h3.75v5.55h-3.75zM145.66 343.41h3.75v5.55h-3.75zM150.16 343.41h3.75v5.55h-3.75zM154.67 343.41h3.75v5.55h-3.75zM159.17 343.41h3.75v5.55h-3.75zM163.68 343.41h3.75v5.55h-3.75zM172.69 343.41h3.75v5.55h-3.75zM177.19 343.41h3.75v5.55h-3.75zM181.70 343.41h3.75v5.55h-3.75zM186.20 343.41h3.75v5.55h-3.75zM190.71 343.41h3.75v5.55h-3.75zM195.21 343.41h3.75v5.55h-3.75zM199.72 343.41h3.75v5.55h-3.75zM208.73 343.41h3.75v5.55h-3.75zM213.23 343.41h3.75v5.55h-3.75zM222.24 343.41h3.75v5.55h-3.75zM226.75 343.41h3.75v5.55h-3.75zM231.25 343.41h3.75v5.55h-3.75zM235.76 343.41h3.75v5.55h-3.75zM240.26 343.41h3.75v5.55h-3.75zM244.77 343.41h3.75v5.55h-3.75zM249.27 343.41h3.75v5.55h-3.75zM258.28 343.41h3.75v5.55h-3.75zM262.79 343.41h3.75v5.55h-3.75zM267.29 343.41h3.75v5.55h-3.75zM271.80 343.41h3.75v5.55h-3.75zM276.30 343.41h3.75v5.55h-3.75zM280.81 343.41h3.75v5.55h-3.75zM285.31 343.41h3.75v5.55h-3.75zM289.82 343.41h3.75v5.55h-3.75zM294.32 343.41h3.75v5.55h-3.75zM298.83 343.41h3.75v5.55h-3.75zM303.33 343.41h3.75v5.55h-3.75zM307.84 343.41h3.75v5.55h-3.75zM312.34 343.41h3.75v5.55h-3.75zM316.85 343.41h3.75v5.55h-3.75zM321.35 343.41h3.75v5.55h-3.75zM325.86 343.41h3.75v5.55h-3.75zM330.36 343.41h3.75v5.55h-3.75zM334.87 343.41h3.75v5.55h-3.75zM339.37 343.41h3.75v5.55h-3.75zM343.88 343.41h3.75v5.55h-3.75zM354.68 343.41h3.75v5.55h-3.75zM359.18 343.41h3.75v5.55h-3.75zM368.18 343.41h3.75v5.55h-3.75zM372.68 343.41h3.75v5.55h-3.75zM377.18 343.41h3.75v5.55h-3.75zM381.68 343.41h3.75v5.55h-3.75zM386.18 343.41h3.75v5.55h-3.75zM390.68 343.41h3.75v5.55h-3.75zM395.18 343.41h3.75v5.55h-3.75zM399.68 343.41h3.75v5.55h-3.75zM404.18 343.41h3.75v5.55h-3.75zM408.68 343.41h3.75v5.55h-3.75zM413.18 343.41h3.75v5.55h-3.75zM417.68 343.41h3.75v5.55h-3.75zM422.18 343.41h3.75v5.55h-3.75zM426.68 343.41h3.75v5.55h-3.75zM431.18 343.41h3.75v5.55h-3.75zM435.68 343.41h3.75v5.55h-3.75zM440.18 343.41h3.75v5.55h-3.75zM73.58 349.74h3.75v5.55h-3.75zM78.08 349.74h3.75v5.55h-3.75zM82.59 349.74h3.75v5.55h-3.75zM100.61 349.74h3.75v5.55h-3.75zM105.11 349.74h3.75v5.55h-3.75zM114.12 349.74h3.75v5.55h-3.75zM123.13 349.74h3.75v5.55h-3.75zM127.64 349.74h3.75v5.55h-3.75zM132.14 349.74h3.75v5.55h-3.75zM150.16 349.74h3.75v5.55h-3.75zM163.68 349.74h3.75v5.55h-3.75zM168.18 349.74h3.75v5.55h-3.75zM172.69 349.74h3.75v5.55h-3.75zM177.19 349.74h3.75v5.55h-3.75zM181.70 349.74h3.75v5.55h-3.75zM186.20 349.74h3.75v5.55h-3.75zM190.71 349.74h3.75v5.55h-3.75zM195.21 349.74h3.75v5.55h-3.75zM199.72 349.74h3.75v5.55h-3.75zM204.22 349.74h3.75v5.55h-3.75zM208.73 349.74h3.75v5.55h-3.75zM213.23 349.74h3.75v5.55h-3.75zM217.74 349.74h3.75v5.55h-3.75zM222.24 349.74h3.75v5.55h-3.75zM226.75 349.74h3.75v5.55h-3.75zM231.25 349.74h3.75v5.55h-3.75zM235.76 349.74h3.75v5.55h-3.75zM240.26 349.74h3.75v5.55h-3.75zM244.77 349.74h3.75v5.55h-3.75zM249.27 349.74h3.75v5.55h-3.75zM253.78 349.74h3.75v5.55h-3.75zM258.28 349.74h3.75v5.55h-3.75zM262.79 349.74h3.75v5.55h-3.75zM267.29 349.74h3.75v5.55h-3.75zM271.80 349.74h3.75v5.55h-3.75zM276.30 349.74h3.75v5.55h-3.75zM280.81 349.74h3.75v5.55h-3.75zM285.31 349.74h3.75v5.55h-3.75zM289.82 349.74h3.75v5.55h-3.75zM294.32 349.74h3.75v5.55h-3.75zM298.83 349.74h3.75v5.55h-3.75zM303.33 349.74h3.75v5.55h-3.75zM307.84 349.74h3.75v5.55h-3.75zM312.34 349.74h3.75v5.55h-3.75zM316.85 349.74h3.75v5.55h-3.75zM321.35 349.74h3.75v5.55h-3.75zM330.36 349.74h3.75v5.55h-3.75zM339.37 349.74h3.75v5.55h-3.75zM343.88 349.74h3.75v5.55h-3.75zM350.18 349.74h3.75v5.55h-3.75zM354.68 349.74h3.75v5.55h-3.75zM359.18 349.74h3.75v5.55h-3.75zM363.68 349.74h3.75v5.55h-3.75zM368.18 349.74h3.75v5.55h-3.75zM372.68 349.74h3.75v5.55h-3.75zM377.18 349.74h3.75v5.55h-3.75zM381.68 349.74h3.75v5.55h-3.75zM386.18 349.74h3.75v5.55h-3.75zM390.68 349.74h3.75v5.55h-3.75zM395.18 349.74h3.75v5.55h-3.75zM399.68 349.74h3.75v5.55h-3.75zM404.18 349.74h3.75v5.55h-3.75zM408.68 349.74h3.75v5.55h-3.75zM413.18 349.74h3.75v5.55h-3.75zM417.68 349.74h3.75v5.55h-3.75zM422.18 349.74h3.75v5.55h-3.75zM426.68 349.74h3.75v5.55h-3.75zM431.18 349.74h3.75v5.55h-3.75zM435.68 349.74h3.75v5.55h-3.75zM440.18 349.74h3.75v5.55h-3.75zM73.58 356.06h3.75v5.55h-3.75zM78.08 356.06h3.75v5.55h-3.75zM87.09 356.06h3.75v5.55h-3.75zM91.60 356.06h3.75v5.55h-3.75zM109.62 356.06h3.75v5.55h-3.75zM114.12 356.06h3.75v5.55h-3.75zM118.63 356.06h3.75v5.55h-3.75zM123.13 356.06h3.75v5.55h-3.75zM136.65 356.06h3.75v5.55h-3.75zM141.15 356.06h3.75v5.55h-3.75zM150.16 356.06h3.75v5.55h-3.75zM159.17 356.06h3.75v5.55h-3.75zM163.68 356.06h3.75v5.55h-3.75zM168.18 356.06h3.75v5.55h-3.75zM177.19 356.06h3.75v5.55h-3.75zM181.70 356.06h3.75v5.55h-3.75zM186.20 356.06h3.75v5.55h-3.75zM190.71 356.06h3.75v5.55h-3.75zM199.72 356.06h3.75v5.55h-3.75zM204.22 356.06h3.75v5.55h-3.75zM208.73 356.06h3.75v5.55h-3.75zM213.23 356.06h3.75v5.55h-3.75zM217.74 356.06h3.75v5.55h-3.75zM222.24 356.06h3.75v5.55h-3.75zM226.75 356.06h3.75v5.55h-3.75zM231.25 356.06h3.75v5.55h-3.75zM235.76 356.06h3.75v5.55h-3.75zM240.26 356.06h3.75v5.55h-3.75zM244.77 356.06h3.75v5.55h-3.75zM249.27 356.06h3.75v5.55h-3.75zM253.78 356.06h3.75v5.55h-3.75zM262.79 356.06h3.75v5.55h-3.75zM267.29 356.06h3.75v5.55h-3.75zM271.80 356.06h3.75v5.55h-3.75zM276.30 356.06h3.75v5.55h-3.75zM280.81 356.06h3.75v5.55h-3.75zM289.82 356.06h3.75v5.55h-3.75zM294.32 356.06h3.75v5.55h-3.75zM298.83 356.06h3.75v5.55h-3.75zM303.33 356.06h3.75v5.55h-3.75zM307.84 356.06h3.75v5.55h-3.75zM312.34 356.06h3.75v5.55h-3.75zM316.85 356.06h3.75v5.55h-3.75zM321.35 356.06h3.75v5.55h-3.75zM325.86 356.06h3.75v5.55h-3.75zM330.36 356.06h3.75v5.55h-3.75zM334.87 356.06h3.75v5.55h-3.75zM339.37 356.06h3.75v5.55h-3.75zM343.88 356.06h3.75v5.55h-3.75zM350.18 356.06h3.75v5.55h-3.75zM354.68 356.06h3.75v5.55h-3.75zM359.18 356.06h3.75v5.55h-3.75zM363.68 356.06h3.75v5.55h-3.75zM368.18 356.06h3.75v5.55h-3.75zM372.68 356.06h3.75v5.55h-3.75zM377.18 356.06h3.75v5.55h-3.75zM381.68 356.06h3.75v5.55h-3.75zM386.18 356.06h3.75v5.55h-3.75zM390.68 356.06h3.75v5.55h-3.75zM395.18 356.06h3.75v5.55h-3.75zM399.68 356.06h3.75v5.55h-3.75zM404.18 356.06h3.75v5.55h-3.75zM408.68 356.06h3.75v5.55h-3.75zM413.18 356.06h3.75v5.55h-3.75zM417.68 356.06h3.75v5.55h-3.75zM422.18 356.06h3.75v5.55h-3.75zM426.68 356.06h3.75v5.55h-3.75zM431.18 356.06h3.75v5.55h-3.75zM435.68 356.06h3.75v5.55h-3.75zM440.18 356.06h3.75v5.55h-3.75zM78.08 362.39h3.75v5.55h-3.75zM87.09 362.39h3.75v5.55h-3.75zM105.11 362.39h3.75v5.55h-3.75zM109.62 362.39h3.75v5.55h-3.75zM114.12 362.39h3.75v5.55h-3.75zM123.13 362.39h3.75v5.55h-3.75zM127.64 362.39h3.75v5.55h-3.75zM141.15 362.39h3.75v5.55h-3.75zM145.66 362.39h3.75v5.55h-3.75zM154.67 362.39h3.75v5.55h-3.75zM159.17 362.39h3.75v5.55h-3.75zM163.68 362.39h3.75v5.55h-3.75zM168.18 362.39h3.75v5.55h-3.75zM172.69 362.39h3.75v5.55h-3.75zM177.19 362.39h3.75v5.55h-3.75zM181.70 362.39h3.75v5.55h-3.75zM186.20 362.39h3.75v5.55h-3.75zM190.71 362.39h3.75v5.55h-3.75zM195.21 362.39h3.75v5.55h-3.75zM199.72 362.39h3.75v5.55h-3.75zM204.22 362.39h3.75v5.55h-3.75zM208.73 362.39h3.75v5.55h-3.75zM213.23 362.39h3.75v5.55h-3.75zM217.74 362.39h3.75v5.55h-3.75zM222.24 362.39h3.75v5.55h-3.75zM226.75 362.39h3.75v5.55h-3.75zM231.25 362.39h3.75v5.55h-3.75zM235.76 362.39h3.75v5.55h-3.75zM240.26 362.39h3.75v5.55h-3.75zM244.77 362.39h3.75v5.55h-3.75zM249.27 362.39h3.75v5.55h-3.75zM253.78 362.39h3.75v5.55h-3.75zM262.79 362.39h3.75v5.55h-3.75zM267.29 362.39h3.75v5.55h-3.75zM276.30 362.39h3.75v5.55h-3.75zM280.81 362.39h3.75v5.55h-3.75zM285.31 362.39h3.75v5.55h-3.75zM289.82 362.39h3.75v5.55h-3.75zM294.32 362.39h3.75v5.55h-3.75zM298.83 362.39h3.75v5.55h-3.75zM303.33 362.39h3.75v5.55h-3.75zM307.84 362.39h3.75v5.55h-3.75zM312.34 362.39h3.75v5.55h-3.75zM316.85 362.39h3.75v5.55h-3.75zM321.35 362.39h3.75v5.55h-3.75zM325.86 362.39h3.75v5.55h-3.75zM330.36 362.39h3.75v5.55h-3.75zM334.87 362.39h3.75v5.55h-3.75zM339.37 362.39h3.75v5.55h-3.75zM343.88 362.39h3.75v5.55h-3.75zM350.18 362.39h3.75v5.55h-3.75zM354.68 362.39h3.75v5.55h-3.75zM359.18 362.39h3.75v5.55h-3.75zM363.68 362.39h3.75v5.55h-3.75zM368.18 362.39h3.75v5.55h-3.75zM372.68 362.39h3.75v5.55h-3.75zM377.18 362.39h3.75v5.55h-3.75zM381.68 362.39h3.75v5.55h-3.75zM386.18 362.39h3.75v5.55h-3.75zM390.68 362.39h3.75v5.55h-3.75zM395.18 362.39h3.75v5.55h-3.75zM399.68 362.39h3.75v5.55h-3.75zM404.18 362.39h3.75v5.55h-3.75zM408.68 362.39h3.75v5.55h-3.75zM413.18 362.39h3.75v5.55h-3.75zM417.68 362.39h3.75v5.55h-3.75zM422.18 362.39h3.75v5.55h-3.75zM426.68 362.39h3.75v5.55h-3.75zM431.18 362.39h3.75v5.55h-3.75zM435.68 362.39h3.75v5.55h-3.75zM440.18 362.39h3.75v5.55h-3.75zM73.58 368.73h3.75v5.55h-3.75zM87.09 368.73h3.75v5.55h-3.75zM96.10 368.73h3.75v5.55h-3.75zM100.61 368.73h3.75v5.55h-3.75zM105.11 368.73h3.75v5.55h-3.75zM118.63 368.73h3.75v5.55h-3.75zM123.13 368.73h3.75v5.55h-3.75zM127.64 368.73h3.75v5.55h-3.75zM141.15 368.73h3.75v5.55h-3.75zM145.66 368.73h3.75v5.55h-3.75zM150.16 368.73h3.75v5.55h-3.75zM154.67 368.73h3.75v5.55h-3.75zM159.17 368.73h3.75v5.55h-3.75zM163.68 368.73h3.75v5.55h-3.75zM168.18 368.73h3.75v5.55h-3.75zM172.69 368.73h3.75v5.55h-3.75zM177.19 368.73h3.75v5.55h-3.75zM181.70 368.73h3.75v5.55h-3.75zM186.20 368.73h3.75v5.55h-3.75zM190.71 368.73h3.75v5.55h-3.75zM195.21 368.73h3.75v5.55h-3.75zM199.72 368.73h3.75v5.55h-3.75zM204.22 368.73h3.75v5.55h-3.75zM208.73 368.73h3.75v5.55h-3.75zM213.23 368.73h3.75v5.55h-3.75zM217.74 368.73h3.75v5.55h-3.75zM222.24 368.73h3.75v5.55h-3.75zM226.75 368.73h3.75v5.55h-3.75zM231.25 368.73h3.75v5.55h-3.75zM235.76 368.73h3.75v5.55h-3.75zM240.26 368.73h3.75v5.55h-3.75zM244.77 368.73h3.75v5.55h-3.75zM249.27 368.73h3.75v5.55h-3.75zM253.78 368.73h3.75v5.55h-3.75zM258.28 368.73h3.75v5.55h-3.75zM262.79 368.73h3.75v5.55h-3.75zM267.29 368.73h3.75v5.55h-3.75zM271.80 368.73h3.75v5.55h-3.75zM276.30 368.73h3.75v5.55h-3.75zM280.81 368.73h3.75v5.55h-3.75zM285.31 368.73h3.75v5.55h-3.75zM289.82 368.73h3.75v5.55h-3.75zM294.32 368.73h3.75v5.55h-3.75zM298.83 368.73h3.75v5.55h-3.75zM303.33 368.73h3.75v5.55h-3.75zM307.84 368.73h3.75v5.55h-3.75zM312.34 368.73h3.75v5.55h-3.75zM316.85 368.73h3.75v5.55h-3.75zM321.35 368.73h3.75v5.55h-3.75zM325.86 368.73h3.75v5.55h-3.75zM330.36 368.73h3.75v5.55h-3.75zM334.87 368.73h3.75v5.55h-3.75zM339.37 368.73h3.75v5.55h-3.75zM343.88 368.73h3.75v5.55h-3.75zM350.18 368.73h3.75v5.55h-3.75zM354.68 368.73h3.75v5.55h-3.75zM359.18 368.73h3.75v5.55h-3.75zM363.68 368.73h3.75v5.55h-3.75zM368.18 368.73h3.75v5.55h-3.75zM372.68 368.73h3.75v5.55h-3.75zM377.18 368.73h3.75v5.55h-3.75zM381.68 368.73h3.75v5.55h-3.75zM386.18 368.73h3.75v5.55h-3.75zM390.68 368.73h3.75v5.55h-3.75zM395.18 368.73h3.75v5.55h-3.75zM399.68 368.73h3.75v5.55h-3.75zM404.18 368.73h3.75v5.55h-3.75zM408.68 368.73h3.75v5.55h-3.75zM413.18 368.73h3.75v5.55h-3.75zM417.68 368.73h3.75v5.55h-3.75zM422.18 368.73h3.75v5.55h-3.75zM426.68 368.73h3.75v5.55h-3.75zM431.18 368.73h3.75v5.55h-3.75zM435.68 368.73h3.75v5.55h-3.75zM440.18 368.73h3.75v5.55h-3.75zM73.58 375.06h3.75v5.55h-3.75zM78.08 375.06h3.75v5.55h-3.75zM82.59 375.06h3.75v5.55h-3.75zM87.09 375.06h3.75v5.55h-3.75zM91.60 375.06h3.75v5.55h-3.75zM96.10 375.06h3.75v5.55h-3.75zM100.61 375.06h3.75v5.55h-3.75zM105.11 375.06h3.75v5.55h-3.75zM109.62 375.06h3.75v5.55h-3.75zM118.63 375.06h3.75v5.55h-3.75zM123.13 375.06h3.75v5.55h-3.75zM132.14 375.06h3.75v5.55h-3.75zM136.65 375.06h3.75v5.55h-3.75zM141.15 375.06h3.75v5.55h-3.75zM145.66 375.06h3.75v5.55h-3.75zM150.16 375.06h3.75v5.55h-3.75zM154.67 375.06h3.75v5.55h-3.75zM159.17 375.06h3.75v5.55h-3.75zM163.68 375.06h3.75v5.55h-3.75zM168.18 375.06h3.75v5.55h-3.75zM172.69 375.06h3.75v5.55h-3.75zM181.70 375.06h3.75v5.55h-3.75zM186.20 375.06h3.75v5.55h-3.75zM190.71 375.06h3.75v5.55h-3.75zM195.21 375.06h3.75v5.55h-3.75zM199.72 375.06h3.75v5.55h-3.75zM204.22 375.06h3.75v5.55h-3.75zM208.73 375.06h3.75v5.55h-3.75zM213.23 375.06h3.75v5.55h-3.75zM217.74 375.06h3.75v5.55h-3.75zM222.24 375.06h3.75v5.55h-3.75zM226.75 375.06h3.75v5.55h-3.75zM231.25 375.06h3.75v5.55h-3.75zM235.76 375.06h3.75v5.55h-3.75zM240.26 375.06h3.75v5.55h-3.75zM249.27 375.06h3.75v5.55h-3.75zM253.78 375.06h3.75v5.55h-3.75zM258.28 375.06h3.75v5.55h-3.75zM262.79 375.06h3.75v5.55h-3.75zM267.29 375.06h3.75v5.55h-3.75zM271.80 375.06h3.75v5.55h-3.75zM276.30 375.06h3.75v5.55h-3.75zM280.81 375.06h3.75v5.55h-3.75zM285.31 375.06h3.75v5.55h-3.75zM289.82 375.06h3.75v5.55h-3.75zM294.32 375.06h3.75v5.55h-3.75zM298.83 375.06h3.75v5.55h-3.75zM303.33 375.06h3.75v5.55h-3.75zM307.84 375.06h3.75v5.55h-3.75zM312.34 375.06h3.75v5.55h-3.75zM316.85 375.06h3.75v5.55h-3.75zM321.35 375.06h3.75v5.55h-3.75zM325.86 375.06h3.75v5.55h-3.75zM330.36 375.06h3.75v5.55h-3.75zM334.87 375.06h3.75v5.55h-3.75zM343.88 375.06h3.75v5.55h-3.75zM350.18 375.06h3.75v5.55h-3.75zM354.68 375.06h3.75v5.55h-3.75zM359.18 375.06h3.75v5.55h-3.75zM363.68 375.06h3.75v5.55h-3.75zM368.18 375.06h3.75v5.55h-3.75zM372.68 375.06h3.75v5.55h-3.75zM377.18 375.06h3.75v5.55h-3.75zM381.68 375.06h3.75v5.55h-3.75zM386.18 375.06h3.75v5.55h-3.75zM395.18 375.06h3.75v5.55h-3.75zM399.68 375.06h3.75v5.55h-3.75zM404.18 375.06h3.75v5.55h-3.75zM408.68 375.06h3.75v5.55h-3.75zM413.18 375.06h3.75v5.55h-3.75zM417.68 375.06h3.75v5.55h-3.75zM422.18 375.06h3.75v5.55h-3.75zM426.68 375.06h3.75v5.55h-3.75zM431.18 375.06h3.75v5.55h-3.75zM435.68 375.06h3.75v5.55h-3.75zM440.18 375.06h3.75v5.55h-3.75zM73.58 381.38h3.75v5.55h-3.75zM78.08 381.38h3.75v5.55h-3.75zM87.09 381.38h3.75v5.55h-3.75zM91.60 381.38h3.75v5.55h-3.75zM96.10 381.38h3.75v5.55h-3.75zM100.61 381.38h3.75v5.55h-3.75zM105.11 381.38h3.75v5.55h-3.75zM109.62 381.38h3.75v5.55h-3.75zM114.12 381.38h3.75v5.55h-3.75zM118.63 381.38h3.75v5.55h-3.75zM127.64 381.38h3.75v5.55h-3.75zM136.65 381.38h3.75v5.55h-3.75zM141.15 381.38h3.75v5.55h-3.75zM145.66 381.38h3.75v5.55h-3.75zM154.67 381.38h3.75v5.55h-3.75zM159.17 381.38h3.75v5.55h-3.75zM163.68 381.38h3.75v5.55h-3.75zM168.18 381.38h3.75v5.55h-3.75zM172.69 381.38h3.75v5.55h-3.75zM177.19 381.38h3.75v5.55h-3.75zM181.70 381.38h3.75v5.55h-3.75zM186.20 381.38h3.75v5.55h-3.75zM195.21 381.38h3.75v5.55h-3.75zM199.72 381.38h3.75v5.55h-3.75zM204.22 381.38h3.75v5.55h-3.75zM208.73 381.38h3.75v5.55h-3.75zM213.23 381.38h3.75v5.55h-3.75zM217.74 381.38h3.75v5.55h-3.75zM222.24 381.38h3.75v5.55h-3.75zM226.75 381.38h3.75v5.55h-3.75zM231.25 381.38h3.75v5.55h-3.75zM235.76 381.38h3.75v5.55h-3.75zM240.26 381.38h3.75v5.55h-3.75zM244.77 381.38h3.75v5.55h-3.75zM249.27 381.38h3.75v5.55h-3.75zM253.78 381.38h3.75v5.55h-3.75zM258.28 381.38h3.75v5.55h-3.75zM262.79 381.38h3.75v5.55h-3.75zM267.29 381.38h3.75v5.55h-3.75zM271.80 381.38h3.75v5.55h-3.75zM276.30 381.38h3.75v5.55h-3.75zM280.81 381.38h3.75v5.55h-3.75zM285.31 381.38h3.75v5.55h-3.75zM289.82 381.38h3.75v5.55h-3.75zM294.32 381.38h3.75v5.55h-3.75zM298.83 381.38h3.75v5.55h-3.75zM303.33 381.38h3.75v5.55h-3.75zM307.84 381.38h3.75v5.55h-3.75zM312.34 381.38h3.75v5.55h-3.75zM316.85 381.38h3.75v5.55h-3.75zM321.35 381.38h3.75v5.55h-3.75zM325.86 381.38h3.75v5.55h-3.75zM330.36 381.38h3.75v5.55h-3.75zM334.87 381.38h3.75v5.55h-3.75zM339.37 381.38h3.75v5.55h-3.75zM343.88 381.38h3.75v5.55h-3.75zM350.18 381.38h3.75v5.55h-3.75zM354.68 381.38h3.75v5.55h-3.75zM359.18 381.38h3.75v5.55h-3.75zM363.68 381.38h3.75v5.55h-3.75zM368.18 381.38h3.75v5.55h-3.75zM372.68 381.38h3.75v5.55h-3.75zM377.18 381.38h3.75v5.55h-3.75zM381.68 381.38h3.75v5.55h-3.75zM386.18 381.38h3.75v5.55h-3.75zM390.68 381.38h3.75v5.55h-3.75zM395.18 381.38h3.75v5.55h-3.75zM399.68 381.38h3.75v5.55h-3.75zM404.18 381.38h3.75v5.55h-3.75zM408.68 381.38h3.75v5.55h-3.75zM413.18 381.38h3.75v5.55h-3.75zM417.68 381.38h3.75v5.55h-3.75zM422.18 381.38h3.75v5.55h-3.75zM426.68 381.38h3.75v5.55h-3.75zM431.18 381.38h3.75v5.55h-3.75zM435.68 381.38h3.75v5.55h-3.75zM440.18 381.38h3.75v5.55h-3.75z"/>
<path fill="#8a0c10" d="M100.61 124.05h3.75v5.55h-3.75zM82.59 136.72h3.75v5.55h-3.75zM87.09 136.72h3.75v5.55h-3.75zM109.62 136.72h3.75v5.55h-3.75zM114.12 136.72h3.75v5.55h-3.75zM141.15 136.72h3.75v5.55h-3.75zM150.16 136.72h3.75v5.55h-3.75zM163.68 136.72h3.75v5.55h-3.75zM168.18 136.72h3.75v5.55h-3.75zM181.70 136.72h3.75v5.55h-3.75zM258.28 136.72h3.75v5.55h-3.75zM150.16 381.38h3.75v5.55h-3.75z"/>
<path fill="#9dc34c" d="M258.28 124.05h3.75v2.42h-3.75zM73.58 130.38h3.75v5.55h-3.75zM105.11 130.38h3.75v5.55h-3.75zM132.14 130.38h3.75v5.55h-3.75zM330.36 130.38h3.75v5.55h-3.75zM350.18 130.38h3.75v5.55h-3.75zM354.68 130.38h3.75v5.55h-3.75zM381.68 130.38h3.75v5.55h-3.75zM109.62 143.04h3.75v2.42h-3.75zM381.68 217.82h3.75v5.55h-3.75zM118.63 248.75h3.75v2.42h-3.75zM289.82 245.62h3.75v5.55h-3.75zM368.18 248.75h3.75v2.42h-3.75zM78.08 277.93h3.75v5.55h-3.75zM127.64 296.92h3.75v2.42h-3.75zM163.68 296.92h3.75v2.42h-3.75z"/>
<path fill="#5b8bd2" d="M87.09 130.38h3.75v5.55h-3.75zM96.10 130.38h3.75v5.55h-3.75zM177.19 130.38h3.75v5.55h-3.75zM199.72 130.38h3.75v5.55h-3.75zM235.76 130.38h3.75v5.55h-3.75zM253.78 130.38h3.75v5.55h-3.75zM262.79 130.38h3.75v5.55h-3.75zM316.85 130.38h3.75v5.55h-3.75zM73.58 143.04h3.75v5.55h-3.75zM78.08 143.04h3.75v5.55h-3.75zM91.60 143.04h3.75v5.55h-3.75zM100.61 143.04h3.75v5.55h-3.75zM109.62 146.17h3.75v2.42h-3.75zM118.63 143.04h3.75v5.55h-3.75zM141.15 143.04h3.75v5.55h-3.75zM204.22 143.04h3.75v5.55h-3.75zM231.25 143.04h3.75v5.55h-3.75zM350.18 143.04h3.75v5.55h-3.75zM368.18 143.04h3.75v5.55h-3.75zM78.08 155.71h3.75v5.55h-3.75zM96.10 155.71h3.75v5.55h-3.75zM118.63 155.71h3.75v5.55h-3.75zM136.65 155.71h3.75v5.55h-3.75zM186.20 155.71h3.75v5.55h-3.75zM82.59 162.03h3.75v5.55h-3.75zM87.09 162.03h3.75v5.55h-3.75zM213.23 162.03h3.75v5.55h-3.75zM316.85 162.03h3.75v5.55h-3.75zM96.10 245.62h3.75v5.55h-3.75zM118.63 245.62h3.75v2.42h-3.75zM226.75 245.62h3.75v5.55h-3.75zM231.25 245.62h3.75v5.55h-3.75zM350.18 245.62h3.75v5.55h-3.75zM368.18 245.62h3.75v2.42h-3.75zM73.58 305.43h3.75v5.55h-3.75zM82.59 305.43h3.75v5.55h-3.75zM87.09 305.43h3.75v5.55h-3.75zM91.60 305.43h3.75v5.55h-3.75zM96.10 305.43h3.75v5.55h-3.75zM105.11 305.43h3.75v5.55h-3.75zM114.12 305.43h3.75v5.55h-3.75zM123.13 305.43h3.75v5.55h-3.75zM154.67 305.43h3.75v5.55h-3.75zM168.18 305.43h3.75v5.55h-3.75zM172.69 305.43h3.75v5.55h-3.75zM186.20 305.43h3.75v5.55h-3.75zM199.72 305.43h3.75v5.55h-3.75zM204.22 305.43h3.75v5.55h-3.75zM208.73 305.43h3.75v5.55h-3.75zM213.23 305.43h3.75v5.55h-3.75zM217.74 305.43h3.75v5.55h-3.75zM235.76 305.43h3.75v5.55h-3.75zM244.77 305.43h3.75v5.55h-3.75zM249.27 305.43h3.75v5.55h-3.75zM267.29 305.43h3.75v5.55h-3.75zM289.82 305.43h3.75v5.55h-3.75zM298.83 305.43h3.75v5.55h-3.75zM312.34 305.43h3.75v5.55h-3.75zM325.86 305.43h3.75v5.55h-3.75zM330.36 305.43h3.75v5.55h-3.75zM386.18 305.43h3.75v5.55h-3.75zM408.68 305.43h3.75v5.55h-3.75zM114.12 337.07h3.75v5.55h-3.75zM132.14 337.07h3.75v5.55h-3.75zM145.66 337.07h3.75v5.55h-3.75zM181.70 337.07h3.75v5.55h-3.75zM195.21 337.07h3.75v5.55h-3.75zM199.72 337.07h3.75v5.55h-3.75zM208.73 337.07h3.75v5.55h-3.75zM222.24 337.07h3.75v5.55h-3.75zM249.27 337.07h3.75v5.55h-3.75zM253.78 337.07h3.75v5.55h-3.75zM267.29 337.07h3.75v5.55h-3.75zM280.81 337.07h3.75v5.55h-3.75zM73.58 362.39h3.75v5.55h-3.75zM91.60 362.39h3.75v5.55h-3.75zM96.10 362.39h3.75v5.55h-3.75zM100.61 362.39h3.75v5.55h-3.75zM118.63 362.39h3.75v5.55h-3.75zM132.14 362.39h3.75v5.55h-3.75zM136.65 362.39h3.75v5.55h-3.75zM150.16 362.39h3.75v5.55h-3.75zM271.80 362.39h3.75v5.55h-3.75z"/>
<path fill="#261c7c" d="M258.28 143.04h3.75v5.55h-3.75zM91.60 155.71h3.75v5.55h-3.75zM109.62 155.71h3.75v5.55h-3.75zM154.67 155.71h3.75v5.55h-3.75zM325.86 155.71h3.75v5.55h-3.75zM73.58 162.03h3.75v5.55h-3.75zM105.11 162.03h3.75v5.55h-3.75zM141.15 162.03h3.75v5.55h-3.75zM181.70 162.03h3.75v5.55h-3.75zM136.65 245.62h3.75v5.55h-3.75zM244.77 245.62h3.75v5.55h-3.75zM136.65 305.43h3.75v5.55h-3.75zM159.17 305.43h3.75v5.55h-3.75zM163.68 305.43h3.75v5.55h-3.75zM294.32 305.43h3.75v5.55h-3.75zM303.33 305.43h3.75v5.55h-3.75zM307.84 305.43h3.75v5.55h-3.75zM350.18 305.43h3.75v5.55h-3.75zM82.59 362.39h3.75v5.55h-3.75zM258.28 362.39h3.75v5.55h-3.75z"/>
<rect x="73.40" y="95.64" width="274.90" height="19.19" fill="none" stroke="#2e2e2e" stroke-width="1.1" rx="0.6"/>
<rect x="350.60" y="95.64" width="94.00" height="19.19" fill="none" stroke="#2e2e2e" stroke-width="1.1" rx="0.6"/>
<rect x="73.40" y="117.23" width="274.90" height="63.50" fill="none" stroke="#2e2e2e" stroke-width="1.1" rx="0.6"/>
<rect x="350.60" y="117.23" width="94.00" height="63.50" fill="none" stroke="#2e2e2e" stroke-width="1.1" rx="0.6"/>
<rect x="73.40" y="183.04" width="274.90" height="31.85" fill="none" stroke="#2e2e2e" stroke-width="1.1" rx="0.6"/>
<rect x="350.60" y="183.04" width="94.00" height="31.85" fill="none" stroke="#2e2e2e" stroke-width="1.1" rx="0.6"/>
<rect x="73.40" y="217.34" width="274.90" height="25.52" fill="none" stroke="#2e2e2e" stroke-width="1.1" rx="0.6"/>
<rect x="350.60" y="217.34" width="94.00" height="25.52" fill="none" stroke="#2e2e2e" stroke-width="1.1" rx="0.6"/>
<rect x="73.40" y="245.14" width="274.90" height="6.53" fill="none" stroke="#2e2e2e" stroke-width="1.1" rx="0.6"/>
<rect x="350.60" y="245.14" width="94.00" height="6.53" fill="none" stroke="#2e2e2e" stroke-width="1.1" rx="0.6"/>
<rect x="73.40" y="253.74" width="274.90" height="12.86" fill="none" stroke="#2e2e2e" stroke-width="1.1" rx="0.6"/>
<rect x="350.60" y="253.74" width="94.00" height="12.86" fill="none" stroke="#2e2e2e" stroke-width="1.1" rx="0.6"/>
<rect x="73.40" y="268.73" width="274.90" height="6.53" fill="none" stroke="#2e2e2e" stroke-width="1.1" rx="0.6"/>
<rect x="350.60" y="268.73" width="94.00" height="6.53" fill="none" stroke="#2e2e2e" stroke-width="1.1" rx="0.6"/>
<rect x="73.40" y="277.43" width="274.90" height="25.52" fill="none" stroke="#2e2e2e" stroke-width="1.1" rx="0.6"/>
<rect x="350.60" y="277.43" width="94.00" height="25.52" fill="none" stroke="#2e2e2e" stroke-width="1.1" rx="0.6"/>
<rect x="73.40" y="304.93" width="274.90" height="82.49" fill="none" stroke="#2e2e2e" stroke-width="1.1" rx="0.6"/>
<rect x="350.60" y="304.93" width="94.00" height="82.49" fill="none" stroke="#2e2e2e" stroke-width="1.1" rx="0.6"/>
<text x="43.80" y="101.25" font-size="5.8" fill="#222" textLength="26.20" lengthAdjust="spacingAndGlyphs"><tspan font-style="italic">ATM</tspan><tspan font-style="normal"> (48%)</tspan></text>
<text x="43.10" y="107.55" font-size="5.8" fill="#222" textLength="26.90" lengthAdjust="spacingAndGlyphs"><tspan font-style="italic">TP53</tspan><tspan font-style="normal"> (26%)</tspan></text>
<text x="32.20" y="113.95" font-size="5.8" fill="#222" textLength="37.80" lengthAdjust="spacingAndGlyphs"><tspan font-style="italic" class="o">SAMHD1</tspan><tspan font-style="normal"> (10%)</tspan></text>
<text x="22.80" y="122.85" font-size="5.8" fill="#222" textLength="47.20" lengthAdjust="spacingAndGlyphs"><tspan font-style="italic">CCND1</tspan><tspan font-style="normal"> SHM (26%)</tspan></text>
<text x="13.30" y="129.15" font-size="5.8" fill="#222" textLength="56.70" lengthAdjust="spacingAndGlyphs"><tspan font-style="normal">-13q14 (</tspan><tspan font-style="italic">RB1</tspan><tspan font-style="normal">)(23%)</tspan></text>
<text x="6.90" y="135.55" font-size="5.8" fill="#222" textLength="63.10" lengthAdjust="spacingAndGlyphs"><tspan font-style="italic">CCND1</tspan><tspan font-style="normal"> 3'UTR activ.(21%)</tspan></text>
<text x="13.70" y="141.85" font-size="5.8" fill="#222" textLength="56.30" lengthAdjust="spacingAndGlyphs"><tspan font-style="normal">-9p21 (</tspan><tspan font-style="italic">CDKN2A</tspan><tspan font-style="normal">) (21%)</tspan></text>
<text x="23.10" y="148.15" font-size="5.8" fill="#222" textLength="46.90" lengthAdjust="spacingAndGlyphs"><tspan font-style="normal">+8q24 (</tspan><tspan font-style="italic">MYC</tspan><tspan font-style="normal">) (15%)</tspan></text>
<text x="33.20" y="154.55" font-size="5.8" fill="#222" textLength="36.80" lengthAdjust="spacingAndGlyphs"><tspan font-style="italic" class="o">CDKN1B</tspan><tspan font-style="normal"> (12%)</tspan></text>
<text x="18.80" y="160.85" font-size="5.8" fill="#222" textLength="51.20" lengthAdjust="spacingAndGlyphs"><tspan font-style="normal">+10p12 (</tspan><tspan font-style="italic">BMI1</tspan><tspan font-style="normal">) (11%)</tspan></text>
<text x="7.50" y="167.15" font-size="5.8" fill="#222" textLength="62.50" lengthAdjust="spacingAndGlyphs"><tspan font-style="normal">+13q31 (</tspan><tspan font-style="italic">MIR17HG</tspan><tspan font-style="normal">) (10%)</tspan></text>
<text x="41.40" y="173.55" font-size="5.8" fill="#222" textLength="28.60" lengthAdjust="spacingAndGlyphs"><tspan font-style="italic" class="o">SYNE1</tspan><tspan font-style="normal"> (6%)</tspan></text>
<text x="36.80" y="179.85" font-size="5.8" fill="#222" textLength="33.20" lengthAdjust="spacingAndGlyphs"><tspan font-style="italic" class="o">DAZAP1</tspan><tspan font-style="normal"> (4%)</tspan></text>
<text x="36.20" y="188.65" font-size="5.8" fill="#222" textLength="33.80" lengthAdjust="spacingAndGlyphs"><tspan font-style="italic">KMT2D</tspan><tspan font-style="normal"> (23%)</tspan></text>
<text x="39.50" y="194.95" font-size="5.8" fill="#222" textLength="30.50" lengthAdjust="spacingAndGlyphs"><tspan font-style="italic">SP140</tspan><tspan font-style="normal"> (13%)</tspan></text>
<text x="40.50" y="201.35" font-size="5.8" fill="#222" textLength="29.50" lengthAdjust="spacingAndGlyphs"><tspan font-style="italic">NSD2</tspan><tspan font-style="normal"> (12%)</tspan></text>
<text x="32.00" y="207.65" font-size="5.8" fill="#222" textLength="38.00" lengthAdjust="spacingAndGlyphs"><tspan font-style="italic">SMARCA4</tspan><tspan font-style="normal"> (9%)</tspan></text>
<text x="32.90" y="213.95" font-size="5.8" fill="#222" textLength="37.10" lengthAdjust="spacingAndGlyphs"><tspan font-style="italic" class="o">SMARCB1</tspan><tspan font-style="normal"> (4%)</tspan></text>
<text x="40.00" y="222.95" font-size="5.8" fill="#222" textLength="30.00" lengthAdjust="spacingAndGlyphs"><tspan font-style="italic">BIRC3</tspan><tspan font-style="normal"> (22%)</tspan></text>
<text x="43.00" y="229.25" font-size="5.8" fill="#222" textLength="27.00" lengthAdjust="spacingAndGlyphs"><tspan font-style="italic" class="o">BCOR</tspan><tspan font-style="normal"> (9%)</tspan></text>
<text x="37.00" y="235.65" font-size="5.8" fill="#222" textLength="33.00" lengthAdjust="spacingAndGlyphs"><tspan font-style="italic">CARD11</tspan><tspan font-style="normal"> (5%)</tspan></text>
<text x="46.00" y="241.95" font-size="5.8" fill="#222" textLength="24.00" lengthAdjust="spacingAndGlyphs"><tspan font-style="italic">TLR2</tspan><tspan font-style="normal"> (2%)</tspan></text>
<text x="42.30" y="250.75" font-size="5.8" fill="#222" textLength="27.70" lengthAdjust="spacingAndGlyphs"><tspan font-style="italic">TERT</tspan><tspan font-style="normal"> (15%)</tspan></text>
<text x="35.50" y="259.35" font-size="5.8" fill="#222" textLength="34.50" lengthAdjust="spacingAndGlyphs"><tspan font-style="italic">NOTCH1</tspan><tspan font-style="normal"> (5%)</tspan></text>
<text x="35.50" y="265.65" font-size="5.8" fill="#222" textLength="34.50" lengthAdjust="spacingAndGlyphs"><tspan font-style="italic">NOTCH2</tspan><tspan font-style="normal"> (4%)</tspan></text>
<text x="32.20" y="274.35" font-size="5.8" fill="#222" textLength="37.80" lengthAdjust="spacingAndGlyphs"><tspan font-style="italic" class="o">HNRNPH1</tspan><tspan font-style="normal"> (6%)</tspan></text>
<text x="44.50" y="283.05" font-size="5.8" fill="#222" textLength="25.50" lengthAdjust="spacingAndGlyphs"><tspan font-style="italic">UBR5</tspan><tspan font-style="normal"> (6%)</tspan></text>
<text x="39.90" y="289.35" font-size="5.8" fill="#222" textLength="30.10" lengthAdjust="spacingAndGlyphs"><tspan font-style="italic">MEF2B</tspan><tspan font-style="normal"> (5%)</tspan></text>
<text x="42.20" y="295.75" font-size="5.8" fill="#222" textLength="27.80" lengthAdjust="spacingAndGlyphs"><tspan font-style="italic">S1PR1</tspan><tspan font-style="normal"> (4%)</tspan></text>
<text x="44.00" y="302.05" font-size="5.8" fill="#222" textLength="26.00" lengthAdjust="spacingAndGlyphs"><tspan font-style="italic">PAX5</tspan><tspan font-style="normal"> (2%)</tspan></text>
<text x="27.80" y="310.55" font-size="5.8" fill="#222" textLength="42.20" lengthAdjust="spacingAndGlyphs"><tspan font-style="normal">+3q25-q29 (43%)</tspan></text>
<text x="26.60" y="316.85" font-size="5.8" fill="#222" textLength="43.40" lengthAdjust="spacingAndGlyphs"><tspan font-style="normal">-13q33-q34 (33%)</tspan></text>
<text x="29.10" y="323.25" font-size="5.8" fill="#222" textLength="40.90" lengthAdjust="spacingAndGlyphs"><tspan font-style="normal">-1p22-p13 (29%)</tspan></text>
<text x="46.30" y="329.55" font-size="5.8" fill="#222" textLength="23.70" lengthAdjust="spacingAndGlyphs"><tspan font-style="normal">-6q (27%)</tspan></text>
<text x="29.30" y="335.85" font-size="5.8" fill="#222" textLength="40.70" lengthAdjust="spacingAndGlyphs"><tspan font-style="normal">-9q22-q31 (18%)</tspan></text>
<text x="44.90" y="342.25" font-size="5.8" fill="#222" textLength="25.10" lengthAdjust="spacingAndGlyphs"><tspan font-style="normal">+7p (15%)</tspan></text>
<text x="46.30" y="348.55" font-size="5.8" fill="#222" textLength="23.70" lengthAdjust="spacingAndGlyphs"><tspan font-style="normal">-8p (15%)</tspan></text>
<text x="26.60" y="354.95" font-size="5.8" fill="#222" textLength="43.40" lengthAdjust="spacingAndGlyphs"><tspan font-style="normal">-10p15-p13 (15%)</tspan></text>
<text x="43.60" y="361.25" font-size="5.8" fill="#222" textLength="26.40" lengthAdjust="spacingAndGlyphs"><tspan font-style="normal">-19p (15%)</tspan></text>
<text x="25.10" y="367.55" font-size="5.8" fill="#222" textLength="44.90" lengthAdjust="spacingAndGlyphs"><tspan font-style="normal">+18q21-q22 (13%)</tspan></text>
<text x="30.50" y="373.95" font-size="5.8" fill="#222" textLength="39.50" lengthAdjust="spacingAndGlyphs"><tspan font-style="normal" class="o">-15q14-q21</tspan><tspan font-style="normal"> (9%)</tspan></text>
<text x="40.40" y="380.25" font-size="5.8" fill="#222" textLength="29.60" lengthAdjust="spacingAndGlyphs"><tspan font-style="normal" class="o">-10q21</tspan><tspan font-style="normal"> (7%)</tspan></text>
<text x="43.40" y="386.55" font-size="5.8" fill="#222" textLength="26.60" lengthAdjust="spacingAndGlyphs"><tspan font-style="normal">-1p32 (6%)</tspan></text>
<text x="0" y="0" font-size="4.4" fill="#1a1a1a" transform="translate(76.55 404.6) rotate(-89.8)" textLength="13.8" lengthAdjust="spacingAndGlyphs">M061</text>
<text x="0" y="0" font-size="4.4" fill="#1a1a1a" transform="translate(81.06 404.6) rotate(-89.8)" textLength="13.8" lengthAdjust="spacingAndGlyphs">M140</text>
<text x="0" y="0" font-size="4.4" fill="#1a1a1a" transform="translate(85.56 404.6) rotate(-89.8)" textLength="13.8" lengthAdjust="spacingAndGlyphs">M034</text>
<text x="0" y="0" font-size="4.4" fill="#1a1a1a" transform="translate(90.07 404.6) rotate(-89.8)" textLength="13.8" lengthAdjust="spacingAndGlyphs">M095</text>
<text x="0" y="0" font-size="4.4" fill="#1a1a1a" transform="translate(94.57 404.6) rotate(-89.8)" textLength="13.8" lengthAdjust="spacingAndGlyphs">M122</text>
<text x="0" y="0" font-size="4.4" fill="#1a1a1a" transform="translate(99.08 404.6) rotate(-89.8)" textLength="13.8" lengthAdjust="spacingAndGlyphs">M017</text>
<text x="0" y="0" font-size="4.4" fill="#1a1a1a" transform="translate(103.58 404.6) rotate(-89.8)" textLength="13.8" lengthAdjust="spacingAndGlyphs">M004</text>
<text x="0" y="0" font-size="4.4" fill="#1a1a1a" transform="translate(108.09 404.6) rotate(-89.8)" textLength="13.8" lengthAdjust="spacingAndGlyphs">M121</text>
<text x="0" y="0" font-size="4.4" fill="#1a1a1a" transform="translate(112.59 404.6) rotate(-89.8)" textLength="13.8" lengthAdjust="spacingAndGlyphs">M067</text>
<text x="0" y="0" font-size="4.4" fill="#1a1a1a" transform="translate(117.10 404.6) rotate(-89.8)" textLength="13.8" lengthAdjust="spacingAndGlyphs">M060</text>
<text x="0" y="0" font-size="4.4" fill="#1a1a1a" transform="translate(121.60 404.6) rotate(-89.8)" textLength="13.8" lengthAdjust="spacingAndGlyphs">M050</text>
<text x="0" y="0" font-size="4.4" fill="#1a1a1a" transform="translate(126.11 404.6) rotate(-89.8)" textLength="13.8" lengthAdjust="spacingAndGlyphs">M121</text>
<text x="0" y="0" font-size="4.4" fill="#1a1a1a" transform="translate(130.61 404.6) rotate(-89.8)" textLength="13.8" lengthAdjust="spacingAndGlyphs">M139</text>
<text x="0" y="0" font-size="4.4" fill="#1a1a1a" transform="translate(135.12 404.6) rotate(-89.8)" textLength="13.8" lengthAdjust="spacingAndGlyphs">M122</text>
<text x="0" y="0" font-size="4.4" fill="#1a1a1a" transform="translate(139.62 404.6) rotate(-89.8)" textLength="13.8" lengthAdjust="spacingAndGlyphs">M102</text>
<text x="0" y="0" font-size="4.4" fill="#1a1a1a" transform="translate(144.13 404.6) rotate(-89.8)" textLength="13.8" lengthAdjust="spacingAndGlyphs">M039</text>
<text x="0" y="0" font-size="4.4" fill="#1a1a1a" transform="translate(148.63 404.6) rotate(-89.8)" textLength="13.8" lengthAdjust="spacingAndGlyphs">M060</text>
<text x="0" y="0" font-size="4.4" fill="#1a1a1a" transform="translate(153.14 404.6) rotate(-89.8)" textLength="13.8" lengthAdjust="spacingAndGlyphs">M039</text>
<text x="0" y="0" font-size="4.4" fill="#1a1a1a" transform="translate(157.64 404.6) rotate(-89.8)" textLength="13.8" lengthAdjust="spacingAndGlyphs">M134</text>
<text x="0" y="0" font-size="4.4" fill="#1a1a1a" transform="translate(162.15 404.6) rotate(-89.8)" textLength="13.8" lengthAdjust="spacingAndGlyphs">M100</text>
<text x="0" y="0" font-size="4.4" fill="#1a1a1a" transform="translate(166.65 404.6) rotate(-89.8)" textLength="13.8" lengthAdjust="spacingAndGlyphs">M004</text>
<text x="0" y="0" font-size="4.4" fill="#1a1a1a" transform="translate(171.16 404.6) rotate(-89.8)" textLength="13.8" lengthAdjust="spacingAndGlyphs">M017</text>
<text x="0" y="0" font-size="4.4" fill="#1a1a1a" transform="translate(175.66 404.6) rotate(-89.8)" textLength="13.8" lengthAdjust="spacingAndGlyphs">M041</text>
<text x="0" y="0" font-size="4.4" fill="#1a1a1a" transform="translate(180.17 404.6) rotate(-89.8)" textLength="13.8" lengthAdjust="spacingAndGlyphs">M011</text>
<text x="0" y="0" font-size="4.4" fill="#1a1a1a" transform="translate(184.67 404.6) rotate(-89.8)" textLength="13.8" lengthAdjust="spacingAndGlyphs">M078</text>
<text x="0" y="0" font-size="4.4" fill="#1a1a1a" transform="translate(189.18 404.6) rotate(-89.8)" textLength="13.8" lengthAdjust="spacingAndGlyphs">M008</text>
<text x="0" y="0" font-size="4.4" fill="#1a1a1a" transform="translate(193.68 404.6) rotate(-89.8)" textLength="13.8" lengthAdjust="spacingAndGlyphs">M069</text>
<text x="0" y="0" font-size="4.4" fill="#1a1a1a" transform="translate(198.19 404.6) rotate(-89.8)" textLength="13.8" lengthAdjust="spacingAndGlyphs">M122</text>
<text x="0" y="0" font-size="4.4" fill="#1a1a1a" transform="translate(202.69 404.6) rotate(-89.8)" textLength="13.8" lengthAdjust="spacingAndGlyphs">M100</text>
<text x="0" y="0" font-size="4.4" fill="#1a1a1a" transform="translate(207.20 404.6) rotate(-89.8)" textLength="13.8" lengthAdjust="spacingAndGlyphs">M110</text>
<text x="0" y="0" font-size="4.4" fill="#1a1a1a" transform="translate(211.70 404.6) rotate(-89.8)" textLength="13.8" lengthAdjust="spacingAndGlyphs">M102</text>
<text x="0" y="0" font-size="4.4" fill="#1a1a1a" transform="translate(216.21 404.6) rotate(-89.8)" textLength="13.8" lengthAdjust="spacingAndGlyphs">M114</text>
<text x="0" y="0" font-size="4.4" fill="#1a1a1a" transform="translate(220.71 404.6) rotate(-89.8)" textLength="13.8" lengthAdjust="spacingAndGlyphs">M035</text>
<text x="0" y="0" font-size="4.4" fill="#1a1a1a" transform="translate(225.22 404.6) rotate(-89.8)" textLength="13.8" lengthAdjust="spacingAndGlyphs">M094</text>
<text x="0" y="0" font-size="4.4" fill="#1a1a1a" transform="translate(229.72 404.6) rotate(-89.8)" textLength="13.8" lengthAdjust="spacingAndGlyphs">M025</text>
<text x="0" y="0" font-size="4.4" fill="#1a1a1a" transform="translate(234.23 404.6) rotate(-89.8)" textLength="13.8" lengthAdjust="spacingAndGlyphs">M010</text>
<text x="0" y="0" font-size="4.4" fill="#1a1a1a" transform="translate(238.73 404.6) rotate(-89.8)" textLength="13.8" lengthAdjust="spacingAndGlyphs">M035</text>
<text x="0" y="0" font-size="4.4" fill="#1a1a1a" transform="translate(243.24 404.6) rotate(-89.8)" textLength="13.8" lengthAdjust="spacingAndGlyphs">M127</text>
<text x="0" y="0" font-size="4.4" fill="#1a1a1a" transform="translate(247.74 404.6) rotate(-89.8)" textLength="13.8" lengthAdjust="spacingAndGlyphs">M056</text>
<text x="0" y="0" font-size="4.4" fill="#1a1a1a" transform="translate(252.25 404.6) rotate(-89.8)" textLength="13.8" lengthAdjust="spacingAndGlyphs">M067</text>
<text x="0" y="0" font-size="4.4" fill="#1a1a1a" transform="translate(256.75 404.6) rotate(-89.8)" textLength="13.8" lengthAdjust="spacingAndGlyphs">M112</text>
<text x="0" y="0" font-size="4.4" fill="#1a1a1a" transform="translate(261.26 404.6) rotate(-89.8)" textLength="13.8" lengthAdjust="spacingAndGlyphs">M078</text>
<text x="0" y="0" font-size="4.4" fill="#1a1a1a" transform="translate(265.76 404.6) rotate(-89.8)" textLength="13.8" lengthAdjust="spacingAndGlyphs">M108</text>
<text x="0" y="0" font-size="4.4" fill="#1a1a1a" transform="translate(270.27 404.6) rotate(-89.8)" textLength="13.8" lengthAdjust="spacingAndGlyphs">M130</text>
<text x="0" y="0" font-size="4.4" fill="#1a1a1a" transform="translate(274.77 404.6) rotate(-89.8)" textLength="13.8" lengthAdjust="spacingAndGlyphs">M099</text>
<text x="0" y="0" font-size="4.4" fill="#1a1a1a" transform="translate(279.28 404.6) rotate(-89.8)" textLength="13.8" lengthAdjust="spacingAndGlyphs">M090</text>
<text x="0" y="0" font-size="4.4" fill="#1a1a1a" transform="translate(283.78 404.6) rotate(-89.8)" textLength="13.8" lengthAdjust="spacingAndGlyphs">M137</text>
<text x="0" y="0" font-size="4.4" fill="#1a1a1a" transform="translate(288.29 404.6) rotate(-89.8)" textLength="13.8" lengthAdjust="spacingAndGlyphs">M105</text>
<text x="0" y="0" font-size="4.4" fill="#1a1a1a" transform="translate(292.79 404.6) rotate(-89.8)" textLength="13.8" lengthAdjust="spacingAndGlyphs">M060</text>
<text x="0" y="0" font-size="4.4" fill="#1a1a1a" transform="translate(297.30 404.6) rotate(-89.8)" textLength="13.8" lengthAdjust="spacingAndGlyphs">M087</text>
<text x="0" y="0" font-size="4.4" fill="#1a1a1a" transform="translate(301.80 404.6) rotate(-89.8)" textLength="13.8" lengthAdjust="spacingAndGlyphs">M008</text>
<text x="0" y="0" font-size="4.4" fill="#1a1a1a" transform="translate(306.31 404.6) rotate(-89.8)" textLength="13.8" lengthAdjust="spacingAndGlyphs">M072</text>
<text x="0" y="0" font-size="4.4" fill="#1a1a1a" transform="translate(310.81 404.6) rotate(-89.8)" textLength="13.8" lengthAdjust="spacingAndGlyphs">M042</text>
<text x="0" y="0" font-size="4.4" fill="#1a1a1a" transform="translate(315.32 404.6) rotate(-89.8)" textLength="13.8" lengthAdjust="spacingAndGlyphs">M084</text>
<text x="0" y="0" font-size="4.4" fill="#1a1a1a" transform="translate(319.82 404.6) rotate(-89.8)" textLength="13.8" lengthAdjust="spacingAndGlyphs">M139</text>
<text x="0" y="0" font-size="4.4" fill="#1a1a1a" transform="translate(324.33 404.6) rotate(-89.8)" textLength="13.8" lengthAdjust="spacingAndGlyphs">M027</text>
<text x="0" y="0" font-size="4.4" fill="#1a1a1a" transform="translate(328.83 404.6) rotate(-89.8)" textLength="13.8" lengthAdjust="spacingAndGlyphs">M055</text>
<text x="0" y="0" font-size="4.4" fill="#1a1a1a" transform="translate(333.34 404.6) rotate(-89.8)" textLength="13.8" lengthAdjust="spacingAndGlyphs">M069</text>
<text x="0" y="0" font-size="4.4" fill="#1a1a1a" transform="translate(337.84 404.6) rotate(-89.8)" textLength="13.8" lengthAdjust="spacingAndGlyphs">M073</text>
<text x="0" y="0" font-size="4.4" fill="#1a1a1a" transform="translate(342.35 404.6) rotate(-89.8)" textLength="13.8" lengthAdjust="spacingAndGlyphs">M032</text>
<text x="0" y="0" font-size="4.4" fill="#1a1a1a" transform="translate(346.85 404.6) rotate(-89.8)" textLength="13.8" lengthAdjust="spacingAndGlyphs">M017</text>
<text x="0" y="0" font-size="4.4" fill="#1a1a1a" transform="translate(353.15 404.6) rotate(-89.8)" textLength="13.8" lengthAdjust="spacingAndGlyphs">M124</text>
<text x="0" y="0" font-size="4.4" fill="#1a1a1a" transform="translate(357.65 404.6) rotate(-89.8)" textLength="13.8" lengthAdjust="spacingAndGlyphs">M124</text>
<text x="0" y="0" font-size="4.4" fill="#1a1a1a" transform="translate(362.15 404.6) rotate(-89.8)" textLength="13.8" lengthAdjust="spacingAndGlyphs">M023</text>
<text x="0" y="0" font-size="4.4" fill="#1a1a1a" transform="translate(366.65 404.6) rotate(-89.8)" textLength="13.8" lengthAdjust="spacingAndGlyphs">M089</text>
<text x="0" y="0" font-size="4.4" fill="#1a1a1a" transform="translate(371.15 404.6) rotate(-89.8)" textLength="13.8" lengthAdjust="spacingAndGlyphs">M018</text>
<text x="0" y="0" font-size="4.4" fill="#1a1a1a" transform="translate(375.65 404.6) rotate(-89.8)" textLength="13.8" lengthAdjust="spacingAndGlyphs">M106</text>
<text x="0" y="0" font-size="4.4" fill="#1a1a1a" transform="translate(380.15 404.6) rotate(-89.8)" textLength="13.8" lengthAdjust="spacingAndGlyphs">M039</text>
<text x="0" y="0" font-size="4.4" fill="#1a1a1a" transform="translate(384.65 404.6) rotate(-89.8)" textLength="13.8" lengthAdjust="spacingAndGlyphs">M006</text>
<text x="0" y="0" font-size="4.4" fill="#1a1a1a" transform="translate(389.15 404.6) rotate(-89.8)" textLength="13.8" lengthAdjust="spacingAndGlyphs">M076</text>
<text x="0" y="0" font-size="4.4" fill="#1a1a1a" transform="translate(393.65 404.6) rotate(-89.8)" textLength="13.8" lengthAdjust="spacingAndGlyphs">M110</text>
<text x="0" y="0" font-size="4.4" fill="#1a1a1a" transform="translate(398.15 404.6) rotate(-89.8)" textLength="13.8" lengthAdjust="spacingAndGlyphs">M107</text>
<text x="0" y="0" font-size="4.4" fill="#1a1a1a" transform="translate(402.65 404.6) rotate(-89.8)" textLength="13.8" lengthAdjust="spacingAndGlyphs">M031</text>
<text x="0" y="0" font-size="4.4" fill="#1a1a1a" transform="translate(407.15 404.6) rotate(-89.8)" textLength="13.8" lengthAdjust="spacingAndGlyphs">M012</text>
<text x="0" y="0" font-size="4.4" fill="#1a1a1a" transform="translate(411.65 404.6) rotate(-89.8)" textLength="13.8" lengthAdjust="spacingAndGlyphs">M012</text>
<text x="0" y="0" font-size="4.4" fill="#1a1a1a" transform="translate(416.15 404.6) rotate(-89.8)" textLength="13.8" lengthAdjust="spacingAndGlyphs">M097</text>
<text x="0" y="0" font-size="4.4" fill="#1a1a1a" transform="translate(420.65 404.6) rotate(-89.8)" textLength="13.8" lengthAdjust="spacingAndGlyphs">M085</text>
<text x="0" y="0" font-size="4.4" fill="#1a1a1a" transform="translate(425.15 404.6) rotate(-89.8)" textLength="13.8" lengthAdjust="spacingAndGlyphs">M072</text>
<text x="0" y="0" font-size="4.4" fill="#1a1a1a" transform="translate(429.65 404.6) rotate(-89.8)" textLength="13.8" lengthAdjust="spacingAndGlyphs">M130</text>
<text x="0" y="0" font-size="4.4" fill="#1a1a1a" transform="translate(434.15 404.6) rotate(-89.8)" textLength="13.8" lengthAdjust="spacingAndGlyphs">M061</text>
<text x="0" y="0" font-size="4.4" fill="#1a1a1a" transform="translate(438.65 404.6) rotate(-89.8)" textLength="13.8" lengthAdjust="spacingAndGlyphs">M010</text>
<text x="0" y="0" font-size="4.4" fill="#1a1a1a" transform="translate(443.15 404.6) rotate(-89.8)" textLength="13.8" lengthAdjust="spacingAndGlyphs">M080</text>
<rect x="112.40" y="414.6" width="7.3" height="7.3" fill="#858585" stroke="#111" stroke-width="0.8"/>
<text x="123.00" y="420.1" font-size="5.6" fill="#222" textLength="22.20" lengthAdjust="spacingAndGlyphs">Mutation</text>
<rect x="161.00" y="414.6" width="7.3" height="7.3" fill="#d8401e" stroke="#111" stroke-width="0.8"/>
<text x="171.00" y="420.1" font-size="5.6" fill="#222" textLength="21.00" lengthAdjust="spacingAndGlyphs">Deletion</text>
<rect x="207.50" y="414.6" width="7.3" height="7.3" fill="#8b1111" stroke="#111" stroke-width="0.8"/>
<text x="217.70" y="420.1" font-size="5.6" fill="#222" textLength="53.50" lengthAdjust="spacingAndGlyphs">Homozygous deletion</text>
<rect x="286.70" y="414.6" width="7.3" height="7.3" fill="#6a94d4" stroke="#111" stroke-width="0.8"/>
<text x="297.00" y="420.1" font-size="5.6" fill="#222" textLength="11.80" lengthAdjust="spacingAndGlyphs">Gain</text>
<rect x="323.70" y="414.6" width="7.3" height="7.3" fill="#2b2380" stroke="#111" stroke-width="0.8"/>
<text x="334.20" y="420.1" font-size="5.6" fill="#222" textLength="36.60" lengthAdjust="spacingAndGlyphs">High copy gain</text>
<rect x="386.40" y="414.6" width="7.3" height="7.3" fill="#a8c957" stroke="#111" stroke-width="0.8"/>
<text x="397.00" y="420.1" font-size="5.6" fill="#222" textLength="6.20" lengthAdjust="spacingAndGlyphs">SV</text>
<rect x="27.5" y="453" width="3.6" height="86.6" fill="#4a7fc9" stroke="#1a2a40" stroke-width="0.6"/>
<rect x="27.5" y="539.6" width="3.6" height="89.2" fill="#f6d912" stroke="#40405a" stroke-width="0.7"/>
<text x="0" y="0" font-size="7" fill="#333" transform="translate(21.6 496.4) rotate(-90)" text-anchor="middle" textLength="44" lengthAdjust="spacingAndGlyphs">cMCL altered (%)</text>
<text x="0" y="0" font-size="7" fill="#333" transform="translate(21.6 584.3) rotate(-90)" text-anchor="middle" textLength="50" lengthAdjust="spacingAndGlyphs">nnMCL altered (%)</text>
<text x="40.9" y="542.40" font-size="6.1" fill="#333" text-anchor="end">0</text>
<rect x="42.60" y="529.58" width="3.80" height="0.80" fill="#222" />
<text x="40.9" y="532.12" font-size="6.1" fill="#333" text-anchor="end">10</text>
<rect x="42.60" y="550.03" width="3.80" height="0.80" fill="#222" />
<text x="40.9" y="552.58" font-size="6.1" fill="#333" text-anchor="end">10</text>
<rect x="42.60" y="519.30" width="3.80" height="0.80" fill="#222" />
<text x="40.9" y="521.85" font-size="6.1" fill="#333" text-anchor="end">20</text>
<rect x="42.60" y="560.21" width="3.80" height="0.80" fill="#222" />
<text x="40.9" y="562.76" font-size="6.1" fill="#333" text-anchor="end">20</text>
<rect x="42.60" y="509.03" width="3.80" height="0.80" fill="#222" />
<text x="40.9" y="511.57" font-size="6.1" fill="#333" text-anchor="end">30</text>
<rect x="42.60" y="570.39" width="3.80" height="0.80" fill="#222" />
<text x="40.9" y="572.94" font-size="6.1" fill="#333" text-anchor="end">30</text>
<rect x="42.60" y="498.75" width="3.80" height="0.80" fill="#222" />
<text x="40.9" y="501.30" font-size="6.1" fill="#333" text-anchor="end">40</text>
<rect x="42.60" y="580.57" width="3.80" height="0.80" fill="#222" />
<text x="40.9" y="583.12" font-size="6.1" fill="#333" text-anchor="end">40</text>
<rect x="42.60" y="488.48" width="3.80" height="0.80" fill="#222" />
<text x="40.9" y="491.02" font-size="6.1" fill="#333" text-anchor="end">50</text>
<rect x="42.60" y="590.75" width="3.80" height="0.80" fill="#222" />
<text x="40.9" y="593.30" font-size="6.1" fill="#333" text-anchor="end">50</text>
<rect x="42.60" y="478.20" width="3.80" height="0.80" fill="#222" />
<text x="40.9" y="480.75" font-size="6.1" fill="#333" text-anchor="end">60</text>
<rect x="42.60" y="600.93" width="3.80" height="0.80" fill="#222" />
<text x="40.9" y="603.48" font-size="6.1" fill="#333" text-anchor="end">60</text>
<rect x="42.60" y="467.93" width="3.80" height="0.80" fill="#222" />
<text x="40.9" y="470.47" font-size="6.1" fill="#333" text-anchor="end">70</text>
<rect x="42.60" y="611.11" width="3.80" height="0.80" fill="#222" />
<text x="40.9" y="613.66" font-size="6.1" fill="#333" text-anchor="end">70</text>
<rect x="42.60" y="457.65" width="3.80" height="0.80" fill="#222" />
<text x="40.9" y="460.20" font-size="6.1" fill="#333" text-anchor="end">80</text>
<rect x="42.60" y="621.29" width="3.80" height="0.80" fill="#222" />
<text x="40.9" y="623.84" font-size="6.1" fill="#333" text-anchor="end">80</text>
<rect x="51.80" y="474.80" width="6.10" height="8.20" fill="#d2381c" />
<rect x="51.80" y="483.00" width="2.75" height="57.20" fill="#818181" />
<rect x="54.54" y="483.00" width="3.35" height="26.70" fill="#d2381c" />
<rect x="54.54" y="509.70" width="3.35" height="30.50" fill="#818181" />
<text x="0" y="0" font-size="5.7" fill="#222" transform="translate(56.85 471.20) rotate(-90)" textLength="10.67" lengthAdjust="spacingAndGlyphs"><tspan font-style="italic">ATM</tspan></text>
<rect x="62.26" y="486.50" width="6.10" height="43.70" fill="#6a93d4" />
<rect x="62.26" y="530.20" width="6.10" height="10.00" fill="#2b1f7f" />
<rect x="62.26" y="540.20" width="6.10" height="4.80" fill="#2b1f7f" />
<rect x="62.26" y="545.00" width="6.10" height="9.70" fill="#6a93d4" />
<text x="0" y="0" font-size="5.7" fill="#222" transform="translate(67.31 482.90) rotate(-90)" textLength="26.52" lengthAdjust="spacingAndGlyphs"><tspan font-style="normal">+3q25−q29</tspan></text>
<rect x="72.72" y="496.50" width="6.10" height="43.70" fill="#d2381c" />
<rect x="72.72" y="540.20" width="6.10" height="4.80" fill="#d2381c" />
<text x="0" y="0" font-size="5.7" fill="#222" transform="translate(77.77 492.90) rotate(-90)" textLength="29.43" lengthAdjust="spacingAndGlyphs"><tspan font-style="normal">−13q33−q34</tspan></text>
<rect x="83.18" y="500.00" width="6.10" height="40.20" fill="#d2381c" />
<text x="0" y="0" font-size="5.7" fill="#222" transform="translate(88.23 496.40) rotate(-90)" textLength="26.52" lengthAdjust="spacingAndGlyphs"><tspan font-style="normal">−1p22−p13</tspan></text>
<rect x="93.64" y="505.00" width="6.10" height="35.20" fill="#d2381c" />
<rect x="93.64" y="540.20" width="6.10" height="4.80" fill="#d2381c" />
<text x="0" y="0" font-size="5.7" fill="#222" transform="translate(98.69 501.40) rotate(-90)" textLength="8.89" lengthAdjust="spacingAndGlyphs"><tspan font-style="normal">−6q</tspan></text>
<rect x="104.10" y="533.60" width="6.10" height="6.60" fill="#818181" />
<rect x="104.10" y="540.20" width="6.10" height="82.60" fill="#818181" />
<text x="0" y="0" font-size="5.7" fill="#222" transform="translate(109.15 530.00) rotate(-90)" textLength="31.15" lengthAdjust="spacingAndGlyphs"><tspan font-style="italic">CCND1</tspan><tspan font-style="normal"> SHM</tspan></text>
<rect x="114.56" y="516.80" width="6.10" height="6.80" fill="#d2381c" />
<rect x="114.56" y="523.60" width="3.05" height="16.60" fill="#818181" />
<rect x="117.61" y="523.60" width="3.05" height="8.20" fill="#d2381c" />
<rect x="117.61" y="531.80" width="3.05" height="8.40" fill="#818181" />
<rect x="114.56" y="540.20" width="3.05" height="24.40" fill="#818181" />
<rect x="117.61" y="540.20" width="3.05" height="24.40" fill="#d2381c" />
<rect x="114.56" y="564.60" width="6.10" height="9.70" fill="#d2381c" />
<text x="0" y="0" font-size="5.7" fill="#222" transform="translate(119.61 513.20) rotate(-90)" textLength="12.52" lengthAdjust="spacingAndGlyphs"><tspan font-style="italic">TP53</tspan></text>
<rect x="125.02" y="510.00" width="6.10" height="10.00" fill="#d2381c" />
<rect x="125.02" y="520.00" width="6.10" height="20.20" fill="#818181" />
<rect x="125.02" y="540.20" width="6.10" height="4.80" fill="#d2381c" />
<text x="0" y="0" font-size="5.7" fill="#222" transform="translate(130.07 506.40) rotate(-90)" textLength="17.76" lengthAdjust="spacingAndGlyphs"><tspan font-style="italic">KMT2D</tspan></text>
<rect x="135.48" y="510.00" width="3.05" height="2.00" fill="#a6c653" />
<rect x="135.48" y="512.00" width="6.10" height="26.00" fill="#d2381c" />
<rect x="138.53" y="510.00" width="3.05" height="2.00" fill="#d2381c" />
<rect x="135.48" y="538.00" width="6.10" height="2.20" fill="#8a1010" />
<rect x="135.48" y="540.20" width="6.10" height="4.80" fill="#d2381c" />
<text x="0" y="0" font-size="5.7" fill="#222" transform="translate(140.53 506.40) rotate(-90)" textLength="32.77" lengthAdjust="spacingAndGlyphs"><tspan font-style="normal">−13q14 (</tspan><tspan font-style="italic">RB1</tspan><tspan font-style="normal">)</tspan></text>
<rect x="145.94" y="513.40" width="6.10" height="21.60" fill="#d2381c" />
<rect x="145.94" y="535.00" width="3.05" height="5.20" fill="#818181" />
<rect x="148.99" y="535.00" width="3.05" height="5.20" fill="#d2381c" />
<rect x="145.94" y="540.20" width="6.10" height="4.80" fill="#818181" />
<rect x="145.94" y="545.00" width="6.10" height="5.00" fill="#a6c653" />
<text x="0" y="0" font-size="5.7" fill="#222" transform="translate(150.99 509.80) rotate(-90)" textLength="15.43" lengthAdjust="spacingAndGlyphs"><tspan font-style="italic">BIRC3</tspan></text>
<rect x="156.40" y="513.40" width="6.10" height="10.20" fill="#d2381c" />
<rect x="156.40" y="523.60" width="6.10" height="16.60" fill="#8a1010" />
<rect x="156.40" y="540.20" width="6.10" height="4.80" fill="#d2381c" />
<text x="0" y="0" font-size="5.7" fill="#222" transform="translate(161.45 509.80) rotate(-90)" textLength="40.92" lengthAdjust="spacingAndGlyphs"><tspan font-style="normal">−9p21 (</tspan><tspan font-style="italic">CDKN2A</tspan><tspan font-style="normal">)</tspan></text>
<rect x="166.86" y="516.80" width="6.10" height="8.40" fill="#a6c653" />
<rect x="166.86" y="525.20" width="6.10" height="11.80" fill="#6a93d4" />
<rect x="166.86" y="537.00" width="6.10" height="3.20" fill="#818181" />
<rect x="166.86" y="540.20" width="6.10" height="14.50" fill="#a6c653" />
<text x="0" y="0" font-size="5.7" fill="#222" transform="translate(171.91 513.20) rotate(-90)" textLength="31.35" lengthAdjust="spacingAndGlyphs"><tspan font-style="italic">CCND1</tspan><tspan font-style="normal"> activ.</tspan></text>
<rect x="177.32" y="516.80" width="6.10" height="23.40" fill="#d2381c" />
<rect x="177.32" y="540.20" width="6.10" height="4.80" fill="#d2381c" />
<text x="0" y="0" font-size="5.7" fill="#222" transform="translate(182.37 513.20) rotate(-90)" textLength="26.52" lengthAdjust="spacingAndGlyphs"><tspan font-style="normal">−9q22−q31</tspan></text>
<rect x="187.78" y="523.10" width="3.05" height="2.90" fill="#a6c653" />
<rect x="190.83" y="523.10" width="3.05" height="2.90" fill="#6a93d4" />
<rect x="187.78" y="526.00" width="6.10" height="12.00" fill="#6a93d4" />
<rect x="187.78" y="538.00" width="6.10" height="2.20" fill="#2b1f7f" />
<rect x="187.78" y="540.20" width="6.10" height="9.50" fill="#6a93d4" />
<text x="0" y="0" font-size="5.7" fill="#222" transform="translate(192.83 519.50) rotate(-90)" textLength="31.31" lengthAdjust="spacingAndGlyphs"><tspan font-style="normal">+8q24 (</tspan><tspan font-style="italic">MYC</tspan><tspan font-style="normal">)</tspan></text>
<rect x="198.24" y="528.30" width="6.10" height="3.70" fill="#a6c653" />
<rect x="198.24" y="532.00" width="6.10" height="5.00" fill="#6a93d4" />
<rect x="198.24" y="537.00" width="6.10" height="3.20" fill="#2b1f7f" />
<rect x="198.24" y="540.20" width="6.10" height="14.60" fill="#818181" />
<rect x="198.24" y="554.80" width="6.10" height="9.30" fill="#6a93d4" />
<rect x="198.24" y="559.90" width="3.05" height="4.20" fill="#a6c653" />
<text x="0" y="0" font-size="5.7" fill="#222" transform="translate(203.29 524.70) rotate(-90)" textLength="13.59" lengthAdjust="spacingAndGlyphs"><tspan font-style="italic">TERT</tspan></text>
<rect x="208.70" y="520.10" width="6.10" height="20.10" fill="#6a93d4" />
<text x="0" y="0" font-size="5.7" fill="#222" transform="translate(213.75 516.50) rotate(-90)" textLength="8.89" lengthAdjust="spacingAndGlyphs"><tspan font-style="normal">+7p</tspan></text>
<rect x="219.16" y="520.10" width="6.10" height="20.10" fill="#d2381c" />
<text x="0" y="0" font-size="5.7" fill="#222" transform="translate(224.21 516.50) rotate(-90)" textLength="11.80" lengthAdjust="spacingAndGlyphs"><tspan font-style="normal">−19p</tspan></text>
<rect x="229.62" y="520.10" width="6.10" height="20.10" fill="#d2381c" />
<text x="0" y="0" font-size="5.7" fill="#222" transform="translate(234.67 516.50) rotate(-90)" textLength="29.43" lengthAdjust="spacingAndGlyphs"><tspan font-style="normal">−10p15−p13</tspan></text>
<rect x="240.08" y="523.60" width="6.10" height="16.60" fill="#d2381c" />
<rect x="240.08" y="540.20" width="6.10" height="9.50" fill="#d2381c" />
<text x="0" y="0" font-size="5.7" fill="#222" transform="translate(245.13 520.00) rotate(-90)" textLength="8.89" lengthAdjust="spacingAndGlyphs"><tspan font-style="normal">−8p</tspan></text>
<rect x="250.54" y="521.90" width="6.10" height="15.10" fill="#6a93d4" />
<rect x="250.54" y="537.00" width="6.10" height="3.20" fill="#2b1f7f" />
<text x="0" y="0" font-size="5.7" fill="#222" transform="translate(255.59 518.30) rotate(-90)" textLength="29.43" lengthAdjust="spacingAndGlyphs"><tspan font-style="normal">+18q21−q22</tspan></text>
<rect x="261.00" y="522.00" width="6.10" height="10.00" fill="#d2381c" />
<rect x="261.00" y="532.00" width="6.10" height="8.20" fill="#818181" />
<text x="0" y="0" font-size="5.7" fill="#222" transform="translate(266.05 518.40) rotate(-90)" textLength="15.73" lengthAdjust="spacingAndGlyphs"><tspan font-style="italic">SP140</tspan></text>
<rect x="271.46" y="527.00" width="6.10" height="13.20" fill="#d2381c" />
<rect x="271.46" y="540.20" width="6.10" height="4.70" fill="#818181" />
<rect x="271.46" y="544.90" width="6.10" height="4.80" fill="#d2381c" />
<text x="0" y="0" font-size="5.7" fill="#222" transform="translate(276.51 523.40) rotate(-90)" textLength="21.26" lengthAdjust="spacingAndGlyphs"><tspan font-style="italic">CDKN1B</tspan></text>
<rect x="281.92" y="523.30" width="6.10" height="16.90" fill="#818181" />
<text x="0" y="0" font-size="5.7" fill="#222" transform="translate(286.97 519.70) rotate(-90)" textLength="13.98" lengthAdjust="spacingAndGlyphs"><tspan font-style="italic">NSD2</tspan></text>
<rect x="292.38" y="525.20" width="6.10" height="8.40" fill="#6a93d4" />
<rect x="292.38" y="533.60" width="6.10" height="6.60" fill="#2b1f7f" />
<text x="0" y="0" font-size="5.7" fill="#222" transform="translate(297.43 521.60) rotate(-90)" textLength="34.81" lengthAdjust="spacingAndGlyphs"><tspan font-style="normal">+10p12 (</tspan><tspan font-style="italic">BMI1</tspan><tspan font-style="normal">)</tspan></text>
<rect x="302.84" y="527.00" width="6.10" height="6.00" fill="#d2381c" />
<rect x="302.84" y="533.00" width="6.10" height="7.20" fill="#818181" />
<text x="0" y="0" font-size="5.7" fill="#222" transform="translate(307.89 523.40) rotate(-90)" textLength="21.84" lengthAdjust="spacingAndGlyphs"><tspan font-style="italic">SAMHD1</tspan></text>
<rect x="313.30" y="527.00" width="6.10" height="6.60" fill="#6a93d4" />
<rect x="313.30" y="533.60" width="6.10" height="6.60" fill="#2b1f7f" />
<text x="0" y="0" font-size="5.7" fill="#222" transform="translate(318.35 523.40) rotate(-90)" textLength="45.87" lengthAdjust="spacingAndGlyphs"><tspan font-style="normal">+13q31 (</tspan><tspan font-style="italic">MIR17HG</tspan><tspan font-style="normal">)</tspan></text>
<rect x="323.76" y="528.60" width="6.10" height="11.60" fill="#818181" />
<text x="0" y="0" font-size="5.7" fill="#222" transform="translate(328.81 525.00) rotate(-90)" textLength="25.33" lengthAdjust="spacingAndGlyphs"><tspan font-style="italic">SMARCA4</tspan></text>
<rect x="334.22" y="528.60" width="6.10" height="11.60" fill="#d2381c" />
<text x="0" y="0" font-size="5.7" fill="#222" transform="translate(339.27 525.00) rotate(-90)" textLength="29.43" lengthAdjust="spacingAndGlyphs"><tspan font-style="normal">−15q14−q21</tspan></text>
<rect x="344.68" y="528.60" width="6.10" height="5.00" fill="#d2381c" />
<rect x="344.68" y="533.60" width="6.10" height="6.60" fill="#818181" />
<text x="0" y="0" font-size="5.7" fill="#222" transform="translate(349.73 525.00) rotate(-90)" textLength="15.14" lengthAdjust="spacingAndGlyphs"><tspan font-style="italic">BCOR</tspan></text>
<rect x="355.14" y="532.00" width="6.10" height="8.20" fill="#d2381c" />
<rect x="355.14" y="540.20" width="6.10" height="4.80" fill="#d2381c" />
<text x="0" y="0" font-size="5.7" fill="#222" transform="translate(360.19 528.40) rotate(-90)" textLength="17.63" lengthAdjust="spacingAndGlyphs"><tspan font-style="normal">−10q21</tspan></text>
<rect x="365.60" y="533.80" width="6.10" height="6.40" fill="#818181" />
<rect x="365.60" y="540.20" width="6.10" height="4.80" fill="#818181" />
<text x="0" y="0" font-size="5.7" fill="#222" transform="translate(370.65 530.20) rotate(-90)" textLength="25.33" lengthAdjust="spacingAndGlyphs"><tspan font-style="italic">HNRNPH1</tspan></text>
<rect x="376.06" y="535.40" width="6.10" height="4.80" fill="#818181" />
<rect x="376.06" y="540.20" width="6.10" height="9.50" fill="#818181" />
<text x="0" y="0" font-size="5.7" fill="#222" transform="translate(381.11 531.80) rotate(-90)" textLength="17.18" lengthAdjust="spacingAndGlyphs"><tspan font-style="italic">SYNE1</tspan></text>
<rect x="386.52" y="532.00" width="6.10" height="2.50" fill="#a6c653" />
<rect x="386.52" y="534.50" width="6.10" height="5.70" fill="#818181" />
<text x="0" y="0" font-size="5.7" fill="#222" transform="translate(391.57 528.40) rotate(-90)" textLength="13.98" lengthAdjust="spacingAndGlyphs"><tspan font-style="italic">UBR5</tspan></text>
<rect x="396.98" y="532.00" width="6.10" height="8.20" fill="#d2381c" />
<text x="0" y="0" font-size="5.7" fill="#222" transform="translate(402.03 528.40) rotate(-90)" textLength="14.72" lengthAdjust="spacingAndGlyphs"><tspan font-style="normal">−1p32</tspan></text>
<rect x="407.44" y="533.80" width="6.10" height="6.40" fill="#818181" />
<text x="0" y="0" font-size="5.7" fill="#222" transform="translate(412.49 530.20) rotate(-90)" textLength="17.47" lengthAdjust="spacingAndGlyphs"><tspan font-style="italic">MEF2B</tspan></text>
<rect x="417.90" y="535.40" width="6.10" height="4.80" fill="#818181" />
<rect x="417.90" y="540.20" width="6.10" height="4.80" fill="#818181" />
<text x="0" y="0" font-size="5.7" fill="#222" transform="translate(422.95 531.80) rotate(-90)" textLength="20.29" lengthAdjust="spacingAndGlyphs"><tspan font-style="italic">CARD11</tspan></text>
<rect x="428.36" y="535.40" width="6.10" height="4.80" fill="#818181" />
<rect x="428.36" y="540.20" width="6.10" height="4.80" fill="#818181" />
<text x="0" y="0" font-size="5.7" fill="#222" transform="translate(433.41 531.80) rotate(-90)" textLength="21.54" lengthAdjust="spacingAndGlyphs"><tspan font-style="italic">NOTCH1</tspan></text>
<rect x="438.82" y="535.40" width="6.10" height="4.80" fill="#818181" />
<text x="0" y="0" font-size="5.7" fill="#222" transform="translate(443.87 531.80) rotate(-90)" textLength="21.54" lengthAdjust="spacingAndGlyphs"><tspan font-style="italic">NOTCH2</tspan></text>
<rect x="449.28" y="537.00" width="6.10" height="3.20" fill="#818181" />
<rect x="449.28" y="540.20" width="6.10" height="4.80" fill="#818181" />
<text x="0" y="0" font-size="5.7" fill="#222" transform="translate(454.33 533.40) rotate(-90)" textLength="25.33" lengthAdjust="spacingAndGlyphs"><tspan font-style="italic">SMARCB1</tspan></text>
<rect x="459.74" y="535.40" width="6.10" height="4.80" fill="#818181" />
<text x="0" y="0" font-size="5.7" fill="#222" transform="translate(464.79 531.80) rotate(-90)" textLength="16.60" lengthAdjust="spacingAndGlyphs"><tspan font-style="italic">S1PR1</tspan></text>
<rect x="470.20" y="540.20" width="6.10" height="9.50" fill="#818181" />
<text x="0" y="0" font-size="5.7" fill="#222" transform="translate(475.25 536.60) rotate(-90)" textLength="20.38" lengthAdjust="spacingAndGlyphs"><tspan font-style="italic">DAZAP1</tspan></text>
<rect x="480.66" y="535.70" width="3.05" height="4.50" fill="#a6c653" />
<rect x="483.71" y="535.70" width="3.05" height="4.50" fill="#d2381c" />
<text x="0" y="0" font-size="5.7" fill="#222" transform="translate(485.71 532.10) rotate(-90)" textLength="21.46" lengthAdjust="spacingAndGlyphs"><tspan font-style="italic">PAX5</tspan><tspan font-style="normal"> SV</tspan></text>
<rect x="491.12" y="540.20" width="6.10" height="9.50" fill="#818181" />
<text x="0" y="0" font-size="5.7" fill="#222" transform="translate(496.17 536.60) rotate(-90)" textLength="12.81" lengthAdjust="spacingAndGlyphs"><tspan font-style="italic">TLR2</tspan></text>
<rect x="53.05" y="543.70" width="3.60" height="0.60" fill="#999" />
<rect x="64.11" y="558.50" width="2.40" height="0.60" fill="#999" />
<rect x="74.57" y="543.70" width="2.40" height="0.60" fill="#999" />
<rect x="84.43" y="543.70" width="3.60" height="0.60" fill="#999" />
<rect x="96.09" y="543.70" width="1.20" height="0.60" fill="#999" />
<rect x="105.35" y="625.70" width="3.60" height="0.60" fill="#999" />
<rect x="127.47" y="548.70" width="1.20" height="0.60" fill="#999" />
<rect x="137.93" y="548.70" width="1.20" height="0.60" fill="#999" />
<rect x="211.15" y="543.70" width="1.20" height="0.60" fill="#999" />
<rect x="221.61" y="543.70" width="1.20" height="0.60" fill="#999" />
<rect x="232.07" y="543.70" width="1.20" height="0.60" fill="#999" />
<path d="M46.4 629 V452.7 H502.9 V629 Z" fill="none" stroke="#111" stroke-width="1.3"/>
<rect x="46.40" y="539.60" width="456.50" height="1.30" fill="#111" />
<rect x="463.70" y="460.80" width="3.90" height="0.60" fill="#888" />
<text x="471" y="461.90" font-size="5.6" fill="#333" textLength="21.4" lengthAdjust="spacingAndGlyphs">Q &lt; 0.01</text>
<rect x="465.00" y="471.40" width="2.60" height="0.60" fill="#888" />
<text x="471" y="472.50" font-size="5.6" fill="#333" textLength="21.4" lengthAdjust="spacingAndGlyphs">Q &lt; 0.05</text>
<rect x="466.30" y="482.00" width="1.30" height="0.60" fill="#888" />
<text x="471" y="483.10" font-size="5.6" fill="#333" textLength="21.4" lengthAdjust="spacingAndGlyphs">Q &lt; 0.15</text>
</svg>
</body></html>
